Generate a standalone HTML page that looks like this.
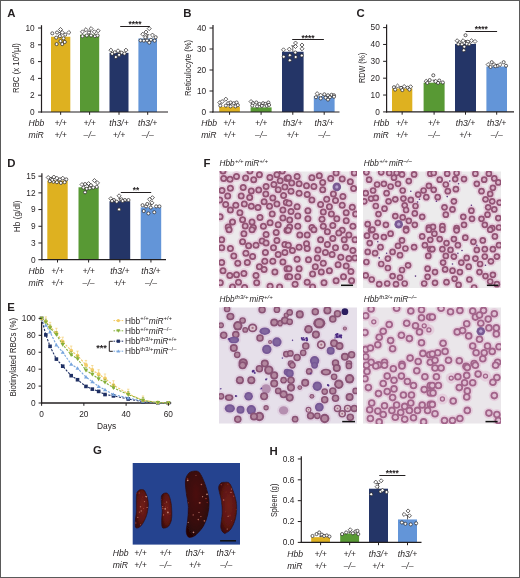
<!DOCTYPE html><html><head><meta charset="utf-8"><style>html,body{margin:0;padding:0;background:#fff;overflow:hidden}svg{display:block;will-change:transform}</style></head><body><svg width="520" height="578" viewBox="0 0 520 578" font-family="'Liberation Sans', sans-serif">
<rect x="0" y="0" width="520" height="578" fill="#fff"/>
<text x="7.30" y="17.40" font-size="11.4" text-anchor="start" font-weight="bold" fill="#231f20" >A</text>
<text x="183.30" y="17.40" font-size="11.4" text-anchor="start" font-weight="bold" fill="#231f20" >B</text>
<text x="356.60" y="17.40" font-size="11.4" text-anchor="start" font-weight="bold" fill="#231f20" >C</text>
<text x="7.30" y="166.60" font-size="11.4" text-anchor="start" font-weight="bold" fill="#231f20" >D</text>
<text x="7.30" y="310.80" font-size="11.4" text-anchor="start" font-weight="bold" fill="#231f20" >E</text>
<text x="203.60" y="166.60" font-size="11.4" text-anchor="start" font-weight="bold" fill="#231f20" >F</text>
<text x="93.00" y="454.20" font-size="11.4" text-anchor="start" font-weight="bold" fill="#231f20" >G</text>
<text x="269.60" y="454.60" font-size="11.4" text-anchor="start" font-weight="bold" fill="#231f20" >H</text>
<rect x="51.00" y="36.74" width="19.30" height="75.26" fill="#deb120"/>
<rect x="80.00" y="34.72" width="19.20" height="77.28" fill="#589934"/>
<rect x="109.50" y="52.86" width="19.00" height="59.14" fill="#243567"/>
<rect x="138.40" y="38.50" width="18.60" height="73.50" fill="#6395d8"/>
<line x1="60.65" y1="36.74" x2="60.65" y2="32.54" stroke="#231f20" stroke-width="0.7" />
<line x1="59.05" y1="32.54" x2="62.25" y2="32.54" stroke="#231f20" stroke-width="0.7" />
<circle cx="52.31" cy="33.35" r="1.55" fill="#fff" stroke="#231f20" stroke-width="0.7"/>
<circle cx="57.05" cy="32.49" r="1.55" fill="#fff" stroke="#231f20" stroke-width="0.7"/>
<path d="M60.49 27.46L62.51 29.48L60.49 31.49L58.48 29.48Z" fill="#fff" stroke="#231f20" stroke-width="0.7"/>
<path d="M62.21 30.48L64.23 32.49L62.21 34.51L60.20 32.49Z" fill="#fff" stroke="#231f20" stroke-width="0.7"/>
<circle cx="65.23" cy="34.65" r="1.55" fill="#fff" stroke="#231f20" stroke-width="0.7"/>
<path d="M68.89 30.48L70.91 32.49L68.89 34.51L66.88 32.49Z" fill="#fff" stroke="#231f20" stroke-width="0.7"/>
<circle cx="56.18" cy="37.66" r="1.55" fill="#fff" stroke="#231f20" stroke-width="0.7"/>
<circle cx="59.85" cy="36.15" r="1.55" fill="#fff" stroke="#231f20" stroke-width="0.7"/>
<circle cx="63.51" cy="38.31" r="1.55" fill="#fff" stroke="#231f20" stroke-width="0.7"/>
<circle cx="60.49" cy="41.11" r="1.55" fill="#fff" stroke="#231f20" stroke-width="0.7"/>
<circle cx="64.80" cy="41.97" r="1.55" fill="#fff" stroke="#231f20" stroke-width="0.7"/>
<circle cx="56.62" cy="44.12" r="1.55" fill="#fff" stroke="#231f20" stroke-width="0.7"/>
<circle cx="62.21" cy="44.12" r="1.55" fill="#fff" stroke="#231f20" stroke-width="0.7"/>
<line x1="89.60" y1="34.72" x2="89.60" y2="31.36" stroke="#231f20" stroke-width="0.7" />
<line x1="88.00" y1="31.36" x2="91.20" y2="31.36" stroke="#231f20" stroke-width="0.7" />
<path d="M82.46 29.83L84.48 31.85L82.46 33.86L80.45 31.85Z" fill="#fff" stroke="#231f20" stroke-width="0.7"/>
<path d="M85.91 27.68L87.92 29.69L85.91 31.71L83.89 29.69Z" fill="#fff" stroke="#231f20" stroke-width="0.7"/>
<path d="M91.08 26.60L93.09 28.62L91.08 30.63L89.06 28.62Z" fill="#fff" stroke="#231f20" stroke-width="0.7"/>
<path d="M94.31 29.83L96.32 31.85L94.31 33.86L92.29 31.85Z" fill="#fff" stroke="#231f20" stroke-width="0.7"/>
<path d="M98.18 28.75L100.20 30.77L98.18 32.78L96.17 30.77Z" fill="#fff" stroke="#231f20" stroke-width="0.7"/>
<circle cx="82.46" cy="36.15" r="1.55" fill="#fff" stroke="#231f20" stroke-width="0.7"/>
<circle cx="86.77" cy="35.51" r="1.55" fill="#fff" stroke="#231f20" stroke-width="0.7"/>
<circle cx="91.08" cy="35.51" r="1.55" fill="#fff" stroke="#231f20" stroke-width="0.7"/>
<circle cx="94.95" cy="36.15" r="1.55" fill="#fff" stroke="#231f20" stroke-width="0.7"/>
<circle cx="97.54" cy="35.51" r="1.55" fill="#fff" stroke="#231f20" stroke-width="0.7"/>
<circle cx="88.92" cy="32.49" r="1.55" fill="#fff" stroke="#231f20" stroke-width="0.7"/>
<line x1="119.00" y1="52.86" x2="119.00" y2="51.18" stroke="#231f20" stroke-width="0.7" />
<line x1="117.40" y1="51.18" x2="120.60" y2="51.18" stroke="#231f20" stroke-width="0.7" />
<path d="M110.89 48.14L112.91 50.15L110.89 52.17L108.88 50.15Z" fill="#fff" stroke="#231f20" stroke-width="0.7"/>
<circle cx="114.77" cy="52.31" r="1.55" fill="#fff" stroke="#231f20" stroke-width="0.7"/>
<path d="M118.00 48.78L120.01 50.80L118.00 52.81L115.98 50.80Z" fill="#fff" stroke="#231f20" stroke-width="0.7"/>
<circle cx="121.66" cy="52.74" r="1.55" fill="#fff" stroke="#231f20" stroke-width="0.7"/>
<path d="M125.97 48.14L127.98 50.15L125.97 52.17L123.95 50.15Z" fill="#fff" stroke="#231f20" stroke-width="0.7"/>
<circle cx="112.18" cy="53.81" r="1.55" fill="#fff" stroke="#231f20" stroke-width="0.7"/>
<circle cx="119.07" cy="54.89" r="1.55" fill="#fff" stroke="#231f20" stroke-width="0.7"/>
<circle cx="124.46" cy="53.60" r="1.55" fill="#fff" stroke="#231f20" stroke-width="0.7"/>
<circle cx="115.84" cy="57.05" r="1.55" fill="#fff" stroke="#231f20" stroke-width="0.7"/>
<line x1="147.70" y1="38.50" x2="147.70" y2="34.72" stroke="#231f20" stroke-width="0.7" />
<line x1="146.10" y1="34.72" x2="149.30" y2="34.72" stroke="#231f20" stroke-width="0.7" />
<path d="M142.77 32.20L144.78 34.21L142.77 36.23L140.75 34.21Z" fill="#fff" stroke="#231f20" stroke-width="0.7"/>
<path d="M146.00 30.05L148.01 32.06L146.00 34.08L143.98 32.06Z" fill="#fff" stroke="#231f20" stroke-width="0.7"/>
<path d="M149.23 26.60L151.24 28.62L149.23 30.63L147.21 28.62Z" fill="#fff" stroke="#231f20" stroke-width="0.7"/>
<path d="M152.46 33.06L154.47 35.08L152.46 37.09L150.44 35.08Z" fill="#fff" stroke="#231f20" stroke-width="0.7"/>
<circle cx="155.69" cy="37.23" r="1.55" fill="#fff" stroke="#231f20" stroke-width="0.7"/>
<circle cx="140.61" cy="40.46" r="1.55" fill="#fff" stroke="#231f20" stroke-width="0.7"/>
<circle cx="143.84" cy="40.68" r="1.55" fill="#fff" stroke="#231f20" stroke-width="0.7"/>
<circle cx="147.07" cy="40.46" r="1.55" fill="#fff" stroke="#231f20" stroke-width="0.7"/>
<circle cx="150.95" cy="39.81" r="1.55" fill="#fff" stroke="#231f20" stroke-width="0.7"/>
<circle cx="154.61" cy="40.68" r="1.55" fill="#fff" stroke="#231f20" stroke-width="0.7"/>
<circle cx="145.35" cy="37.23" r="1.55" fill="#fff" stroke="#231f20" stroke-width="0.7"/>
<circle cx="149.23" cy="42.61" r="1.55" fill="#fff" stroke="#231f20" stroke-width="0.7"/>
<line x1="41.50" y1="25.20" x2="41.50" y2="112.60" stroke="#231f20" stroke-width="1.2" />
<line x1="40.90" y1="112.00" x2="168.00" y2="112.00" stroke="#231f20" stroke-width="1.2" />
<line x1="38.00" y1="112.00" x2="41.50" y2="112.00" stroke="#231f20" stroke-width="1.0" />
<text x="34.70" y="114.80" font-size="8.3" text-anchor="end" fill="#231f20" >0</text>
<line x1="38.00" y1="95.20" x2="41.50" y2="95.20" stroke="#231f20" stroke-width="1.0" />
<text x="34.70" y="98.00" font-size="8.3" text-anchor="end" fill="#231f20" >2</text>
<line x1="38.00" y1="78.40" x2="41.50" y2="78.40" stroke="#231f20" stroke-width="1.0" />
<text x="34.70" y="81.20" font-size="8.3" text-anchor="end" fill="#231f20" >4</text>
<line x1="38.00" y1="61.60" x2="41.50" y2="61.60" stroke="#231f20" stroke-width="1.0" />
<text x="34.70" y="64.40" font-size="8.3" text-anchor="end" fill="#231f20" >6</text>
<line x1="38.00" y1="44.80" x2="41.50" y2="44.80" stroke="#231f20" stroke-width="1.0" />
<text x="34.70" y="47.60" font-size="8.3" text-anchor="end" fill="#231f20" >8</text>
<line x1="38.00" y1="28.00" x2="41.50" y2="28.00" stroke="#231f20" stroke-width="1.0" />
<text x="34.70" y="30.80" font-size="8.3" text-anchor="end" fill="#231f20" >10</text>
<line x1="60.65" y1="112.00" x2="60.65" y2="114.80" stroke="#231f20" stroke-width="1.0" />
<line x1="89.60" y1="112.00" x2="89.60" y2="114.80" stroke="#231f20" stroke-width="1.0" />
<line x1="119.00" y1="112.00" x2="119.00" y2="114.80" stroke="#231f20" stroke-width="1.0" />
<line x1="147.70" y1="112.00" x2="147.70" y2="114.80" stroke="#231f20" stroke-width="1.0" />
<line x1="120.20" y1="26.50" x2="149.80" y2="26.50" stroke="#231f20" stroke-width="1.0" />
<text x="135.00" y="27.00" font-size="8.8" text-anchor="middle" font-weight="bold" textLength="13.10" lengthAdjust="spacingAndGlyphs" fill="#231f20" >****</text>
<text x="0" y="0" font-size="8.4" text-anchor="middle" fill="#231f20" textLength="49.80" lengthAdjust="spacingAndGlyphs" transform="translate(19.30,68.10) rotate(-90)">RBC (x 10<tspan font-size="5.3" dy="-3">6</tspan><tspan dy="3">/µl)</tspan></text>
<text x="28.50" y="125.70" font-size="8.6" text-anchor="start" font-style="italic" fill="#231f20" >Hbb</text>
<text x="28.50" y="138.40" font-size="8.6" text-anchor="start" font-style="italic" fill="#231f20" >miR</text>
<text x="60.65" y="125.70" font-size="8.6" text-anchor="middle" font-style="italic" fill="#231f20" >+/+</text>
<text x="60.65" y="138.40" font-size="8.6" text-anchor="middle" font-style="italic" fill="#231f20" >+/+</text>
<text x="89.60" y="125.70" font-size="8.6" text-anchor="middle" font-style="italic" fill="#231f20" >+/+</text>
<text x="89.60" y="138.40" font-size="8.6" text-anchor="middle" font-style="italic" fill="#231f20" >&#8211;/&#8211;</text>
<text x="119.00" y="125.70" font-size="8.6" text-anchor="middle" font-style="italic" fill="#231f20" >th3/+</text>
<text x="119.00" y="138.40" font-size="8.6" text-anchor="middle" font-style="italic" fill="#231f20" >+/+</text>
<text x="147.70" y="125.70" font-size="8.6" text-anchor="middle" font-style="italic" fill="#231f20" >th3/+</text>
<text x="147.70" y="138.40" font-size="8.6" text-anchor="middle" font-style="italic" fill="#231f20" >&#8211;/&#8211;</text>
<rect x="219.20" y="106.75" width="20.70" height="5.25" fill="#deb120"/>
<rect x="250.60" y="107.38" width="21.00" height="4.62" fill="#589934"/>
<rect x="282.00" y="51.73" width="21.60" height="60.27" fill="#243567"/>
<rect x="313.80" y="96.25" width="20.80" height="15.75" fill="#6395d8"/>
<line x1="229.55" y1="106.75" x2="229.55" y2="104.65" stroke="#231f20" stroke-width="0.7" />
<line x1="227.95" y1="104.65" x2="231.15" y2="104.65" stroke="#231f20" stroke-width="0.7" />
<path d="M219.81 100.48L221.82 102.50L219.81 104.52L217.79 102.50Z" fill="#fff" stroke="#231f20" stroke-width="0.7"/>
<path d="M222.21 99.52L224.23 101.54L222.21 103.55L220.20 101.54Z" fill="#fff" stroke="#231f20" stroke-width="0.7"/>
<path d="M225.82 97.12L227.83 99.13L225.82 101.15L223.80 99.13Z" fill="#fff" stroke="#231f20" stroke-width="0.7"/>
<circle cx="228.22" cy="103.22" r="1.55" fill="#fff" stroke="#231f20" stroke-width="0.7"/>
<circle cx="230.62" cy="102.50" r="1.55" fill="#fff" stroke="#231f20" stroke-width="0.7"/>
<circle cx="233.75" cy="103.22" r="1.55" fill="#fff" stroke="#231f20" stroke-width="0.7"/>
<circle cx="236.63" cy="102.50" r="1.55" fill="#fff" stroke="#231f20" stroke-width="0.7"/>
<circle cx="220.29" cy="105.62" r="1.55" fill="#fff" stroke="#231f20" stroke-width="0.7"/>
<circle cx="225.82" cy="105.62" r="1.55" fill="#fff" stroke="#231f20" stroke-width="0.7"/>
<circle cx="230.62" cy="106.35" r="1.55" fill="#fff" stroke="#231f20" stroke-width="0.7"/>
<circle cx="235.43" cy="106.35" r="1.55" fill="#fff" stroke="#231f20" stroke-width="0.7"/>
<circle cx="237.84" cy="105.14" r="1.55" fill="#fff" stroke="#231f20" stroke-width="0.7"/>
<line x1="261.10" y1="107.38" x2="261.10" y2="105.70" stroke="#231f20" stroke-width="0.7" />
<line x1="259.50" y1="105.70" x2="262.70" y2="105.70" stroke="#231f20" stroke-width="0.7" />
<path d="M251.06 99.52L253.07 101.54L251.06 103.55L249.04 101.54Z" fill="#fff" stroke="#231f20" stroke-width="0.7"/>
<circle cx="252.98" cy="103.22" r="1.55" fill="#fff" stroke="#231f20" stroke-width="0.7"/>
<circle cx="256.35" cy="102.50" r="1.55" fill="#fff" stroke="#231f20" stroke-width="0.7"/>
<circle cx="259.47" cy="103.94" r="1.55" fill="#fff" stroke="#231f20" stroke-width="0.7"/>
<circle cx="263.08" cy="103.22" r="1.55" fill="#fff" stroke="#231f20" stroke-width="0.7"/>
<circle cx="265.48" cy="103.94" r="1.55" fill="#fff" stroke="#231f20" stroke-width="0.7"/>
<circle cx="268.37" cy="102.50" r="1.55" fill="#fff" stroke="#231f20" stroke-width="0.7"/>
<circle cx="252.26" cy="105.62" r="1.55" fill="#fff" stroke="#231f20" stroke-width="0.7"/>
<circle cx="257.07" cy="106.35" r="1.55" fill="#fff" stroke="#231f20" stroke-width="0.7"/>
<circle cx="261.88" cy="105.87" r="1.55" fill="#fff" stroke="#231f20" stroke-width="0.7"/>
<circle cx="266.68" cy="105.87" r="1.55" fill="#fff" stroke="#231f20" stroke-width="0.7"/>
<circle cx="269.09" cy="104.90" r="1.55" fill="#fff" stroke="#231f20" stroke-width="0.7"/>
<line x1="292.80" y1="51.73" x2="292.80" y2="45.85" stroke="#231f20" stroke-width="0.7" />
<line x1="291.20" y1="45.85" x2="294.40" y2="45.85" stroke="#231f20" stroke-width="0.7" />
<path d="M283.51 47.79L285.52 49.81L283.51 51.82L281.49 49.81Z" fill="#fff" stroke="#231f20" stroke-width="0.7"/>
<path d="M289.30 47.19L291.32 49.21L289.30 51.22L287.29 49.21Z" fill="#fff" stroke="#231f20" stroke-width="0.7"/>
<path d="M295.50 40.99L297.52 43.00L295.50 45.02L293.49 43.00Z" fill="#fff" stroke="#231f20" stroke-width="0.7"/>
<path d="M295.50 44.48L297.52 46.49L295.50 48.51L293.49 46.49Z" fill="#fff" stroke="#231f20" stroke-width="0.7"/>
<path d="M302.00 42.99L304.01 45.00L302.00 47.02L299.98 45.00Z" fill="#fff" stroke="#231f20" stroke-width="0.7"/>
<path d="M302.00 46.78L304.01 48.80L302.00 50.81L299.98 48.80Z" fill="#fff" stroke="#231f20" stroke-width="0.7"/>
<circle cx="283.70" cy="56.71" r="1.55" fill="#fff" stroke="#231f20" stroke-width="0.7"/>
<circle cx="289.81" cy="55.19" r="1.55" fill="#fff" stroke="#231f20" stroke-width="0.7"/>
<circle cx="295.29" cy="52.50" r="1.55" fill="#fff" stroke="#231f20" stroke-width="0.7"/>
<circle cx="295.70" cy="57.00" r="1.55" fill="#fff" stroke="#231f20" stroke-width="0.7"/>
<circle cx="301.80" cy="55.50" r="1.55" fill="#fff" stroke="#231f20" stroke-width="0.7"/>
<circle cx="289.81" cy="60.29" r="1.55" fill="#fff" stroke="#231f20" stroke-width="0.7"/>
<line x1="324.20" y1="96.25" x2="324.20" y2="94.57" stroke="#231f20" stroke-width="0.7" />
<line x1="322.60" y1="94.57" x2="325.80" y2="94.57" stroke="#231f20" stroke-width="0.7" />
<path d="M317.16 91.59L319.18 93.61L317.16 95.62L315.15 93.61Z" fill="#fff" stroke="#231f20" stroke-width="0.7"/>
<path d="M320.77 93.27L322.78 95.29L320.77 97.30L318.75 95.29Z" fill="#fff" stroke="#231f20" stroke-width="0.7"/>
<circle cx="324.38" cy="94.33" r="1.55" fill="#fff" stroke="#231f20" stroke-width="0.7"/>
<circle cx="327.98" cy="95.29" r="1.55" fill="#fff" stroke="#231f20" stroke-width="0.7"/>
<circle cx="331.59" cy="94.81" r="1.55" fill="#fff" stroke="#231f20" stroke-width="0.7"/>
<circle cx="333.99" cy="95.29" r="1.55" fill="#fff" stroke="#231f20" stroke-width="0.7"/>
<circle cx="315.96" cy="97.21" r="1.55" fill="#fff" stroke="#231f20" stroke-width="0.7"/>
<circle cx="320.77" cy="98.41" r="1.55" fill="#fff" stroke="#231f20" stroke-width="0.7"/>
<circle cx="325.58" cy="97.69" r="1.55" fill="#fff" stroke="#231f20" stroke-width="0.7"/>
<circle cx="329.90" cy="97.21" r="1.55" fill="#fff" stroke="#231f20" stroke-width="0.7"/>
<circle cx="333.99" cy="96.73" r="1.55" fill="#fff" stroke="#231f20" stroke-width="0.7"/>
<circle cx="327.98" cy="99.62" r="1.55" fill="#fff" stroke="#231f20" stroke-width="0.7"/>
<line x1="213.00" y1="24.90" x2="213.00" y2="112.60" stroke="#231f20" stroke-width="1.2" />
<line x1="212.40" y1="112.00" x2="339.50" y2="112.00" stroke="#231f20" stroke-width="1.2" />
<line x1="209.50" y1="112.00" x2="213.00" y2="112.00" stroke="#231f20" stroke-width="1.0" />
<text x="206.20" y="114.80" font-size="8.3" text-anchor="end" fill="#231f20" >0</text>
<line x1="209.50" y1="91.00" x2="213.00" y2="91.00" stroke="#231f20" stroke-width="1.0" />
<text x="206.20" y="93.80" font-size="8.3" text-anchor="end" fill="#231f20" >10</text>
<line x1="209.50" y1="70.00" x2="213.00" y2="70.00" stroke="#231f20" stroke-width="1.0" />
<text x="206.20" y="72.80" font-size="8.3" text-anchor="end" fill="#231f20" >20</text>
<line x1="209.50" y1="49.00" x2="213.00" y2="49.00" stroke="#231f20" stroke-width="1.0" />
<text x="206.20" y="51.80" font-size="8.3" text-anchor="end" fill="#231f20" >30</text>
<line x1="209.50" y1="28.00" x2="213.00" y2="28.00" stroke="#231f20" stroke-width="1.0" />
<text x="206.20" y="30.80" font-size="8.3" text-anchor="end" fill="#231f20" >40</text>
<line x1="229.55" y1="112.00" x2="229.55" y2="114.80" stroke="#231f20" stroke-width="1.0" />
<line x1="261.10" y1="112.00" x2="261.10" y2="114.80" stroke="#231f20" stroke-width="1.0" />
<line x1="292.80" y1="112.00" x2="292.80" y2="114.80" stroke="#231f20" stroke-width="1.0" />
<line x1="324.20" y1="112.00" x2="324.20" y2="114.80" stroke="#231f20" stroke-width="1.0" />
<line x1="292.20" y1="39.50" x2="323.90" y2="39.50" stroke="#231f20" stroke-width="1.0" />
<text x="308.05" y="40.50" font-size="8.8" text-anchor="middle" font-weight="bold" textLength="13.10" lengthAdjust="spacingAndGlyphs" fill="#231f20" >****</text>
<text x="0" y="0" font-size="8.4" text-anchor="middle" fill="#231f20" textLength="56.10" lengthAdjust="spacingAndGlyphs" transform="translate(191.30,67.90) rotate(-90)">Reticulocyte (%)</text>
<text x="201.20" y="125.70" font-size="8.6" text-anchor="start" font-style="italic" fill="#231f20" >Hbb</text>
<text x="201.20" y="138.40" font-size="8.6" text-anchor="start" font-style="italic" fill="#231f20" >miR</text>
<text x="229.55" y="125.70" font-size="8.6" text-anchor="middle" font-style="italic" fill="#231f20" >+/+</text>
<text x="229.55" y="138.40" font-size="8.6" text-anchor="middle" font-style="italic" fill="#231f20" >+/+</text>
<text x="261.10" y="125.70" font-size="8.6" text-anchor="middle" font-style="italic" fill="#231f20" >+/+</text>
<text x="261.10" y="138.40" font-size="8.6" text-anchor="middle" font-style="italic" fill="#231f20" >&#8211;/&#8211;</text>
<text x="292.80" y="125.70" font-size="8.6" text-anchor="middle" font-style="italic" fill="#231f20" >th3/+</text>
<text x="292.80" y="138.40" font-size="8.6" text-anchor="middle" font-style="italic" fill="#231f20" >+/+</text>
<text x="324.20" y="125.70" font-size="8.6" text-anchor="middle" font-style="italic" fill="#231f20" >th3/+</text>
<text x="324.20" y="138.40" font-size="8.6" text-anchor="middle" font-style="italic" fill="#231f20" >&#8211;/&#8211;</text>
<rect x="392.00" y="88.46" width="20.30" height="23.44" fill="#deb120"/>
<rect x="423.60" y="82.73" width="21.00" height="29.17" fill="#589934"/>
<rect x="455.00" y="43.95" width="21.00" height="67.95" fill="#243567"/>
<rect x="486.40" y="66.55" width="20.60" height="45.35" fill="#6395d8"/>
<line x1="402.15" y1="88.46" x2="402.15" y2="86.78" stroke="#231f20" stroke-width="0.7" />
<line x1="400.55" y1="86.78" x2="403.75" y2="86.78" stroke="#231f20" stroke-width="0.7" />
<circle cx="393.96" cy="87.22" r="1.55" fill="#fff" stroke="#231f20" stroke-width="0.7"/>
<path d="M397.54 84.02L399.55 86.03L397.54 88.05L395.52 86.03Z" fill="#fff" stroke="#231f20" stroke-width="0.7"/>
<circle cx="401.11" cy="87.94" r="1.55" fill="#fff" stroke="#231f20" stroke-width="0.7"/>
<path d="M404.21 84.49L406.23 86.51L404.21 88.52L402.20 86.51Z" fill="#fff" stroke="#231f20" stroke-width="0.7"/>
<circle cx="407.55" cy="87.70" r="1.55" fill="#fff" stroke="#231f20" stroke-width="0.7"/>
<path d="M410.65 84.73L412.67 86.75L410.65 88.76L408.64 86.75Z" fill="#fff" stroke="#231f20" stroke-width="0.7"/>
<circle cx="395.15" cy="89.61" r="1.55" fill="#fff" stroke="#231f20" stroke-width="0.7"/>
<circle cx="402.31" cy="90.09" r="1.55" fill="#fff" stroke="#231f20" stroke-width="0.7"/>
<circle cx="409.46" cy="89.61" r="1.55" fill="#fff" stroke="#231f20" stroke-width="0.7"/>
<line x1="434.10" y1="82.73" x2="434.10" y2="80.20" stroke="#231f20" stroke-width="0.7" />
<line x1="432.50" y1="80.20" x2="435.70" y2="80.20" stroke="#231f20" stroke-width="0.7" />
<path d="M426.15 79.25L428.16 81.26L426.15 83.28L424.13 81.26Z" fill="#fff" stroke="#231f20" stroke-width="0.7"/>
<circle cx="429.73" cy="80.07" r="1.55" fill="#fff" stroke="#231f20" stroke-width="0.7"/>
<circle cx="433.30" cy="75.30" r="1.55" fill="#fff" stroke="#231f20" stroke-width="0.7"/>
<path d="M435.69 79.25L437.70 81.26L435.69 83.28L433.67 81.26Z" fill="#fff" stroke="#231f20" stroke-width="0.7"/>
<circle cx="439.26" cy="80.55" r="1.55" fill="#fff" stroke="#231f20" stroke-width="0.7"/>
<circle cx="442.84" cy="82.46" r="1.55" fill="#fff" stroke="#231f20" stroke-width="0.7"/>
<circle cx="427.34" cy="82.93" r="1.55" fill="#fff" stroke="#231f20" stroke-width="0.7"/>
<circle cx="438.07" cy="82.93" r="1.55" fill="#fff" stroke="#231f20" stroke-width="0.7"/>
<line x1="465.50" y1="43.95" x2="465.50" y2="40.58" stroke="#231f20" stroke-width="0.7" />
<line x1="463.90" y1="40.58" x2="467.10" y2="40.58" stroke="#231f20" stroke-width="0.7" />
<path d="M457.15 38.71L459.16 40.73L457.15 42.74L455.13 40.73Z" fill="#fff" stroke="#231f20" stroke-width="0.7"/>
<circle cx="459.53" cy="42.40" r="1.55" fill="#fff" stroke="#231f20" stroke-width="0.7"/>
<path d="M463.11 38.71L465.12 40.73L463.11 42.74L461.09 40.73Z" fill="#fff" stroke="#231f20" stroke-width="0.7"/>
<circle cx="465.49" cy="35.25" r="1.55" fill="#fff" stroke="#231f20" stroke-width="0.7"/>
<path d="M467.88 39.91L469.89 41.92L467.88 43.94L465.86 41.92Z" fill="#fff" stroke="#231f20" stroke-width="0.7"/>
<path d="M471.45 38.71L473.47 40.73L471.45 42.74L469.44 40.73Z" fill="#fff" stroke="#231f20" stroke-width="0.7"/>
<path d="M475.03 39.43L477.04 41.44L475.03 43.46L473.01 41.44Z" fill="#fff" stroke="#231f20" stroke-width="0.7"/>
<circle cx="458.34" cy="44.31" r="1.55" fill="#fff" stroke="#231f20" stroke-width="0.7"/>
<circle cx="464.30" cy="46.69" r="1.55" fill="#fff" stroke="#231f20" stroke-width="0.7"/>
<circle cx="469.07" cy="44.31" r="1.55" fill="#fff" stroke="#231f20" stroke-width="0.7"/>
<circle cx="461.92" cy="44.31" r="1.55" fill="#fff" stroke="#231f20" stroke-width="0.7"/>
<circle cx="466.68" cy="43.83" r="1.55" fill="#fff" stroke="#231f20" stroke-width="0.7"/>
<circle cx="463.82" cy="50.27" r="1.55" fill="#fff" stroke="#231f20" stroke-width="0.7"/>
<line x1="496.70" y1="66.55" x2="496.70" y2="64.86" stroke="#231f20" stroke-width="0.7" />
<line x1="495.10" y1="64.86" x2="498.30" y2="64.86" stroke="#231f20" stroke-width="0.7" />
<path d="M488.14 62.56L490.16 64.57L488.14 66.59L486.13 64.57Z" fill="#fff" stroke="#231f20" stroke-width="0.7"/>
<circle cx="491.72" cy="62.19" r="1.55" fill="#fff" stroke="#231f20" stroke-width="0.7"/>
<path d="M494.10 62.56L496.12 64.57L494.10 66.59L492.09 64.57Z" fill="#fff" stroke="#231f20" stroke-width="0.7"/>
<circle cx="497.68" cy="65.77" r="1.55" fill="#fff" stroke="#231f20" stroke-width="0.7"/>
<path d="M500.06 62.56L502.08 64.57L500.06 66.59L498.05 64.57Z" fill="#fff" stroke="#231f20" stroke-width="0.7"/>
<circle cx="503.64" cy="62.19" r="1.55" fill="#fff" stroke="#231f20" stroke-width="0.7"/>
<circle cx="506.03" cy="65.77" r="1.55" fill="#fff" stroke="#231f20" stroke-width="0.7"/>
<circle cx="490.53" cy="66.96" r="1.55" fill="#fff" stroke="#231f20" stroke-width="0.7"/>
<circle cx="495.30" cy="66.24" r="1.55" fill="#fff" stroke="#231f20" stroke-width="0.7"/>
<line x1="386.60" y1="24.50" x2="386.60" y2="112.50" stroke="#231f20" stroke-width="1.2" />
<line x1="386.00" y1="111.90" x2="514.00" y2="111.90" stroke="#231f20" stroke-width="1.2" />
<line x1="383.10" y1="111.90" x2="386.60" y2="111.90" stroke="#231f20" stroke-width="1.0" />
<text x="379.80" y="114.70" font-size="8.3" text-anchor="end" fill="#231f20" >0</text>
<line x1="383.10" y1="95.04" x2="386.60" y2="95.04" stroke="#231f20" stroke-width="1.0" />
<text x="379.80" y="97.84" font-size="8.3" text-anchor="end" fill="#231f20" >10</text>
<line x1="383.10" y1="78.18" x2="386.60" y2="78.18" stroke="#231f20" stroke-width="1.0" />
<text x="379.80" y="80.98" font-size="8.3" text-anchor="end" fill="#231f20" >20</text>
<line x1="383.10" y1="61.32" x2="386.60" y2="61.32" stroke="#231f20" stroke-width="1.0" />
<text x="379.80" y="64.12" font-size="8.3" text-anchor="end" fill="#231f20" >30</text>
<line x1="383.10" y1="44.46" x2="386.60" y2="44.46" stroke="#231f20" stroke-width="1.0" />
<text x="379.80" y="47.26" font-size="8.3" text-anchor="end" fill="#231f20" >40</text>
<line x1="383.10" y1="27.60" x2="386.60" y2="27.60" stroke="#231f20" stroke-width="1.0" />
<text x="379.80" y="30.40" font-size="8.3" text-anchor="end" fill="#231f20" >50</text>
<line x1="402.15" y1="111.90" x2="402.15" y2="114.70" stroke="#231f20" stroke-width="1.0" />
<line x1="434.10" y1="111.90" x2="434.10" y2="114.70" stroke="#231f20" stroke-width="1.0" />
<line x1="465.50" y1="111.90" x2="465.50" y2="114.70" stroke="#231f20" stroke-width="1.0" />
<line x1="496.70" y1="111.90" x2="496.70" y2="114.70" stroke="#231f20" stroke-width="1.0" />
<line x1="465.60" y1="31.50" x2="497.10" y2="31.50" stroke="#231f20" stroke-width="1.0" />
<text x="481.35" y="32.20" font-size="8.8" text-anchor="middle" font-weight="bold" textLength="13.10" lengthAdjust="spacingAndGlyphs" fill="#231f20" >****</text>
<text x="0" y="0" font-size="8.4" text-anchor="middle" fill="#231f20" textLength="30.20" lengthAdjust="spacingAndGlyphs" transform="translate(364.50,67.80) rotate(-90)">RDW (%)</text>
<text x="373.50" y="125.70" font-size="8.6" text-anchor="start" font-style="italic" fill="#231f20" >Hbb</text>
<text x="373.50" y="138.40" font-size="8.6" text-anchor="start" font-style="italic" fill="#231f20" >miR</text>
<text x="402.15" y="125.70" font-size="8.6" text-anchor="middle" font-style="italic" fill="#231f20" >+/+</text>
<text x="402.15" y="138.40" font-size="8.6" text-anchor="middle" font-style="italic" fill="#231f20" >+/+</text>
<text x="434.10" y="125.70" font-size="8.6" text-anchor="middle" font-style="italic" fill="#231f20" >+/+</text>
<text x="434.10" y="138.40" font-size="8.6" text-anchor="middle" font-style="italic" fill="#231f20" >&#8211;/&#8211;</text>
<text x="465.50" y="125.70" font-size="8.6" text-anchor="middle" font-style="italic" fill="#231f20" >th3/+</text>
<text x="465.50" y="138.40" font-size="8.6" text-anchor="middle" font-style="italic" fill="#231f20" >+/+</text>
<text x="496.70" y="125.70" font-size="8.6" text-anchor="middle" font-style="italic" fill="#231f20" >th3/+</text>
<text x="496.70" y="138.40" font-size="8.6" text-anchor="middle" font-style="italic" fill="#231f20" >&#8211;/&#8211;</text>
<rect x="47.30" y="180.61" width="20.40" height="79.09" fill="#deb120"/>
<rect x="78.50" y="187.29" width="20.20" height="72.41" fill="#589934"/>
<rect x="109.50" y="201.21" width="20.70" height="58.49" fill="#243567"/>
<rect x="140.70" y="207.34" width="20.50" height="52.36" fill="#6395d8"/>
<line x1="57.50" y1="180.61" x2="57.50" y2="178.66" stroke="#231f20" stroke-width="0.7" />
<line x1="55.90" y1="178.66" x2="59.10" y2="178.66" stroke="#231f20" stroke-width="0.7" />
<path d="M48.22 175.49L50.24 177.51L48.22 179.52L46.21 177.51Z" fill="#fff" stroke="#231f20" stroke-width="0.7"/>
<circle cx="51.04" cy="178.92" r="1.55" fill="#fff" stroke="#231f20" stroke-width="0.7"/>
<path d="M53.85 175.02L55.87 177.04L53.85 179.05L51.84 177.04Z" fill="#fff" stroke="#231f20" stroke-width="0.7"/>
<path d="M56.90 176.20L58.92 178.21L56.90 180.23L54.89 178.21Z" fill="#fff" stroke="#231f20" stroke-width="0.7"/>
<circle cx="59.95" cy="179.39" r="1.55" fill="#fff" stroke="#231f20" stroke-width="0.7"/>
<path d="M62.77 176.20L64.79 178.21L62.77 180.23L60.76 178.21Z" fill="#fff" stroke="#231f20" stroke-width="0.7"/>
<circle cx="66.29" cy="179.39" r="1.55" fill="#fff" stroke="#231f20" stroke-width="0.7"/>
<circle cx="49.87" cy="181.26" r="1.55" fill="#fff" stroke="#231f20" stroke-width="0.7"/>
<circle cx="53.39" cy="181.73" r="1.55" fill="#fff" stroke="#231f20" stroke-width="0.7"/>
<circle cx="56.90" cy="182.20" r="1.55" fill="#fff" stroke="#231f20" stroke-width="0.7"/>
<circle cx="60.89" cy="182.90" r="1.55" fill="#fff" stroke="#231f20" stroke-width="0.7"/>
<circle cx="64.65" cy="182.20" r="1.55" fill="#fff" stroke="#231f20" stroke-width="0.7"/>
<circle cx="52.21" cy="179.85" r="1.55" fill="#fff" stroke="#231f20" stroke-width="0.7"/>
<line x1="88.60" y1="187.29" x2="88.60" y2="184.78" stroke="#231f20" stroke-width="0.7" />
<line x1="87.00" y1="184.78" x2="90.20" y2="184.78" stroke="#231f20" stroke-width="0.7" />
<path d="M82.01 182.53L84.03 184.55L82.01 186.56L80.00 184.55Z" fill="#fff" stroke="#231f20" stroke-width="0.7"/>
<circle cx="85.06" cy="184.08" r="1.55" fill="#fff" stroke="#231f20" stroke-width="0.7"/>
<path d="M88.58 181.59L90.60 183.61L88.58 185.62L86.57 183.61Z" fill="#fff" stroke="#231f20" stroke-width="0.7"/>
<circle cx="90.93" cy="185.25" r="1.55" fill="#fff" stroke="#231f20" stroke-width="0.7"/>
<path d="M94.45 178.54L96.46 180.56L94.45 182.57L92.43 180.56Z" fill="#fff" stroke="#231f20" stroke-width="0.7"/>
<path d="M97.50 180.89L99.51 182.90L97.50 184.92L95.48 182.90Z" fill="#fff" stroke="#231f20" stroke-width="0.7"/>
<circle cx="83.42" cy="187.60" r="1.55" fill="#fff" stroke="#231f20" stroke-width="0.7"/>
<circle cx="86.70" cy="188.77" r="1.55" fill="#fff" stroke="#231f20" stroke-width="0.7"/>
<circle cx="89.75" cy="188.30" r="1.55" fill="#fff" stroke="#231f20" stroke-width="0.7"/>
<circle cx="93.27" cy="187.60" r="1.55" fill="#fff" stroke="#231f20" stroke-width="0.7"/>
<circle cx="96.79" cy="186.89" r="1.55" fill="#fff" stroke="#231f20" stroke-width="0.7"/>
<circle cx="85.06" cy="192.29" r="1.55" fill="#fff" stroke="#231f20" stroke-width="0.7"/>
<line x1="119.85" y1="201.21" x2="119.85" y2="198.71" stroke="#231f20" stroke-width="0.7" />
<line x1="118.25" y1="198.71" x2="121.45" y2="198.71" stroke="#231f20" stroke-width="0.7" />
<path d="M110.87 196.61L112.89 198.63L110.87 200.64L108.86 198.63Z" fill="#fff" stroke="#231f20" stroke-width="0.7"/>
<circle cx="113.92" cy="200.03" r="1.55" fill="#fff" stroke="#231f20" stroke-width="0.7"/>
<path d="M119.08 193.79L121.10 195.81L119.08 197.82L117.07 195.81Z" fill="#fff" stroke="#231f20" stroke-width="0.7"/>
<circle cx="121.43" cy="199.33" r="1.55" fill="#fff" stroke="#231f20" stroke-width="0.7"/>
<circle cx="124.95" cy="200.03" r="1.55" fill="#fff" stroke="#231f20" stroke-width="0.7"/>
<circle cx="128.47" cy="200.03" r="1.55" fill="#fff" stroke="#231f20" stroke-width="0.7"/>
<circle cx="112.04" cy="200.97" r="1.55" fill="#fff" stroke="#231f20" stroke-width="0.7"/>
<circle cx="116.74" cy="201.68" r="1.55" fill="#fff" stroke="#231f20" stroke-width="0.7"/>
<circle cx="122.60" cy="200.97" r="1.55" fill="#fff" stroke="#231f20" stroke-width="0.7"/>
<circle cx="119.08" cy="209.42" r="1.55" fill="#fff" stroke="#231f20" stroke-width="0.7"/>
<line x1="150.95" y1="207.34" x2="150.95" y2="204.00" stroke="#231f20" stroke-width="0.7" />
<line x1="149.35" y1="204.00" x2="152.55" y2="204.00" stroke="#231f20" stroke-width="0.7" />
<circle cx="142.55" cy="205.19" r="1.55" fill="#fff" stroke="#231f20" stroke-width="0.7"/>
<circle cx="146.06" cy="206.37" r="1.55" fill="#fff" stroke="#231f20" stroke-width="0.7"/>
<path d="M149.58 197.31L151.60 199.33L149.58 201.34L147.57 199.33Z" fill="#fff" stroke="#231f20" stroke-width="0.7"/>
<path d="M152.40 195.67L154.41 197.69L152.40 199.70L150.38 197.69Z" fill="#fff" stroke="#231f20" stroke-width="0.7"/>
<circle cx="156.15" cy="206.37" r="1.55" fill="#fff" stroke="#231f20" stroke-width="0.7"/>
<circle cx="159.44" cy="206.37" r="1.55" fill="#fff" stroke="#231f20" stroke-width="0.7"/>
<circle cx="147.24" cy="204.02" r="1.55" fill="#fff" stroke="#231f20" stroke-width="0.7"/>
<circle cx="150.76" cy="207.54" r="1.55" fill="#fff" stroke="#231f20" stroke-width="0.7"/>
<circle cx="143.72" cy="211.06" r="1.55" fill="#fff" stroke="#231f20" stroke-width="0.7"/>
<circle cx="148.41" cy="213.41" r="1.55" fill="#fff" stroke="#231f20" stroke-width="0.7"/>
<circle cx="154.28" cy="212.23" r="1.55" fill="#fff" stroke="#231f20" stroke-width="0.7"/>
<path d="M151.93 200.83L153.95 202.85L151.93 204.86L149.92 202.85Z" fill="#fff" stroke="#231f20" stroke-width="0.7"/>
<line x1="41.90" y1="173.20" x2="41.90" y2="260.30" stroke="#231f20" stroke-width="1.2" />
<line x1="41.30" y1="259.70" x2="166.00" y2="259.70" stroke="#231f20" stroke-width="1.2" />
<line x1="38.40" y1="259.70" x2="41.90" y2="259.70" stroke="#231f20" stroke-width="1.0" />
<text x="35.60" y="262.50" font-size="8.3" text-anchor="end" fill="#231f20" >0</text>
<line x1="38.40" y1="242.99" x2="41.90" y2="242.99" stroke="#231f20" stroke-width="1.0" />
<text x="35.60" y="245.79" font-size="8.3" text-anchor="end" fill="#231f20" >3</text>
<line x1="38.40" y1="226.28" x2="41.90" y2="226.28" stroke="#231f20" stroke-width="1.0" />
<text x="35.60" y="229.08" font-size="8.3" text-anchor="end" fill="#231f20" >9</text>
<line x1="38.40" y1="209.57" x2="41.90" y2="209.57" stroke="#231f20" stroke-width="1.0" />
<text x="35.60" y="212.37" font-size="8.3" text-anchor="end" fill="#231f20" >9</text>
<line x1="38.40" y1="192.86" x2="41.90" y2="192.86" stroke="#231f20" stroke-width="1.0" />
<text x="35.60" y="195.66" font-size="8.3" text-anchor="end" fill="#231f20" >12</text>
<line x1="38.40" y1="176.15" x2="41.90" y2="176.15" stroke="#231f20" stroke-width="1.0" />
<text x="35.60" y="178.95" font-size="8.3" text-anchor="end" fill="#231f20" >15</text>
<line x1="57.50" y1="259.70" x2="57.50" y2="262.50" stroke="#231f20" stroke-width="1.0" />
<line x1="88.60" y1="259.70" x2="88.60" y2="262.50" stroke="#231f20" stroke-width="1.0" />
<line x1="119.85" y1="259.70" x2="119.85" y2="262.50" stroke="#231f20" stroke-width="1.0" />
<line x1="150.95" y1="259.70" x2="150.95" y2="262.50" stroke="#231f20" stroke-width="1.0" />
<line x1="120.80" y1="192.50" x2="151.20" y2="192.50" stroke="#231f20" stroke-width="1.0" />
<text x="136.00" y="193.20" font-size="8.8" text-anchor="middle" font-weight="bold" textLength="6.40" lengthAdjust="spacingAndGlyphs" fill="#231f20" >**</text>
<text x="0" y="0" font-size="8.4" text-anchor="middle" fill="#231f20" textLength="31.80" lengthAdjust="spacingAndGlyphs" transform="translate(19.80,216.30) rotate(-90)">Hb (g/dl)</text>
<text x="28.50" y="273.80" font-size="8.6" text-anchor="start" font-style="italic" fill="#231f20" >Hbb</text>
<text x="28.50" y="286.30" font-size="8.6" text-anchor="start" font-style="italic" fill="#231f20" >miR</text>
<text x="57.50" y="273.80" font-size="8.6" text-anchor="middle" font-style="italic" fill="#231f20" >+/+</text>
<text x="57.50" y="286.30" font-size="8.6" text-anchor="middle" font-style="italic" fill="#231f20" >+/+</text>
<text x="88.60" y="273.80" font-size="8.6" text-anchor="middle" font-style="italic" fill="#231f20" >+/+</text>
<text x="88.60" y="286.30" font-size="8.6" text-anchor="middle" font-style="italic" fill="#231f20" >&#8211;/&#8211;</text>
<text x="119.85" y="273.80" font-size="8.6" text-anchor="middle" font-style="italic" fill="#231f20" >th3/+</text>
<text x="119.85" y="286.30" font-size="8.6" text-anchor="middle" font-style="italic" fill="#231f20" >+/+</text>
<text x="150.95" y="273.80" font-size="8.6" text-anchor="middle" font-style="italic" fill="#231f20" >th3/+</text>
<text x="150.95" y="286.30" font-size="8.6" text-anchor="middle" font-style="italic" fill="#231f20" >&#8211;/&#8211;</text>
<rect x="311.20" y="537.18" width="18.80" height="5.22" fill="#deb120"/>
<rect x="340.20" y="533.53" width="18.90" height="8.87" fill="#589934"/>
<rect x="369.00" y="488.69" width="19.00" height="53.71" fill="#243567"/>
<rect x="398.00" y="519.45" width="19.00" height="22.95" fill="#6395d8"/>
<line x1="320.60" y1="537.18" x2="320.60" y2="536.14" stroke="#231f20" stroke-width="0.7" />
<line x1="319.00" y1="536.14" x2="322.20" y2="536.14" stroke="#231f20" stroke-width="0.7" />
<circle cx="312.50" cy="535.97" r="1.55" fill="#fff" stroke="#231f20" stroke-width="0.7"/>
<circle cx="316.54" cy="534.08" r="1.55" fill="#fff" stroke="#231f20" stroke-width="0.7"/>
<circle cx="319.23" cy="532.47" r="1.55" fill="#fff" stroke="#231f20" stroke-width="0.7"/>
<circle cx="321.93" cy="534.62" r="1.55" fill="#fff" stroke="#231f20" stroke-width="0.7"/>
<circle cx="324.08" cy="535.97" r="1.55" fill="#fff" stroke="#231f20" stroke-width="0.7"/>
<circle cx="326.77" cy="535.43" r="1.55" fill="#fff" stroke="#231f20" stroke-width="0.7"/>
<circle cx="329.46" cy="536.51" r="1.55" fill="#fff" stroke="#231f20" stroke-width="0.7"/>
<line x1="349.65" y1="533.53" x2="349.65" y2="531.97" stroke="#231f20" stroke-width="0.7" />
<line x1="348.05" y1="531.97" x2="351.25" y2="531.97" stroke="#231f20" stroke-width="0.7" />
<circle cx="342.12" cy="534.08" r="1.55" fill="#fff" stroke="#231f20" stroke-width="0.7"/>
<circle cx="346.16" cy="532.47" r="1.55" fill="#fff" stroke="#231f20" stroke-width="0.7"/>
<path d="M350.20 527.76L352.21 529.77L350.20 531.79L348.18 529.77Z" fill="#fff" stroke="#231f20" stroke-width="0.7"/>
<circle cx="352.89" cy="533.27" r="1.55" fill="#fff" stroke="#231f20" stroke-width="0.7"/>
<circle cx="355.58" cy="531.39" r="1.55" fill="#fff" stroke="#231f20" stroke-width="0.7"/>
<circle cx="358.27" cy="534.08" r="1.55" fill="#fff" stroke="#231f20" stroke-width="0.7"/>
<circle cx="357.47" cy="530.85" r="1.55" fill="#fff" stroke="#231f20" stroke-width="0.7"/>
<line x1="378.50" y1="488.69" x2="378.50" y2="483.47" stroke="#231f20" stroke-width="0.7" />
<line x1="376.90" y1="483.47" x2="380.10" y2="483.47" stroke="#231f20" stroke-width="0.7" />
<circle cx="371.20" cy="494.23" r="1.55" fill="#fff" stroke="#231f20" stroke-width="0.7"/>
<path d="M375.78 480.10L377.79 482.12L375.78 484.13L373.76 482.12Z" fill="#fff" stroke="#231f20" stroke-width="0.7"/>
<path d="M377.12 484.68L379.14 486.69L377.12 488.71L375.11 486.69Z" fill="#fff" stroke="#231f20" stroke-width="0.7"/>
<path d="M381.16 478.76L383.18 480.77L381.16 482.79L379.15 480.77Z" fill="#fff" stroke="#231f20" stroke-width="0.7"/>
<circle cx="380.62" cy="491.54" r="1.55" fill="#fff" stroke="#231f20" stroke-width="0.7"/>
<path d="M382.51 488.18L384.52 490.19L382.51 492.21L380.49 490.19Z" fill="#fff" stroke="#231f20" stroke-width="0.7"/>
<circle cx="386.55" cy="492.08" r="1.55" fill="#fff" stroke="#231f20" stroke-width="0.7"/>
<line x1="407.50" y1="519.45" x2="407.50" y2="515.28" stroke="#231f20" stroke-width="0.7" />
<line x1="405.90" y1="515.28" x2="409.10" y2="515.28" stroke="#231f20" stroke-width="0.7" />
<path d="M404.05 512.41L406.06 514.43L404.05 516.44L402.03 514.43Z" fill="#fff" stroke="#231f20" stroke-width="0.7"/>
<path d="M408.09 508.91L410.10 510.93L408.09 512.94L406.07 510.93Z" fill="#fff" stroke="#231f20" stroke-width="0.7"/>
<path d="M409.43 513.76L411.45 515.77L409.43 517.79L407.42 515.77Z" fill="#fff" stroke="#231f20" stroke-width="0.7"/>
<circle cx="401.89" cy="522.50" r="1.55" fill="#fff" stroke="#231f20" stroke-width="0.7"/>
<circle cx="405.39" cy="523.85" r="1.55" fill="#fff" stroke="#231f20" stroke-width="0.7"/>
<circle cx="410.78" cy="524.39" r="1.55" fill="#fff" stroke="#231f20" stroke-width="0.7"/>
<circle cx="416.16" cy="523.31" r="1.55" fill="#fff" stroke="#231f20" stroke-width="0.7"/>
<line x1="301.30" y1="456.20" x2="301.30" y2="543.00" stroke="#231f20" stroke-width="1.2" />
<line x1="300.70" y1="542.40" x2="421.50" y2="542.40" stroke="#231f20" stroke-width="1.2" />
<line x1="297.80" y1="542.40" x2="301.30" y2="542.40" stroke="#231f20" stroke-width="1.0" />
<text x="294.40" y="545.20" font-size="8.3" text-anchor="end" fill="#231f20" >0.0</text>
<line x1="297.80" y1="521.54" x2="301.30" y2="521.54" stroke="#231f20" stroke-width="1.0" />
<text x="294.40" y="524.34" font-size="8.3" text-anchor="end" fill="#231f20" >0.2</text>
<line x1="297.80" y1="500.68" x2="301.30" y2="500.68" stroke="#231f20" stroke-width="1.0" />
<text x="294.40" y="503.48" font-size="8.3" text-anchor="end" fill="#231f20" >0.4</text>
<line x1="297.80" y1="479.82" x2="301.30" y2="479.82" stroke="#231f20" stroke-width="1.0" />
<text x="294.40" y="482.62" font-size="8.3" text-anchor="end" fill="#231f20" >0.6</text>
<line x1="297.80" y1="458.96" x2="301.30" y2="458.96" stroke="#231f20" stroke-width="1.0" />
<text x="294.40" y="461.76" font-size="8.3" text-anchor="end" fill="#231f20" >0.8</text>
<line x1="320.60" y1="542.40" x2="320.60" y2="545.20" stroke="#231f20" stroke-width="1.0" />
<line x1="349.65" y1="542.40" x2="349.65" y2="545.20" stroke="#231f20" stroke-width="1.0" />
<line x1="378.50" y1="542.40" x2="378.50" y2="545.20" stroke="#231f20" stroke-width="1.0" />
<line x1="407.50" y1="542.40" x2="407.50" y2="545.20" stroke="#231f20" stroke-width="1.0" />
<line x1="379.30" y1="475.50" x2="405.40" y2="475.50" stroke="#231f20" stroke-width="1.0" />
<text x="392.35" y="476.30" font-size="8.8" text-anchor="middle" font-weight="bold" textLength="13.10" lengthAdjust="spacingAndGlyphs" fill="#231f20" >****</text>
<text x="0" y="0" font-size="8.4" text-anchor="middle" fill="#231f20" textLength="33.40" lengthAdjust="spacingAndGlyphs" transform="translate(276.50,500.40) rotate(-90)">Spleen (g)</text>
<text x="287.20" y="556.60" font-size="8.6" text-anchor="start" font-style="italic" fill="#231f20" >Hbb</text>
<text x="287.20" y="568.70" font-size="8.6" text-anchor="start" font-style="italic" fill="#231f20" >miR</text>
<text x="320.60" y="556.60" font-size="8.6" text-anchor="middle" font-style="italic" fill="#231f20" >+/+</text>
<text x="320.60" y="568.70" font-size="8.6" text-anchor="middle" font-style="italic" fill="#231f20" >+/+</text>
<text x="349.65" y="556.60" font-size="8.6" text-anchor="middle" font-style="italic" fill="#231f20" >+/+</text>
<text x="349.65" y="568.70" font-size="8.6" text-anchor="middle" font-style="italic" fill="#231f20" >&#8211;/&#8211;</text>
<text x="378.50" y="556.60" font-size="8.6" text-anchor="middle" font-style="italic" fill="#231f20" >th3/+</text>
<text x="378.50" y="568.70" font-size="8.6" text-anchor="middle" font-style="italic" fill="#231f20" >+/+</text>
<text x="407.50" y="556.60" font-size="8.6" text-anchor="middle" font-style="italic" fill="#231f20" >th3/+</text>
<text x="407.50" y="568.70" font-size="8.6" text-anchor="middle" font-style="italic" fill="#231f20" >&#8211;/&#8211;</text>
<line x1="41.60" y1="321.50" x2="41.60" y2="403.60" stroke="#231f20" stroke-width="1.3" />
<line x1="41.00" y1="403.00" x2="171.20" y2="403.00" stroke="#231f20" stroke-width="1.3" />
<polyline fill="none" stroke="#1f2f63" stroke-width="1.1" stroke-dasharray="2.2 1.4" points="41.60,318.40 45.83,334.90 50.05,346.32 56.39,359.09 62.73,366.20 71.18,375.67 77.52,379.74 85.97,386.42 92.31,389.13 98.65,391.41 104.99,394.54 113.44,395.89 128.23,399.02 143.02,401.73 157.81,402.83 168.38,403.00"/>
<polyline fill="none" stroke="#78a6de" stroke-width="1.1" stroke-dasharray="2.2 1.4" points="41.60,318.40 45.83,325.17 50.05,331.94 56.39,345.05 62.73,352.24 71.18,364.17 77.52,368.31 85.97,377.03 92.31,381.68 98.65,386.42 104.99,389.80 113.44,394.54 128.23,397.92 143.02,401.31 157.81,402.75 168.38,403.00"/>
<polyline fill="none" stroke="#f2cb66" stroke-width="1.1" stroke-dasharray="2.2 1.4" points="41.60,318.40 45.83,321.36 50.05,326.86 56.39,332.78 62.73,341.67 71.18,350.55 77.52,355.62 85.97,364.93 92.31,370.01 98.65,374.24 104.99,378.47 113.44,385.23 128.23,393.69 143.02,400.46 157.81,402.49 168.38,403.00"/>
<polyline fill="none" stroke="#86b03a" stroke-width="1.1" stroke-dasharray="2.2 1.4" points="41.60,318.40 45.83,322.12 50.05,327.96 56.39,334.64 62.73,344.63 71.18,354.78 77.52,358.84 85.97,370.34 92.31,374.32 98.65,378.97 104.99,382.36 113.44,387.77 128.23,394.54 143.02,400.46 157.81,402.58 168.38,403.00"/>
<rect x="39.80" y="316.60" width="3.60" height="3.60" fill="#1f2f63"/>
<rect x="44.03" y="333.10" width="3.60" height="3.60" fill="#1f2f63"/>
<rect x="48.25" y="344.52" width="3.60" height="3.60" fill="#1f2f63"/>
<rect x="54.59" y="357.29" width="3.60" height="3.60" fill="#1f2f63"/>
<rect x="60.93" y="364.40" width="3.60" height="3.60" fill="#1f2f63"/>
<rect x="69.38" y="373.87" width="3.60" height="3.60" fill="#1f2f63"/>
<rect x="75.72" y="377.94" width="3.60" height="3.60" fill="#1f2f63"/>
<rect x="84.17" y="384.62" width="3.60" height="3.60" fill="#1f2f63"/>
<rect x="90.51" y="387.33" width="3.60" height="3.60" fill="#1f2f63"/>
<rect x="96.85" y="389.61" width="3.60" height="3.60" fill="#1f2f63"/>
<rect x="103.19" y="392.74" width="3.60" height="3.60" fill="#1f2f63"/>
<rect x="111.64" y="394.09" width="3.60" height="3.60" fill="#1f2f63"/>
<rect x="126.43" y="397.22" width="3.60" height="3.60" fill="#1f2f63"/>
<rect x="141.22" y="399.93" width="3.60" height="3.60" fill="#1f2f63"/>
<rect x="156.01" y="401.03" width="3.60" height="3.60" fill="#1f2f63"/>
<rect x="166.58" y="401.20" width="3.60" height="3.60" fill="#1f2f63"/>
<path d="M39.60 319.90L43.60 319.90L41.60 316.40Z" fill="#78a6de"/>
<path d="M43.83 326.67L47.83 326.67L45.83 323.17Z" fill="#78a6de"/>
<path d="M48.05 333.44L52.05 333.44L50.05 329.94Z" fill="#78a6de"/>
<path d="M54.39 346.55L58.39 346.55L56.39 343.05Z" fill="#78a6de"/>
<path d="M60.73 353.74L64.73 353.74L62.73 350.24Z" fill="#78a6de"/>
<path d="M69.18 365.67L73.18 365.67L71.18 362.17Z" fill="#78a6de"/>
<path d="M75.52 369.81L79.52 369.81L77.52 366.31Z" fill="#78a6de"/>
<path d="M83.97 378.53L87.97 378.53L85.97 375.03Z" fill="#78a6de"/>
<path d="M90.31 383.18L94.31 383.18L92.31 379.68Z" fill="#78a6de"/>
<path d="M96.65 387.92L100.65 387.92L98.65 384.42Z" fill="#78a6de"/>
<path d="M102.99 391.30L106.99 391.30L104.99 387.80Z" fill="#78a6de"/>
<path d="M111.44 396.04L115.44 396.04L113.44 392.54Z" fill="#78a6de"/>
<path d="M126.23 399.42L130.23 399.42L128.23 395.92Z" fill="#78a6de"/>
<path d="M141.02 402.81L145.02 402.81L143.02 399.31Z" fill="#78a6de"/>
<path d="M155.81 404.25L159.81 404.25L157.81 400.75Z" fill="#78a6de"/>
<path d="M166.38 404.50L170.38 404.50L168.38 401.00Z" fill="#78a6de"/>
<circle cx="41.60" cy="318.40" r="1.90" fill="#f2cb66"/>
<line x1="45.83" y1="321.36" x2="45.83" y2="316.86" stroke="#f2cb66" stroke-width="0.6" />
<line x1="44.63" y1="316.86" x2="47.03" y2="316.86" stroke="#f2cb66" stroke-width="0.6" />
<circle cx="45.83" cy="321.36" r="1.90" fill="#f2cb66"/>
<line x1="50.05" y1="326.86" x2="50.05" y2="322.36" stroke="#f2cb66" stroke-width="0.6" />
<line x1="48.85" y1="322.36" x2="51.25" y2="322.36" stroke="#f2cb66" stroke-width="0.6" />
<circle cx="50.05" cy="326.86" r="1.90" fill="#f2cb66"/>
<line x1="56.39" y1="332.78" x2="56.39" y2="328.28" stroke="#f2cb66" stroke-width="0.6" />
<line x1="55.19" y1="328.28" x2="57.59" y2="328.28" stroke="#f2cb66" stroke-width="0.6" />
<circle cx="56.39" cy="332.78" r="1.90" fill="#f2cb66"/>
<line x1="62.73" y1="341.67" x2="62.73" y2="337.17" stroke="#f2cb66" stroke-width="0.6" />
<line x1="61.53" y1="337.17" x2="63.93" y2="337.17" stroke="#f2cb66" stroke-width="0.6" />
<circle cx="62.73" cy="341.67" r="1.90" fill="#f2cb66"/>
<line x1="71.18" y1="350.55" x2="71.18" y2="346.05" stroke="#f2cb66" stroke-width="0.6" />
<line x1="69.98" y1="346.05" x2="72.38" y2="346.05" stroke="#f2cb66" stroke-width="0.6" />
<circle cx="71.18" cy="350.55" r="1.90" fill="#f2cb66"/>
<line x1="77.52" y1="355.62" x2="77.52" y2="351.12" stroke="#f2cb66" stroke-width="0.6" />
<line x1="76.32" y1="351.12" x2="78.72" y2="351.12" stroke="#f2cb66" stroke-width="0.6" />
<circle cx="77.52" cy="355.62" r="1.90" fill="#f2cb66"/>
<line x1="85.97" y1="364.93" x2="85.97" y2="360.43" stroke="#f2cb66" stroke-width="0.6" />
<line x1="84.77" y1="360.43" x2="87.17" y2="360.43" stroke="#f2cb66" stroke-width="0.6" />
<circle cx="85.97" cy="364.93" r="1.90" fill="#f2cb66"/>
<line x1="92.31" y1="370.01" x2="92.31" y2="365.51" stroke="#f2cb66" stroke-width="0.6" />
<line x1="91.11" y1="365.51" x2="93.51" y2="365.51" stroke="#f2cb66" stroke-width="0.6" />
<circle cx="92.31" cy="370.01" r="1.90" fill="#f2cb66"/>
<line x1="98.65" y1="374.24" x2="98.65" y2="369.74" stroke="#f2cb66" stroke-width="0.6" />
<line x1="97.45" y1="369.74" x2="99.85" y2="369.74" stroke="#f2cb66" stroke-width="0.6" />
<circle cx="98.65" cy="374.24" r="1.90" fill="#f2cb66"/>
<line x1="104.99" y1="378.47" x2="104.99" y2="373.97" stroke="#f2cb66" stroke-width="0.6" />
<line x1="103.79" y1="373.97" x2="106.19" y2="373.97" stroke="#f2cb66" stroke-width="0.6" />
<circle cx="104.99" cy="378.47" r="1.90" fill="#f2cb66"/>
<line x1="113.44" y1="385.23" x2="113.44" y2="380.73" stroke="#f2cb66" stroke-width="0.6" />
<line x1="112.24" y1="380.73" x2="114.64" y2="380.73" stroke="#f2cb66" stroke-width="0.6" />
<circle cx="113.44" cy="385.23" r="1.90" fill="#f2cb66"/>
<line x1="128.23" y1="393.69" x2="128.23" y2="389.19" stroke="#f2cb66" stroke-width="0.6" />
<line x1="127.03" y1="389.19" x2="129.43" y2="389.19" stroke="#f2cb66" stroke-width="0.6" />
<circle cx="128.23" cy="393.69" r="1.90" fill="#f2cb66"/>
<line x1="143.02" y1="400.46" x2="143.02" y2="395.96" stroke="#f2cb66" stroke-width="0.6" />
<line x1="141.82" y1="395.96" x2="144.22" y2="395.96" stroke="#f2cb66" stroke-width="0.6" />
<circle cx="143.02" cy="400.46" r="1.90" fill="#f2cb66"/>
<circle cx="157.81" cy="402.49" r="1.90" fill="#f2cb66"/>
<circle cx="168.38" cy="403.00" r="1.90" fill="#f2cb66"/>
<path d="M39.40 316.80L43.80 316.80L41.60 320.60Z" fill="#86b03a"/>
<line x1="45.83" y1="322.12" x2="45.83" y2="319.12" stroke="#86b03a" stroke-width="0.6" />
<line x1="44.63" y1="319.12" x2="47.03" y2="319.12" stroke="#86b03a" stroke-width="0.6" />
<path d="M43.63 320.52L48.03 320.52L45.83 324.32Z" fill="#86b03a"/>
<line x1="50.05" y1="327.96" x2="50.05" y2="324.96" stroke="#86b03a" stroke-width="0.6" />
<line x1="48.85" y1="324.96" x2="51.25" y2="324.96" stroke="#86b03a" stroke-width="0.6" />
<path d="M47.85 326.36L52.25 326.36L50.05 330.16Z" fill="#86b03a"/>
<line x1="56.39" y1="334.64" x2="56.39" y2="331.64" stroke="#86b03a" stroke-width="0.6" />
<line x1="55.19" y1="331.64" x2="57.59" y2="331.64" stroke="#86b03a" stroke-width="0.6" />
<path d="M54.19 333.04L58.59 333.04L56.39 336.84Z" fill="#86b03a"/>
<line x1="62.73" y1="344.63" x2="62.73" y2="341.63" stroke="#86b03a" stroke-width="0.6" />
<line x1="61.53" y1="341.63" x2="63.93" y2="341.63" stroke="#86b03a" stroke-width="0.6" />
<path d="M60.53 343.03L64.93 343.03L62.73 346.83Z" fill="#86b03a"/>
<line x1="71.18" y1="354.78" x2="71.18" y2="351.78" stroke="#86b03a" stroke-width="0.6" />
<line x1="69.98" y1="351.78" x2="72.38" y2="351.78" stroke="#86b03a" stroke-width="0.6" />
<path d="M68.98 353.18L73.38 353.18L71.18 356.98Z" fill="#86b03a"/>
<line x1="77.52" y1="358.84" x2="77.52" y2="355.84" stroke="#86b03a" stroke-width="0.6" />
<line x1="76.32" y1="355.84" x2="78.72" y2="355.84" stroke="#86b03a" stroke-width="0.6" />
<path d="M75.32 357.24L79.72 357.24L77.52 361.04Z" fill="#86b03a"/>
<line x1="85.97" y1="370.34" x2="85.97" y2="367.34" stroke="#86b03a" stroke-width="0.6" />
<line x1="84.77" y1="367.34" x2="87.17" y2="367.34" stroke="#86b03a" stroke-width="0.6" />
<path d="M83.77 368.74L88.17 368.74L85.97 372.54Z" fill="#86b03a"/>
<line x1="92.31" y1="374.32" x2="92.31" y2="371.32" stroke="#86b03a" stroke-width="0.6" />
<line x1="91.11" y1="371.32" x2="93.51" y2="371.32" stroke="#86b03a" stroke-width="0.6" />
<path d="M90.11 372.72L94.51 372.72L92.31 376.52Z" fill="#86b03a"/>
<line x1="98.65" y1="378.97" x2="98.65" y2="375.97" stroke="#86b03a" stroke-width="0.6" />
<line x1="97.45" y1="375.97" x2="99.85" y2="375.97" stroke="#86b03a" stroke-width="0.6" />
<path d="M96.45 377.37L100.85 377.37L98.65 381.17Z" fill="#86b03a"/>
<line x1="104.99" y1="382.36" x2="104.99" y2="379.36" stroke="#86b03a" stroke-width="0.6" />
<line x1="103.79" y1="379.36" x2="106.19" y2="379.36" stroke="#86b03a" stroke-width="0.6" />
<path d="M102.79 380.76L107.19 380.76L104.99 384.56Z" fill="#86b03a"/>
<line x1="113.44" y1="387.77" x2="113.44" y2="384.77" stroke="#86b03a" stroke-width="0.6" />
<line x1="112.24" y1="384.77" x2="114.64" y2="384.77" stroke="#86b03a" stroke-width="0.6" />
<path d="M111.24 386.17L115.64 386.17L113.44 389.97Z" fill="#86b03a"/>
<line x1="128.23" y1="394.54" x2="128.23" y2="391.54" stroke="#86b03a" stroke-width="0.6" />
<line x1="127.03" y1="391.54" x2="129.43" y2="391.54" stroke="#86b03a" stroke-width="0.6" />
<path d="M126.03 392.94L130.43 392.94L128.23 396.74Z" fill="#86b03a"/>
<line x1="143.02" y1="400.46" x2="143.02" y2="397.46" stroke="#86b03a" stroke-width="0.6" />
<line x1="141.82" y1="397.46" x2="144.22" y2="397.46" stroke="#86b03a" stroke-width="0.6" />
<path d="M140.82 398.86L145.22 398.86L143.02 402.66Z" fill="#86b03a"/>
<path d="M155.62 400.98L160.01 400.98L157.81 404.78Z" fill="#86b03a"/>
<path d="M166.18 401.40L170.58 401.40L168.38 405.20Z" fill="#86b03a"/>
<line x1="38.60" y1="403.00" x2="41.60" y2="403.00" stroke="#231f20" stroke-width="1.0" />
<text x="35.70" y="405.80" font-size="8.3" text-anchor="end" fill="#231f20" >0</text>
<line x1="38.60" y1="386.08" x2="41.60" y2="386.08" stroke="#231f20" stroke-width="1.0" />
<text x="35.70" y="388.88" font-size="8.3" text-anchor="end" fill="#231f20" >20</text>
<line x1="38.60" y1="369.16" x2="41.60" y2="369.16" stroke="#231f20" stroke-width="1.0" />
<text x="35.70" y="371.96" font-size="8.3" text-anchor="end" fill="#231f20" >40</text>
<line x1="38.60" y1="352.24" x2="41.60" y2="352.24" stroke="#231f20" stroke-width="1.0" />
<text x="35.70" y="355.04" font-size="8.3" text-anchor="end" fill="#231f20" >60</text>
<line x1="38.60" y1="335.32" x2="41.60" y2="335.32" stroke="#231f20" stroke-width="1.0" />
<text x="35.70" y="338.12" font-size="8.3" text-anchor="end" fill="#231f20" >80</text>
<line x1="38.60" y1="318.40" x2="41.60" y2="318.40" stroke="#231f20" stroke-width="1.0" />
<text x="35.70" y="321.20" font-size="8.3" text-anchor="end" fill="#231f20" >100</text>
<line x1="41.60" y1="403.00" x2="41.60" y2="405.80" stroke="#231f20" stroke-width="1.0" />
<text x="41.60" y="417.20" font-size="8.3" text-anchor="middle" fill="#231f20" >0</text>
<line x1="83.86" y1="403.00" x2="83.86" y2="405.80" stroke="#231f20" stroke-width="1.0" />
<text x="83.86" y="417.20" font-size="8.3" text-anchor="middle" fill="#231f20" >20</text>
<line x1="126.12" y1="403.00" x2="126.12" y2="405.80" stroke="#231f20" stroke-width="1.0" />
<text x="126.12" y="417.20" font-size="8.3" text-anchor="middle" fill="#231f20" >40</text>
<line x1="168.38" y1="403.00" x2="168.38" y2="405.80" stroke="#231f20" stroke-width="1.0" />
<text x="168.38" y="417.20" font-size="8.3" text-anchor="middle" fill="#231f20" >60</text>
<text x="106.60" y="429.20" font-size="8.4" text-anchor="middle" fill="#231f20" >Days</text>
<text x="0" y="0" font-size="8.7" text-anchor="middle" fill="#231f20" textLength="78.70" lengthAdjust="spacingAndGlyphs" transform="translate(15.50,357.20) rotate(-90)">Biotinylated RBCs (%)</text>
<line x1="113.50" y1="320.60" x2="123.20" y2="320.60" stroke="#f2cb66" stroke-width="1.0" stroke-dasharray="1.6 1.1"/>
<circle cx="118.30" cy="320.60" r="1.71" fill="#f2cb66"/>
<text x="125" y="323.60" font-size="8.3" fill="#231f20">Hbb<tspan font-size="5.9" dy="-3.3">+/+</tspan><tspan dy="3.3" font-style="italic">miR</tspan><tspan font-size="5.9" dy="-3.3">+/+</tspan></text>
<line x1="113.50" y1="330.80" x2="123.20" y2="330.80" stroke="#86b03a" stroke-width="1.0" stroke-dasharray="1.6 1.1"/>
<path d="M116.32 329.36L120.28 329.36L118.30 332.78Z" fill="#86b03a"/>
<text x="125" y="333.80" font-size="8.3" fill="#231f20">Hbb<tspan font-size="5.9" dy="-3.3">+/+</tspan><tspan dy="3.3" font-style="italic">miR</tspan><tspan font-size="5.9" dy="-3.3">&#8211;/&#8211;</tspan></text>
<line x1="113.50" y1="341.20" x2="123.20" y2="341.20" stroke="#1f2f63" stroke-width="1.0" stroke-dasharray="1.6 1.1"/>
<rect x="116.68" y="339.58" width="3.24" height="3.24" fill="#1f2f63"/>
<text x="125" y="344.20" font-size="8.3" fill="#231f20">Hbb<tspan font-size="5.9" dy="-3.3">th3/+</tspan><tspan dy="3.3" font-style="italic">miR</tspan><tspan font-size="5.9" dy="-3.3">+/+</tspan></text>
<line x1="113.50" y1="351.20" x2="123.20" y2="351.20" stroke="#78a6de" stroke-width="1.0" stroke-dasharray="1.6 1.1"/>
<path d="M116.50 352.55L120.10 352.55L118.30 349.40Z" fill="#78a6de"/>
<text x="125" y="354.20" font-size="8.3" fill="#231f20">Hbb<tspan font-size="5.9" dy="-3.3">th3/+</tspan><tspan dy="3.3" font-style="italic">miR</tspan><tspan font-size="5.9" dy="-3.3">&#8211;/&#8211;</tspan></text>
<text x="101.50" y="351.00" font-size="9.2" text-anchor="middle" font-weight="bold" fill="#231f20" >***</text>
<path d="M112.8 341.3H109.3V351.3H112.8" fill="none" stroke="#231f20" stroke-width="1"/>
<defs><filter id="soft" x="-5%" y="-5%" width="110%" height="110%"><feGaussianBlur stdDeviation="0.55"/></filter></defs>
<svg x="219" y="171.5" width="138" height="116.5" viewBox="219 171.5 138 116.5" overflow="hidden">
<rect x="219" y="171.5" width="138" height="116.5" fill="#ebe9eb"/>
<g filter="url(#soft)">
<circle cx="223.7" cy="178.4" r="5.30" fill="#e2bcd4" opacity="0.55"/>
<circle cx="230.0" cy="179.3" r="5.30" fill="#e2bcd4" opacity="0.55"/>
<circle cx="236.5" cy="176.4" r="5.30" fill="#e2bcd4" opacity="0.55"/>
<circle cx="245.6" cy="178.0" r="5.30" fill="#e2bcd4" opacity="0.55"/>
<circle cx="253.7" cy="179.7" r="5.30" fill="#e2bcd4" opacity="0.55"/>
<circle cx="259.4" cy="174.8" r="5.30" fill="#e2bcd4" opacity="0.55"/>
<circle cx="269.9" cy="177.5" r="5.30" fill="#e2bcd4" opacity="0.55"/>
<circle cx="276.9" cy="174.8" r="5.30" fill="#e2bcd4" opacity="0.55"/>
<circle cx="280.2" cy="180.7" r="5.30" fill="#e2bcd4" opacity="0.55"/>
<circle cx="287.0" cy="178.4" r="5.30" fill="#e2bcd4" opacity="0.55"/>
<circle cx="223.0" cy="171.0" r="5.30" fill="#e2bcd4" opacity="0.55"/>
<circle cx="250.0" cy="171.0" r="5.30" fill="#e2bcd4" opacity="0.55"/>
<circle cx="282.3" cy="171.0" r="5.30" fill="#e2bcd4" opacity="0.55"/>
<circle cx="222.0" cy="190.5" r="5.30" fill="#e2bcd4" opacity="0.55"/>
<circle cx="230.4" cy="188.2" r="5.30" fill="#e2bcd4" opacity="0.55"/>
<circle cx="243.2" cy="187.4" r="5.30" fill="#e2bcd4" opacity="0.55"/>
<circle cx="251.3" cy="190.9" r="5.30" fill="#e2bcd4" opacity="0.55"/>
<circle cx="258.7" cy="190.1" r="5.30" fill="#e2bcd4" opacity="0.55"/>
<circle cx="266.1" cy="186.5" r="5.30" fill="#e2bcd4" opacity="0.55"/>
<circle cx="273.9" cy="184.5" r="5.30" fill="#e2bcd4" opacity="0.55"/>
<circle cx="278.2" cy="189.8" r="5.30" fill="#e2bcd4" opacity="0.55"/>
<circle cx="284.9" cy="186.9" r="5.30" fill="#e2bcd4" opacity="0.55"/>
<circle cx="227.7" cy="195.9" r="5.30" fill="#e2bcd4" opacity="0.55"/>
<circle cx="241.2" cy="195.9" r="5.30" fill="#e2bcd4" opacity="0.55"/>
<circle cx="249.7" cy="197.6" r="5.30" fill="#e2bcd4" opacity="0.55"/>
<circle cx="265.8" cy="193.9" r="5.30" fill="#e2bcd4" opacity="0.55"/>
<circle cx="272.8" cy="197.9" r="5.30" fill="#e2bcd4" opacity="0.55"/>
<circle cx="283.6" cy="195.6" r="5.30" fill="#e2bcd4" opacity="0.55"/>
<circle cx="219.7" cy="199.9" r="5.30" fill="#e2bcd4" opacity="0.55"/>
<circle cx="225.7" cy="204.4" r="5.30" fill="#e2bcd4" opacity="0.55"/>
<circle cx="235.8" cy="205.3" r="5.30" fill="#e2bcd4" opacity="0.55"/>
<circle cx="244.3" cy="204.0" r="5.30" fill="#e2bcd4" opacity="0.55"/>
<circle cx="251.3" cy="206.3" r="5.30" fill="#e2bcd4" opacity="0.55"/>
<circle cx="258.0" cy="207.6" r="5.30" fill="#e2bcd4" opacity="0.55"/>
<circle cx="264.1" cy="201.7" r="5.30" fill="#e2bcd4" opacity="0.55"/>
<circle cx="269.5" cy="206.3" r="5.30" fill="#e2bcd4" opacity="0.55"/>
<circle cx="276.9" cy="204.0" r="5.30" fill="#e2bcd4" opacity="0.55"/>
<circle cx="286.3" cy="202.6" r="5.30" fill="#e2bcd4" opacity="0.55"/>
<circle cx="230.4" cy="210.0" r="5.30" fill="#e2bcd4" opacity="0.55"/>
<circle cx="239.9" cy="212.7" r="5.30" fill="#e2bcd4" opacity="0.55"/>
<circle cx="260.0" cy="217.4" r="5.30" fill="#e2bcd4" opacity="0.55"/>
<circle cx="272.2" cy="214.1" r="5.30" fill="#e2bcd4" opacity="0.55"/>
<circle cx="282.9" cy="210.0" r="5.30" fill="#e2bcd4" opacity="0.55"/>
<circle cx="220.1" cy="216.8" r="5.30" fill="#e2bcd4" opacity="0.55"/>
<circle cx="232.5" cy="221.9" r="5.30" fill="#e2bcd4" opacity="0.55"/>
<circle cx="242.6" cy="219.7" r="5.30" fill="#e2bcd4" opacity="0.55"/>
<circle cx="252.0" cy="221.9" r="5.30" fill="#e2bcd4" opacity="0.55"/>
<circle cx="270.1" cy="222.8" r="5.30" fill="#e2bcd4" opacity="0.55"/>
<circle cx="282.9" cy="218.1" r="5.30" fill="#e2bcd4" opacity="0.55"/>
<circle cx="228.2" cy="226.9" r="5.30" fill="#e2bcd4" opacity="0.55"/>
<circle cx="245.2" cy="225.9" r="5.30" fill="#e2bcd4" opacity="0.55"/>
<circle cx="253.3" cy="227.5" r="5.30" fill="#e2bcd4" opacity="0.55"/>
<circle cx="263.4" cy="226.2" r="5.30" fill="#e2bcd4" opacity="0.55"/>
<circle cx="278.2" cy="224.8" r="5.30" fill="#e2bcd4" opacity="0.55"/>
<circle cx="288.3" cy="177.7" r="5.30" fill="#e2bcd4" opacity="0.55"/>
<circle cx="297.1" cy="176.4" r="5.30" fill="#e2bcd4" opacity="0.55"/>
<circle cx="311.9" cy="177.7" r="5.30" fill="#e2bcd4" opacity="0.55"/>
<circle cx="319.3" cy="175.7" r="5.30" fill="#e2bcd4" opacity="0.55"/>
<circle cx="330.7" cy="178.4" r="5.30" fill="#e2bcd4" opacity="0.55"/>
<circle cx="336.1" cy="173.0" r="5.30" fill="#e2bcd4" opacity="0.55"/>
<circle cx="342.2" cy="179.1" r="5.30" fill="#e2bcd4" opacity="0.55"/>
<circle cx="350.3" cy="181.8" r="5.30" fill="#e2bcd4" opacity="0.55"/>
<circle cx="354.3" cy="173.0" r="5.30" fill="#e2bcd4" opacity="0.55"/>
<circle cx="291.7" cy="183.1" r="5.30" fill="#e2bcd4" opacity="0.55"/>
<circle cx="299.1" cy="183.8" r="5.30" fill="#e2bcd4" opacity="0.55"/>
<circle cx="306.5" cy="185.8" r="5.30" fill="#e2bcd4" opacity="0.55"/>
<circle cx="313.9" cy="186.5" r="5.30" fill="#e2bcd4" opacity="0.55"/>
<circle cx="322.7" cy="182.4" r="5.30" fill="#e2bcd4" opacity="0.55"/>
<circle cx="322.7" cy="189.8" r="5.30" fill="#e2bcd4" opacity="0.55"/>
<circle cx="353.6" cy="188.5" r="5.30" fill="#e2bcd4" opacity="0.55"/>
<circle cx="291.0" cy="191.2" r="5.30" fill="#e2bcd4" opacity="0.55"/>
<circle cx="299.1" cy="193.2" r="5.30" fill="#e2bcd4" opacity="0.55"/>
<circle cx="307.2" cy="194.6" r="5.30" fill="#e2bcd4" opacity="0.55"/>
<circle cx="311.9" cy="199.9" r="5.30" fill="#e2bcd4" opacity="0.55"/>
<circle cx="326.7" cy="199.3" r="5.30" fill="#e2bcd4" opacity="0.55"/>
<circle cx="333.4" cy="193.9" r="5.30" fill="#e2bcd4" opacity="0.55"/>
<circle cx="335.5" cy="200.6" r="5.30" fill="#e2bcd4" opacity="0.55"/>
<circle cx="342.9" cy="196.6" r="5.30" fill="#e2bcd4" opacity="0.55"/>
<circle cx="289.0" cy="203.3" r="5.30" fill="#e2bcd4" opacity="0.55"/>
<circle cx="297.1" cy="206.7" r="5.30" fill="#e2bcd4" opacity="0.55"/>
<circle cx="320.6" cy="204.6" r="5.30" fill="#e2bcd4" opacity="0.55"/>
<circle cx="329.4" cy="206.7" r="5.30" fill="#e2bcd4" opacity="0.55"/>
<circle cx="342.2" cy="205.3" r="5.30" fill="#e2bcd4" opacity="0.55"/>
<circle cx="352.3" cy="207.3" r="5.30" fill="#e2bcd4" opacity="0.55"/>
<circle cx="291.0" cy="211.4" r="5.30" fill="#e2bcd4" opacity="0.55"/>
<circle cx="307.9" cy="210.7" r="5.30" fill="#e2bcd4" opacity="0.55"/>
<circle cx="323.3" cy="212.0" r="5.30" fill="#e2bcd4" opacity="0.55"/>
<circle cx="331.4" cy="214.1" r="5.30" fill="#e2bcd4" opacity="0.55"/>
<circle cx="346.2" cy="212.7" r="5.30" fill="#e2bcd4" opacity="0.55"/>
<circle cx="355.6" cy="214.1" r="5.30" fill="#e2bcd4" opacity="0.55"/>
<circle cx="297.8" cy="216.1" r="5.30" fill="#e2bcd4" opacity="0.55"/>
<circle cx="289.7" cy="220.1" r="5.30" fill="#e2bcd4" opacity="0.55"/>
<circle cx="307.9" cy="218.8" r="5.30" fill="#e2bcd4" opacity="0.55"/>
<circle cx="322.0" cy="219.2" r="5.30" fill="#e2bcd4" opacity="0.55"/>
<circle cx="336.8" cy="218.8" r="5.30" fill="#e2bcd4" opacity="0.55"/>
<circle cx="346.2" cy="220.8" r="5.30" fill="#e2bcd4" opacity="0.55"/>
<circle cx="289.7" cy="226.9" r="5.30" fill="#e2bcd4" opacity="0.55"/>
<circle cx="297.8" cy="226.2" r="5.30" fill="#e2bcd4" opacity="0.55"/>
<circle cx="311.9" cy="227.5" r="5.30" fill="#e2bcd4" opacity="0.55"/>
<circle cx="323.3" cy="226.2" r="5.30" fill="#e2bcd4" opacity="0.55"/>
<circle cx="332.8" cy="225.5" r="5.30" fill="#e2bcd4" opacity="0.55"/>
<circle cx="342.2" cy="230.2" r="5.30" fill="#e2bcd4" opacity="0.55"/>
<circle cx="352.9" cy="226.2" r="5.30" fill="#e2bcd4" opacity="0.55"/>
<circle cx="229.1" cy="229.7" r="5.30" fill="#e2bcd4" opacity="0.55"/>
<circle cx="243.9" cy="233.7" r="5.30" fill="#e2bcd4" opacity="0.55"/>
<circle cx="252.0" cy="229.7" r="5.30" fill="#e2bcd4" opacity="0.55"/>
<circle cx="266.1" cy="234.4" r="5.30" fill="#e2bcd4" opacity="0.55"/>
<circle cx="276.2" cy="232.4" r="5.30" fill="#e2bcd4" opacity="0.55"/>
<circle cx="287.0" cy="230.3" r="5.30" fill="#e2bcd4" opacity="0.55"/>
<circle cx="221.7" cy="239.8" r="5.30" fill="#e2bcd4" opacity="0.55"/>
<circle cx="242.6" cy="241.8" r="5.30" fill="#e2bcd4" opacity="0.55"/>
<circle cx="248.6" cy="245.8" r="5.30" fill="#e2bcd4" opacity="0.55"/>
<circle cx="256.0" cy="245.2" r="5.30" fill="#e2bcd4" opacity="0.55"/>
<circle cx="262.1" cy="241.1" r="5.30" fill="#e2bcd4" opacity="0.55"/>
<circle cx="266.1" cy="243.1" r="5.30" fill="#e2bcd4" opacity="0.55"/>
<circle cx="276.9" cy="240.4" r="5.30" fill="#e2bcd4" opacity="0.55"/>
<circle cx="284.9" cy="244.5" r="5.30" fill="#e2bcd4" opacity="0.55"/>
<circle cx="221.7" cy="247.8" r="5.30" fill="#e2bcd4" opacity="0.55"/>
<circle cx="230.4" cy="248.5" r="5.30" fill="#e2bcd4" opacity="0.55"/>
<circle cx="273.5" cy="247.8" r="5.30" fill="#e2bcd4" opacity="0.55"/>
<circle cx="233.8" cy="255.9" r="5.30" fill="#e2bcd4" opacity="0.55"/>
<circle cx="245.9" cy="253.2" r="5.30" fill="#e2bcd4" opacity="0.55"/>
<circle cx="252.6" cy="256.6" r="5.30" fill="#e2bcd4" opacity="0.55"/>
<circle cx="265.4" cy="252.6" r="5.30" fill="#e2bcd4" opacity="0.55"/>
<circle cx="278.2" cy="254.6" r="5.30" fill="#e2bcd4" opacity="0.55"/>
<circle cx="284.9" cy="252.6" r="5.30" fill="#e2bcd4" opacity="0.55"/>
<circle cx="221.7" cy="262.6" r="5.30" fill="#e2bcd4" opacity="0.55"/>
<circle cx="237.8" cy="263.3" r="5.30" fill="#e2bcd4" opacity="0.55"/>
<circle cx="247.3" cy="262.6" r="5.30" fill="#e2bcd4" opacity="0.55"/>
<circle cx="264.8" cy="261.3" r="5.30" fill="#e2bcd4" opacity="0.55"/>
<circle cx="272.8" cy="261.3" r="5.30" fill="#e2bcd4" opacity="0.55"/>
<circle cx="282.9" cy="262.0" r="5.30" fill="#e2bcd4" opacity="0.55"/>
<circle cx="259.4" cy="266.7" r="5.30" fill="#e2bcd4" opacity="0.55"/>
<circle cx="223.0" cy="270.7" r="5.30" fill="#e2bcd4" opacity="0.55"/>
<circle cx="229.8" cy="275.4" r="5.30" fill="#e2bcd4" opacity="0.55"/>
<circle cx="236.5" cy="274.8" r="5.30" fill="#e2bcd4" opacity="0.55"/>
<circle cx="243.9" cy="273.4" r="5.30" fill="#e2bcd4" opacity="0.55"/>
<circle cx="256.0" cy="275.4" r="5.30" fill="#e2bcd4" opacity="0.55"/>
<circle cx="264.1" cy="269.4" r="5.30" fill="#e2bcd4" opacity="0.55"/>
<circle cx="274.9" cy="272.1" r="5.30" fill="#e2bcd4" opacity="0.55"/>
<circle cx="287.0" cy="268.7" r="5.30" fill="#e2bcd4" opacity="0.55"/>
<circle cx="287.6" cy="276.8" r="5.30" fill="#e2bcd4" opacity="0.55"/>
<circle cx="238.5" cy="282.2" r="5.30" fill="#e2bcd4" opacity="0.55"/>
<circle cx="256.7" cy="282.8" r="5.30" fill="#e2bcd4" opacity="0.55"/>
<circle cx="220.3" cy="282.8" r="5.30" fill="#e2bcd4" opacity="0.55"/>
<circle cx="232.5" cy="286.9" r="5.30" fill="#e2bcd4" opacity="0.55"/>
<circle cx="244.6" cy="287.5" r="5.30" fill="#e2bcd4" opacity="0.55"/>
<circle cx="270.1" cy="286.2" r="5.30" fill="#e2bcd4" opacity="0.55"/>
<circle cx="279.6" cy="286.9" r="5.30" fill="#e2bcd4" opacity="0.55"/>
<circle cx="288.3" cy="230.3" r="5.30" fill="#e2bcd4" opacity="0.55"/>
<circle cx="299.8" cy="235.1" r="5.30" fill="#e2bcd4" opacity="0.55"/>
<circle cx="307.2" cy="235.1" r="5.30" fill="#e2bcd4" opacity="0.55"/>
<circle cx="313.9" cy="229.7" r="5.30" fill="#e2bcd4" opacity="0.55"/>
<circle cx="327.4" cy="231.7" r="5.30" fill="#e2bcd4" opacity="0.55"/>
<circle cx="338.8" cy="233.0" r="5.30" fill="#e2bcd4" opacity="0.55"/>
<circle cx="348.9" cy="235.1" r="5.30" fill="#e2bcd4" opacity="0.55"/>
<circle cx="320.6" cy="239.8" r="5.30" fill="#e2bcd4" opacity="0.55"/>
<circle cx="332.8" cy="238.4" r="5.30" fill="#e2bcd4" opacity="0.55"/>
<circle cx="344.2" cy="239.8" r="5.30" fill="#e2bcd4" opacity="0.55"/>
<circle cx="355.0" cy="239.8" r="5.30" fill="#e2bcd4" opacity="0.55"/>
<circle cx="288.3" cy="245.2" r="5.30" fill="#e2bcd4" opacity="0.55"/>
<circle cx="299.1" cy="247.2" r="5.30" fill="#e2bcd4" opacity="0.55"/>
<circle cx="306.5" cy="243.8" r="5.30" fill="#e2bcd4" opacity="0.55"/>
<circle cx="307.2" cy="248.5" r="5.30" fill="#e2bcd4" opacity="0.55"/>
<circle cx="292.4" cy="250.5" r="5.30" fill="#e2bcd4" opacity="0.55"/>
<circle cx="318.0" cy="249.9" r="5.30" fill="#e2bcd4" opacity="0.55"/>
<circle cx="327.4" cy="244.5" r="5.30" fill="#e2bcd4" opacity="0.55"/>
<circle cx="325.4" cy="252.6" r="5.30" fill="#e2bcd4" opacity="0.55"/>
<circle cx="335.5" cy="247.8" r="5.30" fill="#e2bcd4" opacity="0.55"/>
<circle cx="345.5" cy="247.2" r="5.30" fill="#e2bcd4" opacity="0.55"/>
<circle cx="352.9" cy="250.5" r="5.30" fill="#e2bcd4" opacity="0.55"/>
<circle cx="297.1" cy="259.3" r="5.30" fill="#e2bcd4" opacity="0.55"/>
<circle cx="308.5" cy="259.7" r="5.30" fill="#e2bcd4" opacity="0.55"/>
<circle cx="317.3" cy="257.9" r="5.30" fill="#e2bcd4" opacity="0.55"/>
<circle cx="332.1" cy="254.6" r="5.30" fill="#e2bcd4" opacity="0.55"/>
<circle cx="340.8" cy="257.3" r="5.30" fill="#e2bcd4" opacity="0.55"/>
<circle cx="348.9" cy="258.6" r="5.30" fill="#e2bcd4" opacity="0.55"/>
<circle cx="323.3" cy="263.3" r="5.30" fill="#e2bcd4" opacity="0.55"/>
<circle cx="338.1" cy="264.7" r="5.30" fill="#e2bcd4" opacity="0.55"/>
<circle cx="346.2" cy="266.0" r="5.30" fill="#e2bcd4" opacity="0.55"/>
<circle cx="355.0" cy="257.9" r="5.30" fill="#e2bcd4" opacity="0.55"/>
<circle cx="289.0" cy="268.7" r="5.30" fill="#e2bcd4" opacity="0.55"/>
<circle cx="299.1" cy="268.7" r="5.30" fill="#e2bcd4" opacity="0.55"/>
<circle cx="315.3" cy="266.7" r="5.30" fill="#e2bcd4" opacity="0.55"/>
<circle cx="321.3" cy="272.1" r="5.30" fill="#e2bcd4" opacity="0.55"/>
<circle cx="329.4" cy="270.7" r="5.30" fill="#e2bcd4" opacity="0.55"/>
<circle cx="312.6" cy="274.1" r="5.30" fill="#e2bcd4" opacity="0.55"/>
<circle cx="350.9" cy="271.4" r="5.30" fill="#e2bcd4" opacity="0.55"/>
<circle cx="289.7" cy="276.8" r="5.30" fill="#e2bcd4" opacity="0.55"/>
<circle cx="297.8" cy="276.8" r="5.30" fill="#e2bcd4" opacity="0.55"/>
<circle cx="343.5" cy="276.8" r="5.30" fill="#e2bcd4" opacity="0.55"/>
<circle cx="307.2" cy="282.2" r="5.30" fill="#e2bcd4" opacity="0.55"/>
<circle cx="324.0" cy="282.8" r="5.30" fill="#e2bcd4" opacity="0.55"/>
<circle cx="336.1" cy="280.8" r="5.30" fill="#e2bcd4" opacity="0.55"/>
<circle cx="351.6" cy="280.8" r="5.30" fill="#e2bcd4" opacity="0.55"/>
<circle cx="295.1" cy="284.2" r="5.30" fill="#e2bcd4" opacity="0.55"/>
<circle cx="312.6" cy="286.9" r="5.30" fill="#e2bcd4" opacity="0.55"/>
<circle cx="223.7" cy="178.4" r="3.50" fill="#925273"/><circle cx="223.7" cy="178.4" r="1.75" fill="#d8b2c8"/>
<circle cx="230.0" cy="179.3" r="3.50" fill="#925273"/><circle cx="230.0" cy="179.3" r="1.75" fill="#d8b2c8"/>
<circle cx="236.5" cy="176.4" r="3.50" fill="#925273"/><circle cx="236.5" cy="176.4" r="1.75" fill="#d8b2c8"/>
<circle cx="245.6" cy="178.0" r="3.50" fill="#925273"/><circle cx="245.6" cy="178.0" r="1.75" fill="#d8b2c8"/>
<circle cx="253.7" cy="179.7" r="3.50" fill="#925273"/><circle cx="253.7" cy="179.7" r="1.75" fill="#d8b2c8"/>
<circle cx="259.4" cy="174.8" r="3.50" fill="#925273"/><circle cx="259.4" cy="174.8" r="1.75" fill="#d8b2c8"/>
<circle cx="269.9" cy="177.5" r="3.50" fill="#925273"/><circle cx="269.9" cy="177.5" r="1.75" fill="#d8b2c8"/>
<circle cx="276.9" cy="174.8" r="3.50" fill="#925273"/><circle cx="276.9" cy="174.8" r="1.75" fill="#d8b2c8"/>
<circle cx="280.2" cy="180.7" r="3.50" fill="#925273"/><circle cx="280.2" cy="180.7" r="1.75" fill="#d8b2c8"/>
<circle cx="287.0" cy="178.4" r="3.50" fill="#925273"/><circle cx="287.0" cy="178.4" r="1.75" fill="#d8b2c8"/>
<circle cx="223.0" cy="171.0" r="3.50" fill="#925273"/><circle cx="223.0" cy="171.0" r="1.75" fill="#d8b2c8"/>
<circle cx="250.0" cy="171.0" r="3.50" fill="#925273"/><circle cx="250.0" cy="171.0" r="1.75" fill="#d8b2c8"/>
<circle cx="282.3" cy="171.0" r="3.50" fill="#925273"/><circle cx="282.3" cy="171.0" r="1.75" fill="#d8b2c8"/>
<circle cx="222.0" cy="190.5" r="3.50" fill="#925273"/><circle cx="222.0" cy="190.5" r="1.75" fill="#d8b2c8"/>
<circle cx="230.4" cy="188.2" r="3.50" fill="#925273"/><circle cx="230.4" cy="188.2" r="1.75" fill="#d8b2c8"/>
<circle cx="243.2" cy="187.4" r="3.50" fill="#925273"/><circle cx="243.2" cy="187.4" r="1.75" fill="#d8b2c8"/>
<circle cx="251.3" cy="190.9" r="3.50" fill="#925273"/><circle cx="251.3" cy="190.9" r="1.75" fill="#d8b2c8"/>
<circle cx="258.7" cy="190.1" r="3.50" fill="#925273"/><circle cx="258.7" cy="190.1" r="1.75" fill="#d8b2c8"/>
<circle cx="266.1" cy="186.5" r="3.50" fill="#925273"/><circle cx="266.1" cy="186.5" r="1.75" fill="#d8b2c8"/>
<circle cx="273.9" cy="184.5" r="3.50" fill="#925273"/><circle cx="273.9" cy="184.5" r="1.75" fill="#d8b2c8"/>
<circle cx="278.2" cy="189.8" r="3.50" fill="#925273"/><circle cx="278.2" cy="189.8" r="1.75" fill="#d8b2c8"/>
<circle cx="284.9" cy="186.9" r="3.50" fill="#925273"/><circle cx="284.9" cy="186.9" r="1.75" fill="#d8b2c8"/>
<circle cx="227.7" cy="195.9" r="3.50" fill="#925273"/><circle cx="227.7" cy="195.9" r="1.75" fill="#d8b2c8"/>
<circle cx="241.2" cy="195.9" r="3.50" fill="#925273"/><circle cx="241.2" cy="195.9" r="1.75" fill="#d8b2c8"/>
<circle cx="249.7" cy="197.6" r="3.50" fill="#925273"/><circle cx="249.7" cy="197.6" r="1.75" fill="#d8b2c8"/>
<circle cx="265.8" cy="193.9" r="3.50" fill="#925273"/><circle cx="265.8" cy="193.9" r="1.75" fill="#d8b2c8"/>
<circle cx="272.8" cy="197.9" r="3.50" fill="#925273"/><circle cx="272.8" cy="197.9" r="1.75" fill="#d8b2c8"/>
<circle cx="283.6" cy="195.6" r="3.50" fill="#925273"/><circle cx="283.6" cy="195.6" r="1.75" fill="#d8b2c8"/>
<circle cx="219.7" cy="199.9" r="3.50" fill="#925273"/><circle cx="219.7" cy="199.9" r="1.75" fill="#d8b2c8"/>
<circle cx="225.7" cy="204.4" r="3.50" fill="#925273"/><circle cx="225.7" cy="204.4" r="1.75" fill="#d8b2c8"/>
<circle cx="235.8" cy="205.3" r="3.50" fill="#925273"/><circle cx="235.8" cy="205.3" r="1.75" fill="#d8b2c8"/>
<circle cx="244.3" cy="204.0" r="3.50" fill="#925273"/><circle cx="244.3" cy="204.0" r="1.75" fill="#d8b2c8"/>
<circle cx="251.3" cy="206.3" r="3.50" fill="#925273"/><circle cx="251.3" cy="206.3" r="1.75" fill="#d8b2c8"/>
<circle cx="258.0" cy="207.6" r="3.50" fill="#925273"/><circle cx="258.0" cy="207.6" r="1.75" fill="#d8b2c8"/>
<circle cx="264.1" cy="201.7" r="3.50" fill="#925273"/><circle cx="264.1" cy="201.7" r="1.75" fill="#d8b2c8"/>
<circle cx="269.5" cy="206.3" r="3.50" fill="#925273"/><circle cx="269.5" cy="206.3" r="1.75" fill="#d8b2c8"/>
<circle cx="276.9" cy="204.0" r="3.50" fill="#925273"/><circle cx="276.9" cy="204.0" r="1.75" fill="#d8b2c8"/>
<circle cx="286.3" cy="202.6" r="3.50" fill="#925273"/><circle cx="286.3" cy="202.6" r="1.75" fill="#d8b2c8"/>
<circle cx="230.4" cy="210.0" r="3.50" fill="#925273"/><circle cx="230.4" cy="210.0" r="1.75" fill="#d8b2c8"/>
<circle cx="239.9" cy="212.7" r="3.50" fill="#925273"/><circle cx="239.9" cy="212.7" r="1.75" fill="#d8b2c8"/>
<circle cx="260.0" cy="217.4" r="3.50" fill="#925273"/><circle cx="260.0" cy="217.4" r="1.75" fill="#d8b2c8"/>
<circle cx="272.2" cy="214.1" r="3.50" fill="#925273"/><circle cx="272.2" cy="214.1" r="1.75" fill="#d8b2c8"/>
<circle cx="282.9" cy="210.0" r="3.50" fill="#925273"/><circle cx="282.9" cy="210.0" r="1.75" fill="#d8b2c8"/>
<circle cx="220.1" cy="216.8" r="3.50" fill="#925273"/><circle cx="220.1" cy="216.8" r="1.75" fill="#d8b2c8"/>
<circle cx="232.5" cy="221.9" r="3.50" fill="#925273"/><circle cx="232.5" cy="221.9" r="1.75" fill="#d8b2c8"/>
<circle cx="242.6" cy="219.7" r="3.50" fill="#925273"/><circle cx="242.6" cy="219.7" r="1.75" fill="#d8b2c8"/>
<circle cx="252.0" cy="221.9" r="3.50" fill="#925273"/><circle cx="252.0" cy="221.9" r="1.75" fill="#d8b2c8"/>
<circle cx="270.1" cy="222.8" r="3.50" fill="#925273"/><circle cx="270.1" cy="222.8" r="1.75" fill="#d8b2c8"/>
<circle cx="282.9" cy="218.1" r="3.50" fill="#925273"/><circle cx="282.9" cy="218.1" r="1.75" fill="#d8b2c8"/>
<circle cx="228.2" cy="226.9" r="3.50" fill="#925273"/><circle cx="228.2" cy="226.9" r="1.75" fill="#d8b2c8"/>
<circle cx="245.2" cy="225.9" r="3.50" fill="#925273"/><circle cx="245.2" cy="225.9" r="1.75" fill="#d8b2c8"/>
<circle cx="253.3" cy="227.5" r="3.50" fill="#925273"/><circle cx="253.3" cy="227.5" r="1.75" fill="#d8b2c8"/>
<circle cx="263.4" cy="226.2" r="3.50" fill="#925273"/><circle cx="263.4" cy="226.2" r="1.75" fill="#d8b2c8"/>
<circle cx="278.2" cy="224.8" r="3.50" fill="#925273"/><circle cx="278.2" cy="224.8" r="1.75" fill="#d8b2c8"/>
<circle cx="288.3" cy="177.7" r="3.50" fill="#925273"/><circle cx="288.3" cy="177.7" r="1.75" fill="#d8b2c8"/>
<circle cx="297.1" cy="176.4" r="3.50" fill="#925273"/><circle cx="297.1" cy="176.4" r="1.75" fill="#d8b2c8"/>
<circle cx="311.9" cy="177.7" r="3.50" fill="#925273"/><circle cx="311.9" cy="177.7" r="1.75" fill="#d8b2c8"/>
<circle cx="319.3" cy="175.7" r="3.50" fill="#925273"/><circle cx="319.3" cy="175.7" r="1.75" fill="#d8b2c8"/>
<circle cx="330.7" cy="178.4" r="3.50" fill="#925273"/><circle cx="330.7" cy="178.4" r="1.75" fill="#d8b2c8"/>
<circle cx="336.1" cy="173.0" r="3.50" fill="#925273"/><circle cx="336.1" cy="173.0" r="1.75" fill="#d8b2c8"/>
<circle cx="342.2" cy="179.1" r="3.50" fill="#925273"/><circle cx="342.2" cy="179.1" r="1.75" fill="#d8b2c8"/>
<circle cx="350.3" cy="181.8" r="3.50" fill="#925273"/><circle cx="350.3" cy="181.8" r="1.75" fill="#d8b2c8"/>
<circle cx="354.3" cy="173.0" r="3.50" fill="#925273"/><circle cx="354.3" cy="173.0" r="1.75" fill="#d8b2c8"/>
<circle cx="291.7" cy="183.1" r="3.50" fill="#925273"/><circle cx="291.7" cy="183.1" r="1.75" fill="#d8b2c8"/>
<circle cx="299.1" cy="183.8" r="3.50" fill="#925273"/><circle cx="299.1" cy="183.8" r="1.75" fill="#d8b2c8"/>
<circle cx="306.5" cy="185.8" r="3.50" fill="#925273"/><circle cx="306.5" cy="185.8" r="1.75" fill="#d8b2c8"/>
<circle cx="313.9" cy="186.5" r="3.50" fill="#925273"/><circle cx="313.9" cy="186.5" r="1.75" fill="#d8b2c8"/>
<circle cx="322.7" cy="182.4" r="3.50" fill="#925273"/><circle cx="322.7" cy="182.4" r="1.75" fill="#d8b2c8"/>
<circle cx="322.7" cy="189.8" r="3.50" fill="#925273"/><circle cx="322.7" cy="189.8" r="1.75" fill="#d8b2c8"/>
<circle cx="353.6" cy="188.5" r="3.50" fill="#925273"/><circle cx="353.6" cy="188.5" r="1.75" fill="#d8b2c8"/>
<circle cx="291.0" cy="191.2" r="3.50" fill="#925273"/><circle cx="291.0" cy="191.2" r="1.75" fill="#d8b2c8"/>
<circle cx="299.1" cy="193.2" r="3.50" fill="#925273"/><circle cx="299.1" cy="193.2" r="1.75" fill="#d8b2c8"/>
<circle cx="307.2" cy="194.6" r="3.50" fill="#925273"/><circle cx="307.2" cy="194.6" r="1.75" fill="#d8b2c8"/>
<circle cx="311.9" cy="199.9" r="3.50" fill="#925273"/><circle cx="311.9" cy="199.9" r="1.75" fill="#d8b2c8"/>
<circle cx="326.7" cy="199.3" r="3.50" fill="#925273"/><circle cx="326.7" cy="199.3" r="1.75" fill="#d8b2c8"/>
<circle cx="333.4" cy="193.9" r="3.50" fill="#925273"/><circle cx="333.4" cy="193.9" r="1.75" fill="#d8b2c8"/>
<circle cx="335.5" cy="200.6" r="3.50" fill="#925273"/><circle cx="335.5" cy="200.6" r="1.75" fill="#d8b2c8"/>
<circle cx="342.9" cy="196.6" r="3.50" fill="#925273"/><circle cx="342.9" cy="196.6" r="1.75" fill="#d8b2c8"/>
<circle cx="289.0" cy="203.3" r="3.50" fill="#925273"/><circle cx="289.0" cy="203.3" r="1.75" fill="#d8b2c8"/>
<circle cx="297.1" cy="206.7" r="3.50" fill="#925273"/><circle cx="297.1" cy="206.7" r="1.75" fill="#d8b2c8"/>
<circle cx="320.6" cy="204.6" r="3.50" fill="#925273"/><circle cx="320.6" cy="204.6" r="1.75" fill="#d8b2c8"/>
<circle cx="329.4" cy="206.7" r="3.50" fill="#925273"/><circle cx="329.4" cy="206.7" r="1.75" fill="#d8b2c8"/>
<circle cx="342.2" cy="205.3" r="3.50" fill="#925273"/><circle cx="342.2" cy="205.3" r="1.75" fill="#d8b2c8"/>
<circle cx="352.3" cy="207.3" r="3.50" fill="#925273"/><circle cx="352.3" cy="207.3" r="1.75" fill="#d8b2c8"/>
<circle cx="291.0" cy="211.4" r="3.50" fill="#925273"/><circle cx="291.0" cy="211.4" r="1.75" fill="#d8b2c8"/>
<circle cx="307.9" cy="210.7" r="3.50" fill="#925273"/><circle cx="307.9" cy="210.7" r="1.75" fill="#d8b2c8"/>
<circle cx="323.3" cy="212.0" r="3.50" fill="#925273"/><circle cx="323.3" cy="212.0" r="1.75" fill="#d8b2c8"/>
<circle cx="331.4" cy="214.1" r="3.50" fill="#925273"/><circle cx="331.4" cy="214.1" r="1.75" fill="#d8b2c8"/>
<circle cx="346.2" cy="212.7" r="3.50" fill="#925273"/><circle cx="346.2" cy="212.7" r="1.75" fill="#d8b2c8"/>
<circle cx="355.6" cy="214.1" r="3.50" fill="#925273"/><circle cx="355.6" cy="214.1" r="1.75" fill="#d8b2c8"/>
<circle cx="297.8" cy="216.1" r="3.50" fill="#925273"/><circle cx="297.8" cy="216.1" r="1.75" fill="#d8b2c8"/>
<circle cx="289.7" cy="220.1" r="3.50" fill="#925273"/><circle cx="289.7" cy="220.1" r="1.75" fill="#d8b2c8"/>
<circle cx="307.9" cy="218.8" r="3.50" fill="#925273"/><circle cx="307.9" cy="218.8" r="1.75" fill="#d8b2c8"/>
<circle cx="322.0" cy="219.2" r="3.50" fill="#925273"/><circle cx="322.0" cy="219.2" r="1.75" fill="#d8b2c8"/>
<circle cx="336.8" cy="218.8" r="3.50" fill="#925273"/><circle cx="336.8" cy="218.8" r="1.75" fill="#d8b2c8"/>
<circle cx="346.2" cy="220.8" r="3.50" fill="#925273"/><circle cx="346.2" cy="220.8" r="1.75" fill="#d8b2c8"/>
<circle cx="289.7" cy="226.9" r="3.50" fill="#925273"/><circle cx="289.7" cy="226.9" r="1.75" fill="#d8b2c8"/>
<circle cx="297.8" cy="226.2" r="3.50" fill="#925273"/><circle cx="297.8" cy="226.2" r="1.75" fill="#d8b2c8"/>
<circle cx="311.9" cy="227.5" r="3.50" fill="#925273"/><circle cx="311.9" cy="227.5" r="1.75" fill="#d8b2c8"/>
<circle cx="323.3" cy="226.2" r="3.50" fill="#925273"/><circle cx="323.3" cy="226.2" r="1.75" fill="#d8b2c8"/>
<circle cx="332.8" cy="225.5" r="3.50" fill="#925273"/><circle cx="332.8" cy="225.5" r="1.75" fill="#d8b2c8"/>
<circle cx="342.2" cy="230.2" r="3.50" fill="#925273"/><circle cx="342.2" cy="230.2" r="1.75" fill="#d8b2c8"/>
<circle cx="352.9" cy="226.2" r="3.50" fill="#925273"/><circle cx="352.9" cy="226.2" r="1.75" fill="#d8b2c8"/>
<circle cx="229.1" cy="229.7" r="3.50" fill="#925273"/><circle cx="229.1" cy="229.7" r="1.75" fill="#d8b2c8"/>
<circle cx="243.9" cy="233.7" r="3.50" fill="#925273"/><circle cx="243.9" cy="233.7" r="1.75" fill="#d8b2c8"/>
<circle cx="252.0" cy="229.7" r="3.50" fill="#925273"/><circle cx="252.0" cy="229.7" r="1.75" fill="#d8b2c8"/>
<circle cx="266.1" cy="234.4" r="3.50" fill="#925273"/><circle cx="266.1" cy="234.4" r="1.75" fill="#d8b2c8"/>
<circle cx="276.2" cy="232.4" r="3.50" fill="#925273"/><circle cx="276.2" cy="232.4" r="1.75" fill="#d8b2c8"/>
<circle cx="287.0" cy="230.3" r="3.50" fill="#925273"/><circle cx="287.0" cy="230.3" r="1.75" fill="#d8b2c8"/>
<circle cx="221.7" cy="239.8" r="3.50" fill="#925273"/><circle cx="221.7" cy="239.8" r="1.75" fill="#d8b2c8"/>
<circle cx="242.6" cy="241.8" r="3.50" fill="#925273"/><circle cx="242.6" cy="241.8" r="1.75" fill="#d8b2c8"/>
<circle cx="248.6" cy="245.8" r="3.50" fill="#925273"/><circle cx="248.6" cy="245.8" r="1.75" fill="#d8b2c8"/>
<circle cx="256.0" cy="245.2" r="3.50" fill="#925273"/><circle cx="256.0" cy="245.2" r="1.75" fill="#d8b2c8"/>
<circle cx="262.1" cy="241.1" r="3.50" fill="#925273"/><circle cx="262.1" cy="241.1" r="1.75" fill="#d8b2c8"/>
<circle cx="266.1" cy="243.1" r="3.50" fill="#925273"/><circle cx="266.1" cy="243.1" r="1.75" fill="#d8b2c8"/>
<circle cx="276.9" cy="240.4" r="3.50" fill="#925273"/><circle cx="276.9" cy="240.4" r="1.75" fill="#d8b2c8"/>
<circle cx="284.9" cy="244.5" r="3.50" fill="#925273"/><circle cx="284.9" cy="244.5" r="1.75" fill="#d8b2c8"/>
<circle cx="221.7" cy="247.8" r="3.50" fill="#925273"/><circle cx="221.7" cy="247.8" r="1.75" fill="#d8b2c8"/>
<circle cx="230.4" cy="248.5" r="3.50" fill="#925273"/><circle cx="230.4" cy="248.5" r="1.75" fill="#d8b2c8"/>
<circle cx="273.5" cy="247.8" r="3.50" fill="#925273"/><circle cx="273.5" cy="247.8" r="1.75" fill="#d8b2c8"/>
<circle cx="233.8" cy="255.9" r="3.50" fill="#925273"/><circle cx="233.8" cy="255.9" r="1.75" fill="#d8b2c8"/>
<circle cx="245.9" cy="253.2" r="3.50" fill="#925273"/><circle cx="245.9" cy="253.2" r="1.75" fill="#d8b2c8"/>
<circle cx="252.6" cy="256.6" r="3.50" fill="#925273"/><circle cx="252.6" cy="256.6" r="1.75" fill="#d8b2c8"/>
<circle cx="265.4" cy="252.6" r="3.50" fill="#925273"/><circle cx="265.4" cy="252.6" r="1.75" fill="#d8b2c8"/>
<circle cx="278.2" cy="254.6" r="3.50" fill="#925273"/><circle cx="278.2" cy="254.6" r="1.75" fill="#d8b2c8"/>
<circle cx="284.9" cy="252.6" r="3.50" fill="#925273"/><circle cx="284.9" cy="252.6" r="1.75" fill="#d8b2c8"/>
<circle cx="221.7" cy="262.6" r="3.50" fill="#925273"/><circle cx="221.7" cy="262.6" r="1.75" fill="#d8b2c8"/>
<circle cx="237.8" cy="263.3" r="3.50" fill="#925273"/><circle cx="237.8" cy="263.3" r="1.75" fill="#d8b2c8"/>
<circle cx="247.3" cy="262.6" r="3.50" fill="#925273"/><circle cx="247.3" cy="262.6" r="1.75" fill="#d8b2c8"/>
<circle cx="264.8" cy="261.3" r="3.50" fill="#925273"/><circle cx="264.8" cy="261.3" r="1.75" fill="#d8b2c8"/>
<circle cx="272.8" cy="261.3" r="3.50" fill="#925273"/><circle cx="272.8" cy="261.3" r="1.75" fill="#d8b2c8"/>
<circle cx="282.9" cy="262.0" r="3.50" fill="#925273"/><circle cx="282.9" cy="262.0" r="1.75" fill="#d8b2c8"/>
<circle cx="259.4" cy="266.7" r="3.50" fill="#925273"/><circle cx="259.4" cy="266.7" r="1.75" fill="#d8b2c8"/>
<circle cx="223.0" cy="270.7" r="3.50" fill="#925273"/><circle cx="223.0" cy="270.7" r="1.75" fill="#d8b2c8"/>
<circle cx="229.8" cy="275.4" r="3.50" fill="#925273"/><circle cx="229.8" cy="275.4" r="1.75" fill="#d8b2c8"/>
<circle cx="236.5" cy="274.8" r="3.50" fill="#925273"/><circle cx="236.5" cy="274.8" r="1.75" fill="#d8b2c8"/>
<circle cx="243.9" cy="273.4" r="3.50" fill="#925273"/><circle cx="243.9" cy="273.4" r="1.75" fill="#d8b2c8"/>
<circle cx="256.0" cy="275.4" r="3.50" fill="#925273"/><circle cx="256.0" cy="275.4" r="1.75" fill="#d8b2c8"/>
<circle cx="264.1" cy="269.4" r="3.50" fill="#925273"/><circle cx="264.1" cy="269.4" r="1.75" fill="#d8b2c8"/>
<circle cx="274.9" cy="272.1" r="3.50" fill="#925273"/><circle cx="274.9" cy="272.1" r="1.75" fill="#d8b2c8"/>
<circle cx="287.0" cy="268.7" r="3.50" fill="#925273"/><circle cx="287.0" cy="268.7" r="1.75" fill="#d8b2c8"/>
<circle cx="287.6" cy="276.8" r="3.50" fill="#925273"/><circle cx="287.6" cy="276.8" r="1.75" fill="#d8b2c8"/>
<circle cx="238.5" cy="282.2" r="3.50" fill="#925273"/><circle cx="238.5" cy="282.2" r="1.75" fill="#d8b2c8"/>
<circle cx="256.7" cy="282.8" r="3.50" fill="#925273"/><circle cx="256.7" cy="282.8" r="1.75" fill="#d8b2c8"/>
<circle cx="220.3" cy="282.8" r="3.50" fill="#925273"/><circle cx="220.3" cy="282.8" r="1.75" fill="#d8b2c8"/>
<circle cx="232.5" cy="286.9" r="3.50" fill="#925273"/><circle cx="232.5" cy="286.9" r="1.75" fill="#d8b2c8"/>
<circle cx="244.6" cy="287.5" r="3.50" fill="#925273"/><circle cx="244.6" cy="287.5" r="1.75" fill="#d8b2c8"/>
<circle cx="270.1" cy="286.2" r="3.50" fill="#925273"/><circle cx="270.1" cy="286.2" r="1.75" fill="#d8b2c8"/>
<circle cx="279.6" cy="286.9" r="3.50" fill="#925273"/><circle cx="279.6" cy="286.9" r="1.75" fill="#d8b2c8"/>
<circle cx="288.3" cy="230.3" r="3.50" fill="#925273"/><circle cx="288.3" cy="230.3" r="1.75" fill="#d8b2c8"/>
<circle cx="299.8" cy="235.1" r="3.50" fill="#925273"/><circle cx="299.8" cy="235.1" r="1.75" fill="#d8b2c8"/>
<circle cx="307.2" cy="235.1" r="3.50" fill="#925273"/><circle cx="307.2" cy="235.1" r="1.75" fill="#d8b2c8"/>
<circle cx="313.9" cy="229.7" r="3.50" fill="#925273"/><circle cx="313.9" cy="229.7" r="1.75" fill="#d8b2c8"/>
<circle cx="327.4" cy="231.7" r="3.50" fill="#925273"/><circle cx="327.4" cy="231.7" r="1.75" fill="#d8b2c8"/>
<circle cx="338.8" cy="233.0" r="3.50" fill="#925273"/><circle cx="338.8" cy="233.0" r="1.75" fill="#d8b2c8"/>
<circle cx="348.9" cy="235.1" r="3.50" fill="#925273"/><circle cx="348.9" cy="235.1" r="1.75" fill="#d8b2c8"/>
<circle cx="320.6" cy="239.8" r="3.50" fill="#925273"/><circle cx="320.6" cy="239.8" r="1.75" fill="#d8b2c8"/>
<circle cx="332.8" cy="238.4" r="3.50" fill="#925273"/><circle cx="332.8" cy="238.4" r="1.75" fill="#d8b2c8"/>
<circle cx="344.2" cy="239.8" r="3.50" fill="#925273"/><circle cx="344.2" cy="239.8" r="1.75" fill="#d8b2c8"/>
<circle cx="355.0" cy="239.8" r="3.50" fill="#925273"/><circle cx="355.0" cy="239.8" r="1.75" fill="#d8b2c8"/>
<circle cx="288.3" cy="245.2" r="3.50" fill="#925273"/><circle cx="288.3" cy="245.2" r="1.75" fill="#d8b2c8"/>
<circle cx="299.1" cy="247.2" r="3.50" fill="#925273"/><circle cx="299.1" cy="247.2" r="1.75" fill="#d8b2c8"/>
<circle cx="306.5" cy="243.8" r="3.50" fill="#925273"/><circle cx="306.5" cy="243.8" r="1.75" fill="#d8b2c8"/>
<circle cx="307.2" cy="248.5" r="3.50" fill="#925273"/><circle cx="307.2" cy="248.5" r="1.75" fill="#d8b2c8"/>
<circle cx="292.4" cy="250.5" r="3.50" fill="#925273"/><circle cx="292.4" cy="250.5" r="1.75" fill="#d8b2c8"/>
<circle cx="318.0" cy="249.9" r="3.50" fill="#925273"/><circle cx="318.0" cy="249.9" r="1.75" fill="#d8b2c8"/>
<circle cx="327.4" cy="244.5" r="3.50" fill="#925273"/><circle cx="327.4" cy="244.5" r="1.75" fill="#d8b2c8"/>
<circle cx="325.4" cy="252.6" r="3.50" fill="#925273"/><circle cx="325.4" cy="252.6" r="1.75" fill="#d8b2c8"/>
<circle cx="335.5" cy="247.8" r="3.50" fill="#925273"/><circle cx="335.5" cy="247.8" r="1.75" fill="#d8b2c8"/>
<circle cx="345.5" cy="247.2" r="3.50" fill="#925273"/><circle cx="345.5" cy="247.2" r="1.75" fill="#d8b2c8"/>
<circle cx="352.9" cy="250.5" r="3.50" fill="#925273"/><circle cx="352.9" cy="250.5" r="1.75" fill="#d8b2c8"/>
<circle cx="297.1" cy="259.3" r="3.50" fill="#925273"/><circle cx="297.1" cy="259.3" r="1.75" fill="#d8b2c8"/>
<circle cx="308.5" cy="259.7" r="3.50" fill="#925273"/><circle cx="308.5" cy="259.7" r="1.75" fill="#d8b2c8"/>
<circle cx="317.3" cy="257.9" r="3.50" fill="#925273"/><circle cx="317.3" cy="257.9" r="1.75" fill="#d8b2c8"/>
<circle cx="332.1" cy="254.6" r="3.50" fill="#925273"/><circle cx="332.1" cy="254.6" r="1.75" fill="#d8b2c8"/>
<circle cx="340.8" cy="257.3" r="3.50" fill="#925273"/><circle cx="340.8" cy="257.3" r="1.75" fill="#d8b2c8"/>
<circle cx="348.9" cy="258.6" r="3.50" fill="#925273"/><circle cx="348.9" cy="258.6" r="1.75" fill="#d8b2c8"/>
<circle cx="323.3" cy="263.3" r="3.50" fill="#925273"/><circle cx="323.3" cy="263.3" r="1.75" fill="#d8b2c8"/>
<circle cx="338.1" cy="264.7" r="3.50" fill="#925273"/><circle cx="338.1" cy="264.7" r="1.75" fill="#d8b2c8"/>
<circle cx="346.2" cy="266.0" r="3.50" fill="#925273"/><circle cx="346.2" cy="266.0" r="1.75" fill="#d8b2c8"/>
<circle cx="355.0" cy="257.9" r="3.50" fill="#925273"/><circle cx="355.0" cy="257.9" r="1.75" fill="#d8b2c8"/>
<circle cx="289.0" cy="268.7" r="3.50" fill="#925273"/><circle cx="289.0" cy="268.7" r="1.75" fill="#d8b2c8"/>
<circle cx="299.1" cy="268.7" r="3.50" fill="#925273"/><circle cx="299.1" cy="268.7" r="1.75" fill="#d8b2c8"/>
<circle cx="315.3" cy="266.7" r="3.50" fill="#925273"/><circle cx="315.3" cy="266.7" r="1.75" fill="#d8b2c8"/>
<circle cx="321.3" cy="272.1" r="3.50" fill="#925273"/><circle cx="321.3" cy="272.1" r="1.75" fill="#d8b2c8"/>
<circle cx="329.4" cy="270.7" r="3.50" fill="#925273"/><circle cx="329.4" cy="270.7" r="1.75" fill="#d8b2c8"/>
<circle cx="312.6" cy="274.1" r="3.50" fill="#925273"/><circle cx="312.6" cy="274.1" r="1.75" fill="#d8b2c8"/>
<circle cx="350.9" cy="271.4" r="3.50" fill="#925273"/><circle cx="350.9" cy="271.4" r="1.75" fill="#d8b2c8"/>
<circle cx="289.7" cy="276.8" r="3.50" fill="#925273"/><circle cx="289.7" cy="276.8" r="1.75" fill="#d8b2c8"/>
<circle cx="297.8" cy="276.8" r="3.50" fill="#925273"/><circle cx="297.8" cy="276.8" r="1.75" fill="#d8b2c8"/>
<circle cx="343.5" cy="276.8" r="3.50" fill="#925273"/><circle cx="343.5" cy="276.8" r="1.75" fill="#d8b2c8"/>
<circle cx="307.2" cy="282.2" r="3.50" fill="#925273"/><circle cx="307.2" cy="282.2" r="1.75" fill="#d8b2c8"/>
<circle cx="324.0" cy="282.8" r="3.50" fill="#925273"/><circle cx="324.0" cy="282.8" r="1.75" fill="#d8b2c8"/>
<circle cx="336.1" cy="280.8" r="3.50" fill="#925273"/><circle cx="336.1" cy="280.8" r="1.75" fill="#d8b2c8"/>
<circle cx="351.6" cy="280.8" r="3.50" fill="#925273"/><circle cx="351.6" cy="280.8" r="1.75" fill="#d8b2c8"/>
<circle cx="295.1" cy="284.2" r="3.50" fill="#925273"/><circle cx="295.1" cy="284.2" r="1.75" fill="#d8b2c8"/>
<circle cx="312.6" cy="286.9" r="3.50" fill="#925273"/><circle cx="312.6" cy="286.9" r="1.75" fill="#d8b2c8"/>
<circle cx="336.8" cy="186.9" r="4.3" fill="#7a5a94"/><circle cx="336.8" cy="186.9" r="1.6" fill="#b7a3cf"/>
</g></svg>
<svg x="363" y="171.5" width="138" height="116.5" viewBox="363 171.5 138 116.5" overflow="hidden">
<rect x="363" y="171.5" width="138" height="116.5" fill="#ecebec"/>
<g filter="url(#soft)">
<circle cx="366.4" cy="172.3" r="5.15" fill="#e2bcd4" opacity="0.55"/>
<circle cx="381.2" cy="172.3" r="5.15" fill="#e2bcd4" opacity="0.55"/>
<circle cx="389.2" cy="173.0" r="5.15" fill="#e2bcd4" opacity="0.55"/>
<circle cx="396.6" cy="173.0" r="5.15" fill="#e2bcd4" opacity="0.55"/>
<circle cx="369.1" cy="179.7" r="5.15" fill="#e2bcd4" opacity="0.55"/>
<circle cx="394.0" cy="177.7" r="5.15" fill="#e2bcd4" opacity="0.55"/>
<circle cx="402.0" cy="174.4" r="5.15" fill="#e2bcd4" opacity="0.55"/>
<circle cx="414.1" cy="174.4" r="5.15" fill="#e2bcd4" opacity="0.55"/>
<circle cx="408.8" cy="181.1" r="5.15" fill="#e2bcd4" opacity="0.55"/>
<circle cx="430.3" cy="173.7" r="5.15" fill="#e2bcd4" opacity="0.55"/>
<circle cx="377.1" cy="184.5" r="5.15" fill="#e2bcd4" opacity="0.55"/>
<circle cx="383.9" cy="183.8" r="5.15" fill="#e2bcd4" opacity="0.55"/>
<circle cx="390.6" cy="186.5" r="5.15" fill="#e2bcd4" opacity="0.55"/>
<circle cx="398.0" cy="183.8" r="5.15" fill="#e2bcd4" opacity="0.55"/>
<circle cx="373.1" cy="190.5" r="5.15" fill="#e2bcd4" opacity="0.55"/>
<circle cx="402.7" cy="190.5" r="5.15" fill="#e2bcd4" opacity="0.55"/>
<circle cx="423.6" cy="190.5" r="5.15" fill="#e2bcd4" opacity="0.55"/>
<circle cx="428.9" cy="185.8" r="5.15" fill="#e2bcd4" opacity="0.55"/>
<circle cx="365.7" cy="193.2" r="5.15" fill="#e2bcd4" opacity="0.55"/>
<circle cx="371.1" cy="198.6" r="5.15" fill="#e2bcd4" opacity="0.55"/>
<circle cx="375.8" cy="197.9" r="5.15" fill="#e2bcd4" opacity="0.55"/>
<circle cx="386.6" cy="193.2" r="5.15" fill="#e2bcd4" opacity="0.55"/>
<circle cx="388.6" cy="201.3" r="5.15" fill="#e2bcd4" opacity="0.55"/>
<circle cx="395.3" cy="199.3" r="5.15" fill="#e2bcd4" opacity="0.55"/>
<circle cx="403.4" cy="198.6" r="5.15" fill="#e2bcd4" opacity="0.55"/>
<circle cx="410.8" cy="199.9" r="5.15" fill="#e2bcd4" opacity="0.55"/>
<circle cx="418.2" cy="194.6" r="5.15" fill="#e2bcd4" opacity="0.55"/>
<circle cx="426.3" cy="197.2" r="5.15" fill="#e2bcd4" opacity="0.55"/>
<circle cx="364.3" cy="201.3" r="5.15" fill="#e2bcd4" opacity="0.55"/>
<circle cx="375.8" cy="206.0" r="5.15" fill="#e2bcd4" opacity="0.55"/>
<circle cx="384.5" cy="208.7" r="5.15" fill="#e2bcd4" opacity="0.55"/>
<circle cx="404.7" cy="205.3" r="5.15" fill="#e2bcd4" opacity="0.55"/>
<circle cx="406.1" cy="210.0" r="5.15" fill="#e2bcd4" opacity="0.55"/>
<circle cx="415.5" cy="206.0" r="5.15" fill="#e2bcd4" opacity="0.55"/>
<circle cx="378.5" cy="214.1" r="5.15" fill="#e2bcd4" opacity="0.55"/>
<circle cx="395.3" cy="216.1" r="5.15" fill="#e2bcd4" opacity="0.55"/>
<circle cx="402.7" cy="217.4" r="5.15" fill="#e2bcd4" opacity="0.55"/>
<circle cx="414.8" cy="213.4" r="5.15" fill="#e2bcd4" opacity="0.55"/>
<circle cx="422.2" cy="216.8" r="5.15" fill="#e2bcd4" opacity="0.55"/>
<circle cx="408.8" cy="220.8" r="5.15" fill="#e2bcd4" opacity="0.55"/>
<circle cx="367.7" cy="224.2" r="5.15" fill="#e2bcd4" opacity="0.55"/>
<circle cx="377.8" cy="222.8" r="5.15" fill="#e2bcd4" opacity="0.55"/>
<circle cx="385.9" cy="224.8" r="5.15" fill="#e2bcd4" opacity="0.55"/>
<circle cx="414.8" cy="224.8" r="5.15" fill="#e2bcd4" opacity="0.55"/>
<circle cx="428.9" cy="227.5" r="5.15" fill="#e2bcd4" opacity="0.55"/>
<circle cx="371.1" cy="230.2" r="5.15" fill="#e2bcd4" opacity="0.55"/>
<circle cx="406.1" cy="228.9" r="5.15" fill="#e2bcd4" opacity="0.55"/>
<circle cx="433.7" cy="173.0" r="5.15" fill="#e2bcd4" opacity="0.55"/>
<circle cx="447.2" cy="173.7" r="5.15" fill="#e2bcd4" opacity="0.55"/>
<circle cx="456.6" cy="173.0" r="5.15" fill="#e2bcd4" opacity="0.55"/>
<circle cx="475.4" cy="173.7" r="5.15" fill="#e2bcd4" opacity="0.55"/>
<circle cx="488.9" cy="173.7" r="5.15" fill="#e2bcd4" opacity="0.55"/>
<circle cx="439.7" cy="179.7" r="5.15" fill="#e2bcd4" opacity="0.55"/>
<circle cx="455.2" cy="179.1" r="5.15" fill="#e2bcd4" opacity="0.55"/>
<circle cx="464.0" cy="179.1" r="5.15" fill="#e2bcd4" opacity="0.55"/>
<circle cx="484.2" cy="179.7" r="5.15" fill="#e2bcd4" opacity="0.55"/>
<circle cx="494.3" cy="178.4" r="5.15" fill="#e2bcd4" opacity="0.55"/>
<circle cx="445.8" cy="184.5" r="5.15" fill="#e2bcd4" opacity="0.55"/>
<circle cx="476.8" cy="183.8" r="5.15" fill="#e2bcd4" opacity="0.55"/>
<circle cx="498.3" cy="182.4" r="5.15" fill="#e2bcd4" opacity="0.55"/>
<circle cx="433.7" cy="189.8" r="5.15" fill="#e2bcd4" opacity="0.55"/>
<circle cx="447.8" cy="191.2" r="5.15" fill="#e2bcd4" opacity="0.55"/>
<circle cx="455.9" cy="189.2" r="5.15" fill="#e2bcd4" opacity="0.55"/>
<circle cx="481.5" cy="191.2" r="5.15" fill="#e2bcd4" opacity="0.55"/>
<circle cx="492.9" cy="187.8" r="5.15" fill="#e2bcd4" opacity="0.55"/>
<circle cx="437.7" cy="197.2" r="5.15" fill="#e2bcd4" opacity="0.55"/>
<circle cx="490.2" cy="193.9" r="5.15" fill="#e2bcd4" opacity="0.55"/>
<circle cx="453.9" cy="201.3" r="5.15" fill="#e2bcd4" opacity="0.55"/>
<circle cx="485.5" cy="199.3" r="5.15" fill="#e2bcd4" opacity="0.55"/>
<circle cx="492.2" cy="201.3" r="5.15" fill="#e2bcd4" opacity="0.55"/>
<circle cx="499.6" cy="202.6" r="5.15" fill="#e2bcd4" opacity="0.55"/>
<circle cx="444.5" cy="207.3" r="5.15" fill="#e2bcd4" opacity="0.55"/>
<circle cx="452.5" cy="209.4" r="5.15" fill="#e2bcd4" opacity="0.55"/>
<circle cx="471.4" cy="210.7" r="5.15" fill="#e2bcd4" opacity="0.55"/>
<circle cx="488.2" cy="207.3" r="5.15" fill="#e2bcd4" opacity="0.55"/>
<circle cx="494.3" cy="209.4" r="5.15" fill="#e2bcd4" opacity="0.55"/>
<circle cx="445.8" cy="214.7" r="5.15" fill="#e2bcd4" opacity="0.55"/>
<circle cx="463.3" cy="216.8" r="5.15" fill="#e2bcd4" opacity="0.55"/>
<circle cx="472.0" cy="218.8" r="5.15" fill="#e2bcd4" opacity="0.55"/>
<circle cx="481.5" cy="218.8" r="5.15" fill="#e2bcd4" opacity="0.55"/>
<circle cx="487.5" cy="214.7" r="5.15" fill="#e2bcd4" opacity="0.55"/>
<circle cx="498.3" cy="218.1" r="5.15" fill="#e2bcd4" opacity="0.55"/>
<circle cx="433.0" cy="226.9" r="5.15" fill="#e2bcd4" opacity="0.55"/>
<circle cx="442.4" cy="226.2" r="5.15" fill="#e2bcd4" opacity="0.55"/>
<circle cx="456.6" cy="228.2" r="5.15" fill="#e2bcd4" opacity="0.55"/>
<circle cx="464.0" cy="224.8" r="5.15" fill="#e2bcd4" opacity="0.55"/>
<circle cx="484.8" cy="224.8" r="5.15" fill="#e2bcd4" opacity="0.55"/>
<circle cx="492.2" cy="228.2" r="5.15" fill="#e2bcd4" opacity="0.55"/>
<circle cx="499.0" cy="227.5" r="5.15" fill="#e2bcd4" opacity="0.55"/>
<circle cx="372.4" cy="229.7" r="5.15" fill="#e2bcd4" opacity="0.55"/>
<circle cx="406.1" cy="230.3" r="5.15" fill="#e2bcd4" opacity="0.55"/>
<circle cx="428.9" cy="229.7" r="5.15" fill="#e2bcd4" opacity="0.55"/>
<circle cx="367.0" cy="235.7" r="5.15" fill="#e2bcd4" opacity="0.55"/>
<circle cx="375.8" cy="236.4" r="5.15" fill="#e2bcd4" opacity="0.55"/>
<circle cx="383.9" cy="237.1" r="5.15" fill="#e2bcd4" opacity="0.55"/>
<circle cx="390.6" cy="233.7" r="5.15" fill="#e2bcd4" opacity="0.55"/>
<circle cx="402.0" cy="240.4" r="5.15" fill="#e2bcd4" opacity="0.55"/>
<circle cx="422.2" cy="236.4" r="5.15" fill="#e2bcd4" opacity="0.55"/>
<circle cx="430.3" cy="239.8" r="5.15" fill="#e2bcd4" opacity="0.55"/>
<circle cx="369.7" cy="243.1" r="5.15" fill="#e2bcd4" opacity="0.55"/>
<circle cx="380.5" cy="247.2" r="5.15" fill="#e2bcd4" opacity="0.55"/>
<circle cx="398.0" cy="245.8" r="5.15" fill="#e2bcd4" opacity="0.55"/>
<circle cx="405.4" cy="248.5" r="5.15" fill="#e2bcd4" opacity="0.55"/>
<circle cx="414.1" cy="247.2" r="5.15" fill="#e2bcd4" opacity="0.55"/>
<circle cx="424.9" cy="245.2" r="5.15" fill="#e2bcd4" opacity="0.55"/>
<circle cx="430.3" cy="249.2" r="5.15" fill="#e2bcd4" opacity="0.55"/>
<circle cx="367.7" cy="251.9" r="5.15" fill="#e2bcd4" opacity="0.55"/>
<circle cx="375.1" cy="253.2" r="5.15" fill="#e2bcd4" opacity="0.55"/>
<circle cx="392.6" cy="251.9" r="5.15" fill="#e2bcd4" opacity="0.55"/>
<circle cx="400.0" cy="255.2" r="5.15" fill="#e2bcd4" opacity="0.55"/>
<circle cx="387.9" cy="258.6" r="5.15" fill="#e2bcd4" opacity="0.55"/>
<circle cx="428.3" cy="255.9" r="5.15" fill="#e2bcd4" opacity="0.55"/>
<circle cx="366.4" cy="262.0" r="5.15" fill="#e2bcd4" opacity="0.55"/>
<circle cx="381.2" cy="264.0" r="5.15" fill="#e2bcd4" opacity="0.55"/>
<circle cx="408.1" cy="265.3" r="5.15" fill="#e2bcd4" opacity="0.55"/>
<circle cx="387.9" cy="268.0" r="5.15" fill="#e2bcd4" opacity="0.55"/>
<circle cx="402.0" cy="270.0" r="5.15" fill="#e2bcd4" opacity="0.55"/>
<circle cx="427.6" cy="268.7" r="5.15" fill="#e2bcd4" opacity="0.55"/>
<circle cx="365.7" cy="275.4" r="5.15" fill="#e2bcd4" opacity="0.55"/>
<circle cx="371.7" cy="279.5" r="5.15" fill="#e2bcd4" opacity="0.55"/>
<circle cx="392.6" cy="276.1" r="5.15" fill="#e2bcd4" opacity="0.55"/>
<circle cx="400.0" cy="277.5" r="5.15" fill="#e2bcd4" opacity="0.55"/>
<circle cx="427.6" cy="276.8" r="5.15" fill="#e2bcd4" opacity="0.55"/>
<circle cx="379.2" cy="284.2" r="5.15" fill="#e2bcd4" opacity="0.55"/>
<circle cx="387.2" cy="283.5" r="5.15" fill="#e2bcd4" opacity="0.55"/>
<circle cx="396.0" cy="284.2" r="5.15" fill="#e2bcd4" opacity="0.55"/>
<circle cx="404.7" cy="283.5" r="5.15" fill="#e2bcd4" opacity="0.55"/>
<circle cx="424.2" cy="283.5" r="5.15" fill="#e2bcd4" opacity="0.55"/>
<circle cx="442.4" cy="229.7" r="5.15" fill="#e2bcd4" opacity="0.55"/>
<circle cx="456.6" cy="230.3" r="5.15" fill="#e2bcd4" opacity="0.55"/>
<circle cx="490.2" cy="229.7" r="5.15" fill="#e2bcd4" opacity="0.55"/>
<circle cx="434.4" cy="233.7" r="5.15" fill="#e2bcd4" opacity="0.55"/>
<circle cx="439.7" cy="239.1" r="5.15" fill="#e2bcd4" opacity="0.55"/>
<circle cx="453.9" cy="239.1" r="5.15" fill="#e2bcd4" opacity="0.55"/>
<circle cx="465.3" cy="237.7" r="5.15" fill="#e2bcd4" opacity="0.55"/>
<circle cx="473.4" cy="241.8" r="5.15" fill="#e2bcd4" opacity="0.55"/>
<circle cx="482.8" cy="240.4" r="5.15" fill="#e2bcd4" opacity="0.55"/>
<circle cx="494.9" cy="236.4" r="5.15" fill="#e2bcd4" opacity="0.55"/>
<circle cx="446.5" cy="243.1" r="5.15" fill="#e2bcd4" opacity="0.55"/>
<circle cx="457.9" cy="245.2" r="5.15" fill="#e2bcd4" opacity="0.55"/>
<circle cx="432.3" cy="249.2" r="5.15" fill="#e2bcd4" opacity="0.55"/>
<circle cx="442.4" cy="249.2" r="5.15" fill="#e2bcd4" opacity="0.55"/>
<circle cx="450.5" cy="249.9" r="5.15" fill="#e2bcd4" opacity="0.55"/>
<circle cx="476.8" cy="249.9" r="5.15" fill="#e2bcd4" opacity="0.55"/>
<circle cx="484.8" cy="249.2" r="5.15" fill="#e2bcd4" opacity="0.55"/>
<circle cx="492.9" cy="249.2" r="5.15" fill="#e2bcd4" opacity="0.55"/>
<circle cx="499.0" cy="245.2" r="5.15" fill="#e2bcd4" opacity="0.55"/>
<circle cx="445.8" cy="255.9" r="5.15" fill="#e2bcd4" opacity="0.55"/>
<circle cx="453.9" cy="256.6" r="5.15" fill="#e2bcd4" opacity="0.55"/>
<circle cx="466.7" cy="257.9" r="5.15" fill="#e2bcd4" opacity="0.55"/>
<circle cx="475.4" cy="258.6" r="5.15" fill="#e2bcd4" opacity="0.55"/>
<circle cx="484.8" cy="256.6" r="5.15" fill="#e2bcd4" opacity="0.55"/>
<circle cx="496.9" cy="256.6" r="5.15" fill="#e2bcd4" opacity="0.55"/>
<circle cx="443.1" cy="262.6" r="5.15" fill="#e2bcd4" opacity="0.55"/>
<circle cx="461.3" cy="262.6" r="5.15" fill="#e2bcd4" opacity="0.55"/>
<circle cx="480.1" cy="264.0" r="5.15" fill="#e2bcd4" opacity="0.55"/>
<circle cx="490.9" cy="261.3" r="5.15" fill="#e2bcd4" opacity="0.55"/>
<circle cx="468.7" cy="266.7" r="5.15" fill="#e2bcd4" opacity="0.55"/>
<circle cx="445.1" cy="269.4" r="5.15" fill="#e2bcd4" opacity="0.55"/>
<circle cx="435.0" cy="272.1" r="5.15" fill="#e2bcd4" opacity="0.55"/>
<circle cx="452.5" cy="270.7" r="5.15" fill="#e2bcd4" opacity="0.55"/>
<circle cx="459.9" cy="272.1" r="5.15" fill="#e2bcd4" opacity="0.55"/>
<circle cx="479.5" cy="272.1" r="5.15" fill="#e2bcd4" opacity="0.55"/>
<circle cx="492.9" cy="274.8" r="5.15" fill="#e2bcd4" opacity="0.55"/>
<circle cx="485.5" cy="276.1" r="5.15" fill="#e2bcd4" opacity="0.55"/>
<circle cx="454.6" cy="278.8" r="5.15" fill="#e2bcd4" opacity="0.55"/>
<circle cx="469.4" cy="279.5" r="5.15" fill="#e2bcd4" opacity="0.55"/>
<circle cx="435.0" cy="282.8" r="5.15" fill="#e2bcd4" opacity="0.55"/>
<circle cx="446.5" cy="282.2" r="5.15" fill="#e2bcd4" opacity="0.55"/>
<circle cx="458.6" cy="284.9" r="5.15" fill="#e2bcd4" opacity="0.55"/>
<circle cx="490.2" cy="281.5" r="5.15" fill="#e2bcd4" opacity="0.55"/>
<circle cx="474.1" cy="287.5" r="5.15" fill="#e2bcd4" opacity="0.55"/>
<circle cx="496.9" cy="284.2" r="5.15" fill="#e2bcd4" opacity="0.55"/>
<circle cx="366.4" cy="172.3" r="3.35" fill="#935374"/><circle cx="366.4" cy="172.3" r="1.65" fill="#d9b3c9"/>
<circle cx="381.2" cy="172.3" r="3.35" fill="#935374"/><circle cx="381.2" cy="172.3" r="1.65" fill="#d9b3c9"/>
<circle cx="389.2" cy="173.0" r="3.35" fill="#935374"/><circle cx="389.2" cy="173.0" r="1.65" fill="#d9b3c9"/>
<circle cx="396.6" cy="173.0" r="3.35" fill="#935374"/><circle cx="396.6" cy="173.0" r="1.65" fill="#d9b3c9"/>
<circle cx="369.1" cy="179.7" r="3.35" fill="#935374"/><circle cx="369.1" cy="179.7" r="1.65" fill="#d9b3c9"/>
<circle cx="394.0" cy="177.7" r="3.35" fill="#935374"/><circle cx="394.0" cy="177.7" r="1.65" fill="#d9b3c9"/>
<circle cx="402.0" cy="174.4" r="3.35" fill="#935374"/><circle cx="402.0" cy="174.4" r="1.65" fill="#d9b3c9"/>
<circle cx="414.1" cy="174.4" r="3.35" fill="#935374"/><circle cx="414.1" cy="174.4" r="1.65" fill="#d9b3c9"/>
<circle cx="408.8" cy="181.1" r="3.35" fill="#935374"/><circle cx="408.8" cy="181.1" r="1.65" fill="#d9b3c9"/>
<circle cx="430.3" cy="173.7" r="3.35" fill="#935374"/><circle cx="430.3" cy="173.7" r="1.65" fill="#d9b3c9"/>
<circle cx="377.1" cy="184.5" r="3.35" fill="#935374"/><circle cx="377.1" cy="184.5" r="1.65" fill="#d9b3c9"/>
<circle cx="383.9" cy="183.8" r="3.35" fill="#935374"/><circle cx="383.9" cy="183.8" r="1.65" fill="#d9b3c9"/>
<circle cx="390.6" cy="186.5" r="3.35" fill="#935374"/><circle cx="390.6" cy="186.5" r="1.65" fill="#d9b3c9"/>
<circle cx="398.0" cy="183.8" r="3.35" fill="#935374"/><circle cx="398.0" cy="183.8" r="1.65" fill="#d9b3c9"/>
<circle cx="373.1" cy="190.5" r="3.35" fill="#935374"/><circle cx="373.1" cy="190.5" r="1.65" fill="#d9b3c9"/>
<circle cx="402.7" cy="190.5" r="3.35" fill="#935374"/><circle cx="402.7" cy="190.5" r="1.65" fill="#d9b3c9"/>
<circle cx="423.6" cy="190.5" r="3.35" fill="#935374"/><circle cx="423.6" cy="190.5" r="1.65" fill="#d9b3c9"/>
<circle cx="428.9" cy="185.8" r="3.35" fill="#935374"/><circle cx="428.9" cy="185.8" r="1.65" fill="#d9b3c9"/>
<circle cx="365.7" cy="193.2" r="3.35" fill="#935374"/><circle cx="365.7" cy="193.2" r="1.65" fill="#d9b3c9"/>
<circle cx="371.1" cy="198.6" r="3.35" fill="#935374"/><circle cx="371.1" cy="198.6" r="1.65" fill="#d9b3c9"/>
<circle cx="375.8" cy="197.9" r="3.35" fill="#935374"/><circle cx="375.8" cy="197.9" r="1.65" fill="#d9b3c9"/>
<circle cx="386.6" cy="193.2" r="3.35" fill="#935374"/><circle cx="386.6" cy="193.2" r="1.65" fill="#d9b3c9"/>
<circle cx="388.6" cy="201.3" r="3.35" fill="#935374"/><circle cx="388.6" cy="201.3" r="1.65" fill="#d9b3c9"/>
<circle cx="395.3" cy="199.3" r="3.35" fill="#935374"/><circle cx="395.3" cy="199.3" r="1.65" fill="#d9b3c9"/>
<circle cx="403.4" cy="198.6" r="3.35" fill="#935374"/><circle cx="403.4" cy="198.6" r="1.65" fill="#d9b3c9"/>
<circle cx="410.8" cy="199.9" r="3.35" fill="#935374"/><circle cx="410.8" cy="199.9" r="1.65" fill="#d9b3c9"/>
<circle cx="418.2" cy="194.6" r="3.35" fill="#935374"/><circle cx="418.2" cy="194.6" r="1.65" fill="#d9b3c9"/>
<circle cx="426.3" cy="197.2" r="3.35" fill="#935374"/><circle cx="426.3" cy="197.2" r="1.65" fill="#d9b3c9"/>
<circle cx="364.3" cy="201.3" r="3.35" fill="#935374"/><circle cx="364.3" cy="201.3" r="1.65" fill="#d9b3c9"/>
<circle cx="375.8" cy="206.0" r="3.35" fill="#935374"/><circle cx="375.8" cy="206.0" r="1.65" fill="#d9b3c9"/>
<circle cx="384.5" cy="208.7" r="3.35" fill="#935374"/><circle cx="384.5" cy="208.7" r="1.65" fill="#d9b3c9"/>
<circle cx="404.7" cy="205.3" r="3.35" fill="#935374"/><circle cx="404.7" cy="205.3" r="1.65" fill="#d9b3c9"/>
<circle cx="406.1" cy="210.0" r="3.35" fill="#935374"/><circle cx="406.1" cy="210.0" r="1.65" fill="#d9b3c9"/>
<circle cx="415.5" cy="206.0" r="3.35" fill="#935374"/><circle cx="415.5" cy="206.0" r="1.65" fill="#d9b3c9"/>
<circle cx="378.5" cy="214.1" r="3.35" fill="#935374"/><circle cx="378.5" cy="214.1" r="1.65" fill="#d9b3c9"/>
<circle cx="395.3" cy="216.1" r="3.35" fill="#935374"/><circle cx="395.3" cy="216.1" r="1.65" fill="#d9b3c9"/>
<circle cx="402.7" cy="217.4" r="3.35" fill="#935374"/><circle cx="402.7" cy="217.4" r="1.65" fill="#d9b3c9"/>
<circle cx="414.8" cy="213.4" r="3.35" fill="#935374"/><circle cx="414.8" cy="213.4" r="1.65" fill="#d9b3c9"/>
<circle cx="422.2" cy="216.8" r="3.35" fill="#935374"/><circle cx="422.2" cy="216.8" r="1.65" fill="#d9b3c9"/>
<circle cx="408.8" cy="220.8" r="3.35" fill="#935374"/><circle cx="408.8" cy="220.8" r="1.65" fill="#d9b3c9"/>
<circle cx="367.7" cy="224.2" r="3.35" fill="#935374"/><circle cx="367.7" cy="224.2" r="1.65" fill="#d9b3c9"/>
<circle cx="377.8" cy="222.8" r="3.35" fill="#935374"/><circle cx="377.8" cy="222.8" r="1.65" fill="#d9b3c9"/>
<circle cx="385.9" cy="224.8" r="3.35" fill="#935374"/><circle cx="385.9" cy="224.8" r="1.65" fill="#d9b3c9"/>
<circle cx="414.8" cy="224.8" r="3.35" fill="#935374"/><circle cx="414.8" cy="224.8" r="1.65" fill="#d9b3c9"/>
<circle cx="428.9" cy="227.5" r="3.35" fill="#935374"/><circle cx="428.9" cy="227.5" r="1.65" fill="#d9b3c9"/>
<circle cx="371.1" cy="230.2" r="3.35" fill="#935374"/><circle cx="371.1" cy="230.2" r="1.65" fill="#d9b3c9"/>
<circle cx="406.1" cy="228.9" r="3.35" fill="#935374"/><circle cx="406.1" cy="228.9" r="1.65" fill="#d9b3c9"/>
<circle cx="433.7" cy="173.0" r="3.35" fill="#935374"/><circle cx="433.7" cy="173.0" r="1.65" fill="#d9b3c9"/>
<circle cx="447.2" cy="173.7" r="3.35" fill="#935374"/><circle cx="447.2" cy="173.7" r="1.65" fill="#d9b3c9"/>
<circle cx="456.6" cy="173.0" r="3.35" fill="#935374"/><circle cx="456.6" cy="173.0" r="1.65" fill="#d9b3c9"/>
<circle cx="475.4" cy="173.7" r="3.35" fill="#935374"/><circle cx="475.4" cy="173.7" r="1.65" fill="#d9b3c9"/>
<circle cx="488.9" cy="173.7" r="3.35" fill="#935374"/><circle cx="488.9" cy="173.7" r="1.65" fill="#d9b3c9"/>
<circle cx="439.7" cy="179.7" r="3.35" fill="#935374"/><circle cx="439.7" cy="179.7" r="1.65" fill="#d9b3c9"/>
<circle cx="455.2" cy="179.1" r="3.35" fill="#935374"/><circle cx="455.2" cy="179.1" r="1.65" fill="#d9b3c9"/>
<circle cx="464.0" cy="179.1" r="3.35" fill="#935374"/><circle cx="464.0" cy="179.1" r="1.65" fill="#d9b3c9"/>
<circle cx="484.2" cy="179.7" r="3.35" fill="#935374"/><circle cx="484.2" cy="179.7" r="1.65" fill="#d9b3c9"/>
<circle cx="494.3" cy="178.4" r="3.35" fill="#935374"/><circle cx="494.3" cy="178.4" r="1.65" fill="#d9b3c9"/>
<circle cx="445.8" cy="184.5" r="3.35" fill="#935374"/><circle cx="445.8" cy="184.5" r="1.65" fill="#d9b3c9"/>
<circle cx="476.8" cy="183.8" r="3.35" fill="#935374"/><circle cx="476.8" cy="183.8" r="1.65" fill="#d9b3c9"/>
<circle cx="498.3" cy="182.4" r="3.35" fill="#935374"/><circle cx="498.3" cy="182.4" r="1.65" fill="#d9b3c9"/>
<circle cx="433.7" cy="189.8" r="3.35" fill="#935374"/><circle cx="433.7" cy="189.8" r="1.65" fill="#d9b3c9"/>
<circle cx="447.8" cy="191.2" r="3.35" fill="#935374"/><circle cx="447.8" cy="191.2" r="1.65" fill="#d9b3c9"/>
<circle cx="455.9" cy="189.2" r="3.35" fill="#935374"/><circle cx="455.9" cy="189.2" r="1.65" fill="#d9b3c9"/>
<circle cx="481.5" cy="191.2" r="3.35" fill="#935374"/><circle cx="481.5" cy="191.2" r="1.65" fill="#d9b3c9"/>
<circle cx="492.9" cy="187.8" r="3.35" fill="#935374"/><circle cx="492.9" cy="187.8" r="1.65" fill="#d9b3c9"/>
<circle cx="437.7" cy="197.2" r="3.35" fill="#935374"/><circle cx="437.7" cy="197.2" r="1.65" fill="#d9b3c9"/>
<circle cx="490.2" cy="193.9" r="3.35" fill="#935374"/><circle cx="490.2" cy="193.9" r="1.65" fill="#d9b3c9"/>
<circle cx="453.9" cy="201.3" r="3.35" fill="#935374"/><circle cx="453.9" cy="201.3" r="1.65" fill="#d9b3c9"/>
<circle cx="485.5" cy="199.3" r="3.35" fill="#935374"/><circle cx="485.5" cy="199.3" r="1.65" fill="#d9b3c9"/>
<circle cx="492.2" cy="201.3" r="3.35" fill="#935374"/><circle cx="492.2" cy="201.3" r="1.65" fill="#d9b3c9"/>
<circle cx="499.6" cy="202.6" r="3.35" fill="#935374"/><circle cx="499.6" cy="202.6" r="1.65" fill="#d9b3c9"/>
<circle cx="444.5" cy="207.3" r="3.35" fill="#935374"/><circle cx="444.5" cy="207.3" r="1.65" fill="#d9b3c9"/>
<circle cx="452.5" cy="209.4" r="3.35" fill="#935374"/><circle cx="452.5" cy="209.4" r="1.65" fill="#d9b3c9"/>
<circle cx="471.4" cy="210.7" r="3.35" fill="#935374"/><circle cx="471.4" cy="210.7" r="1.65" fill="#d9b3c9"/>
<circle cx="488.2" cy="207.3" r="3.35" fill="#935374"/><circle cx="488.2" cy="207.3" r="1.65" fill="#d9b3c9"/>
<circle cx="494.3" cy="209.4" r="3.35" fill="#935374"/><circle cx="494.3" cy="209.4" r="1.65" fill="#d9b3c9"/>
<circle cx="445.8" cy="214.7" r="3.35" fill="#935374"/><circle cx="445.8" cy="214.7" r="1.65" fill="#d9b3c9"/>
<circle cx="463.3" cy="216.8" r="3.35" fill="#935374"/><circle cx="463.3" cy="216.8" r="1.65" fill="#d9b3c9"/>
<circle cx="472.0" cy="218.8" r="3.35" fill="#935374"/><circle cx="472.0" cy="218.8" r="1.65" fill="#d9b3c9"/>
<circle cx="481.5" cy="218.8" r="3.35" fill="#935374"/><circle cx="481.5" cy="218.8" r="1.65" fill="#d9b3c9"/>
<circle cx="487.5" cy="214.7" r="3.35" fill="#935374"/><circle cx="487.5" cy="214.7" r="1.65" fill="#d9b3c9"/>
<circle cx="498.3" cy="218.1" r="3.35" fill="#935374"/><circle cx="498.3" cy="218.1" r="1.65" fill="#d9b3c9"/>
<circle cx="433.0" cy="226.9" r="3.35" fill="#935374"/><circle cx="433.0" cy="226.9" r="1.65" fill="#d9b3c9"/>
<circle cx="442.4" cy="226.2" r="3.35" fill="#935374"/><circle cx="442.4" cy="226.2" r="1.65" fill="#d9b3c9"/>
<circle cx="456.6" cy="228.2" r="3.35" fill="#935374"/><circle cx="456.6" cy="228.2" r="1.65" fill="#d9b3c9"/>
<circle cx="464.0" cy="224.8" r="3.35" fill="#935374"/><circle cx="464.0" cy="224.8" r="1.65" fill="#d9b3c9"/>
<circle cx="484.8" cy="224.8" r="3.35" fill="#935374"/><circle cx="484.8" cy="224.8" r="1.65" fill="#d9b3c9"/>
<circle cx="492.2" cy="228.2" r="3.35" fill="#935374"/><circle cx="492.2" cy="228.2" r="1.65" fill="#d9b3c9"/>
<circle cx="499.0" cy="227.5" r="3.35" fill="#935374"/><circle cx="499.0" cy="227.5" r="1.65" fill="#d9b3c9"/>
<circle cx="372.4" cy="229.7" r="3.35" fill="#935374"/><circle cx="372.4" cy="229.7" r="1.65" fill="#d9b3c9"/>
<circle cx="406.1" cy="230.3" r="3.35" fill="#935374"/><circle cx="406.1" cy="230.3" r="1.65" fill="#d9b3c9"/>
<circle cx="428.9" cy="229.7" r="3.35" fill="#935374"/><circle cx="428.9" cy="229.7" r="1.65" fill="#d9b3c9"/>
<circle cx="367.0" cy="235.7" r="3.35" fill="#935374"/><circle cx="367.0" cy="235.7" r="1.65" fill="#d9b3c9"/>
<circle cx="375.8" cy="236.4" r="3.35" fill="#935374"/><circle cx="375.8" cy="236.4" r="1.65" fill="#d9b3c9"/>
<circle cx="383.9" cy="237.1" r="3.35" fill="#935374"/><circle cx="383.9" cy="237.1" r="1.65" fill="#d9b3c9"/>
<circle cx="390.6" cy="233.7" r="3.35" fill="#935374"/><circle cx="390.6" cy="233.7" r="1.65" fill="#d9b3c9"/>
<circle cx="402.0" cy="240.4" r="3.35" fill="#935374"/><circle cx="402.0" cy="240.4" r="1.65" fill="#d9b3c9"/>
<circle cx="422.2" cy="236.4" r="3.35" fill="#935374"/><circle cx="422.2" cy="236.4" r="1.65" fill="#d9b3c9"/>
<circle cx="430.3" cy="239.8" r="3.35" fill="#935374"/><circle cx="430.3" cy="239.8" r="1.65" fill="#d9b3c9"/>
<circle cx="369.7" cy="243.1" r="3.35" fill="#935374"/><circle cx="369.7" cy="243.1" r="1.65" fill="#d9b3c9"/>
<circle cx="380.5" cy="247.2" r="3.35" fill="#935374"/><circle cx="380.5" cy="247.2" r="1.65" fill="#d9b3c9"/>
<circle cx="398.0" cy="245.8" r="3.35" fill="#935374"/><circle cx="398.0" cy="245.8" r="1.65" fill="#d9b3c9"/>
<circle cx="405.4" cy="248.5" r="3.35" fill="#935374"/><circle cx="405.4" cy="248.5" r="1.65" fill="#d9b3c9"/>
<circle cx="414.1" cy="247.2" r="3.35" fill="#935374"/><circle cx="414.1" cy="247.2" r="1.65" fill="#d9b3c9"/>
<circle cx="424.9" cy="245.2" r="3.35" fill="#935374"/><circle cx="424.9" cy="245.2" r="1.65" fill="#d9b3c9"/>
<circle cx="430.3" cy="249.2" r="3.35" fill="#935374"/><circle cx="430.3" cy="249.2" r="1.65" fill="#d9b3c9"/>
<circle cx="367.7" cy="251.9" r="3.35" fill="#935374"/><circle cx="367.7" cy="251.9" r="1.65" fill="#d9b3c9"/>
<circle cx="375.1" cy="253.2" r="3.35" fill="#935374"/><circle cx="375.1" cy="253.2" r="1.65" fill="#d9b3c9"/>
<circle cx="392.6" cy="251.9" r="3.35" fill="#935374"/><circle cx="392.6" cy="251.9" r="1.65" fill="#d9b3c9"/>
<circle cx="400.0" cy="255.2" r="3.35" fill="#935374"/><circle cx="400.0" cy="255.2" r="1.65" fill="#d9b3c9"/>
<circle cx="387.9" cy="258.6" r="3.35" fill="#935374"/><circle cx="387.9" cy="258.6" r="1.65" fill="#d9b3c9"/>
<circle cx="428.3" cy="255.9" r="3.35" fill="#935374"/><circle cx="428.3" cy="255.9" r="1.65" fill="#d9b3c9"/>
<circle cx="366.4" cy="262.0" r="3.35" fill="#935374"/><circle cx="366.4" cy="262.0" r="1.65" fill="#d9b3c9"/>
<circle cx="381.2" cy="264.0" r="3.35" fill="#935374"/><circle cx="381.2" cy="264.0" r="1.65" fill="#d9b3c9"/>
<circle cx="408.1" cy="265.3" r="3.35" fill="#935374"/><circle cx="408.1" cy="265.3" r="1.65" fill="#d9b3c9"/>
<circle cx="387.9" cy="268.0" r="3.35" fill="#935374"/><circle cx="387.9" cy="268.0" r="1.65" fill="#d9b3c9"/>
<circle cx="402.0" cy="270.0" r="3.35" fill="#935374"/><circle cx="402.0" cy="270.0" r="1.65" fill="#d9b3c9"/>
<circle cx="427.6" cy="268.7" r="3.35" fill="#935374"/><circle cx="427.6" cy="268.7" r="1.65" fill="#d9b3c9"/>
<circle cx="365.7" cy="275.4" r="3.35" fill="#935374"/><circle cx="365.7" cy="275.4" r="1.65" fill="#d9b3c9"/>
<circle cx="371.7" cy="279.5" r="3.35" fill="#935374"/><circle cx="371.7" cy="279.5" r="1.65" fill="#d9b3c9"/>
<circle cx="392.6" cy="276.1" r="3.35" fill="#935374"/><circle cx="392.6" cy="276.1" r="1.65" fill="#d9b3c9"/>
<circle cx="400.0" cy="277.5" r="3.35" fill="#935374"/><circle cx="400.0" cy="277.5" r="1.65" fill="#d9b3c9"/>
<circle cx="427.6" cy="276.8" r="3.35" fill="#935374"/><circle cx="427.6" cy="276.8" r="1.65" fill="#d9b3c9"/>
<circle cx="379.2" cy="284.2" r="3.35" fill="#935374"/><circle cx="379.2" cy="284.2" r="1.65" fill="#d9b3c9"/>
<circle cx="387.2" cy="283.5" r="3.35" fill="#935374"/><circle cx="387.2" cy="283.5" r="1.65" fill="#d9b3c9"/>
<circle cx="396.0" cy="284.2" r="3.35" fill="#935374"/><circle cx="396.0" cy="284.2" r="1.65" fill="#d9b3c9"/>
<circle cx="404.7" cy="283.5" r="3.35" fill="#935374"/><circle cx="404.7" cy="283.5" r="1.65" fill="#d9b3c9"/>
<circle cx="424.2" cy="283.5" r="3.35" fill="#935374"/><circle cx="424.2" cy="283.5" r="1.65" fill="#d9b3c9"/>
<circle cx="442.4" cy="229.7" r="3.35" fill="#935374"/><circle cx="442.4" cy="229.7" r="1.65" fill="#d9b3c9"/>
<circle cx="456.6" cy="230.3" r="3.35" fill="#935374"/><circle cx="456.6" cy="230.3" r="1.65" fill="#d9b3c9"/>
<circle cx="490.2" cy="229.7" r="3.35" fill="#935374"/><circle cx="490.2" cy="229.7" r="1.65" fill="#d9b3c9"/>
<circle cx="434.4" cy="233.7" r="3.35" fill="#935374"/><circle cx="434.4" cy="233.7" r="1.65" fill="#d9b3c9"/>
<circle cx="439.7" cy="239.1" r="3.35" fill="#935374"/><circle cx="439.7" cy="239.1" r="1.65" fill="#d9b3c9"/>
<circle cx="453.9" cy="239.1" r="3.35" fill="#935374"/><circle cx="453.9" cy="239.1" r="1.65" fill="#d9b3c9"/>
<circle cx="465.3" cy="237.7" r="3.35" fill="#935374"/><circle cx="465.3" cy="237.7" r="1.65" fill="#d9b3c9"/>
<circle cx="473.4" cy="241.8" r="3.35" fill="#935374"/><circle cx="473.4" cy="241.8" r="1.65" fill="#d9b3c9"/>
<circle cx="482.8" cy="240.4" r="3.35" fill="#935374"/><circle cx="482.8" cy="240.4" r="1.65" fill="#d9b3c9"/>
<circle cx="494.9" cy="236.4" r="3.35" fill="#935374"/><circle cx="494.9" cy="236.4" r="1.65" fill="#d9b3c9"/>
<circle cx="446.5" cy="243.1" r="3.35" fill="#935374"/><circle cx="446.5" cy="243.1" r="1.65" fill="#d9b3c9"/>
<circle cx="457.9" cy="245.2" r="3.35" fill="#935374"/><circle cx="457.9" cy="245.2" r="1.65" fill="#d9b3c9"/>
<circle cx="432.3" cy="249.2" r="3.35" fill="#935374"/><circle cx="432.3" cy="249.2" r="1.65" fill="#d9b3c9"/>
<circle cx="442.4" cy="249.2" r="3.35" fill="#935374"/><circle cx="442.4" cy="249.2" r="1.65" fill="#d9b3c9"/>
<circle cx="450.5" cy="249.9" r="3.35" fill="#935374"/><circle cx="450.5" cy="249.9" r="1.65" fill="#d9b3c9"/>
<circle cx="476.8" cy="249.9" r="3.35" fill="#935374"/><circle cx="476.8" cy="249.9" r="1.65" fill="#d9b3c9"/>
<circle cx="484.8" cy="249.2" r="3.35" fill="#935374"/><circle cx="484.8" cy="249.2" r="1.65" fill="#d9b3c9"/>
<circle cx="492.9" cy="249.2" r="3.35" fill="#935374"/><circle cx="492.9" cy="249.2" r="1.65" fill="#d9b3c9"/>
<circle cx="499.0" cy="245.2" r="3.35" fill="#935374"/><circle cx="499.0" cy="245.2" r="1.65" fill="#d9b3c9"/>
<circle cx="445.8" cy="255.9" r="3.35" fill="#935374"/><circle cx="445.8" cy="255.9" r="1.65" fill="#d9b3c9"/>
<circle cx="453.9" cy="256.6" r="3.35" fill="#935374"/><circle cx="453.9" cy="256.6" r="1.65" fill="#d9b3c9"/>
<circle cx="466.7" cy="257.9" r="3.35" fill="#935374"/><circle cx="466.7" cy="257.9" r="1.65" fill="#d9b3c9"/>
<circle cx="475.4" cy="258.6" r="3.35" fill="#935374"/><circle cx="475.4" cy="258.6" r="1.65" fill="#d9b3c9"/>
<circle cx="484.8" cy="256.6" r="3.35" fill="#935374"/><circle cx="484.8" cy="256.6" r="1.65" fill="#d9b3c9"/>
<circle cx="496.9" cy="256.6" r="3.35" fill="#935374"/><circle cx="496.9" cy="256.6" r="1.65" fill="#d9b3c9"/>
<circle cx="443.1" cy="262.6" r="3.35" fill="#935374"/><circle cx="443.1" cy="262.6" r="1.65" fill="#d9b3c9"/>
<circle cx="461.3" cy="262.6" r="3.35" fill="#935374"/><circle cx="461.3" cy="262.6" r="1.65" fill="#d9b3c9"/>
<circle cx="480.1" cy="264.0" r="3.35" fill="#935374"/><circle cx="480.1" cy="264.0" r="1.65" fill="#d9b3c9"/>
<circle cx="490.9" cy="261.3" r="3.35" fill="#935374"/><circle cx="490.9" cy="261.3" r="1.65" fill="#d9b3c9"/>
<circle cx="468.7" cy="266.7" r="3.35" fill="#935374"/><circle cx="468.7" cy="266.7" r="1.65" fill="#d9b3c9"/>
<circle cx="445.1" cy="269.4" r="3.35" fill="#935374"/><circle cx="445.1" cy="269.4" r="1.65" fill="#d9b3c9"/>
<circle cx="435.0" cy="272.1" r="3.35" fill="#935374"/><circle cx="435.0" cy="272.1" r="1.65" fill="#d9b3c9"/>
<circle cx="452.5" cy="270.7" r="3.35" fill="#935374"/><circle cx="452.5" cy="270.7" r="1.65" fill="#d9b3c9"/>
<circle cx="459.9" cy="272.1" r="3.35" fill="#935374"/><circle cx="459.9" cy="272.1" r="1.65" fill="#d9b3c9"/>
<circle cx="479.5" cy="272.1" r="3.35" fill="#935374"/><circle cx="479.5" cy="272.1" r="1.65" fill="#d9b3c9"/>
<circle cx="492.9" cy="274.8" r="3.35" fill="#935374"/><circle cx="492.9" cy="274.8" r="1.65" fill="#d9b3c9"/>
<circle cx="485.5" cy="276.1" r="3.35" fill="#935374"/><circle cx="485.5" cy="276.1" r="1.65" fill="#d9b3c9"/>
<circle cx="454.6" cy="278.8" r="3.35" fill="#935374"/><circle cx="454.6" cy="278.8" r="1.65" fill="#d9b3c9"/>
<circle cx="469.4" cy="279.5" r="3.35" fill="#935374"/><circle cx="469.4" cy="279.5" r="1.65" fill="#d9b3c9"/>
<circle cx="435.0" cy="282.8" r="3.35" fill="#935374"/><circle cx="435.0" cy="282.8" r="1.65" fill="#d9b3c9"/>
<circle cx="446.5" cy="282.2" r="3.35" fill="#935374"/><circle cx="446.5" cy="282.2" r="1.65" fill="#d9b3c9"/>
<circle cx="458.6" cy="284.9" r="3.35" fill="#935374"/><circle cx="458.6" cy="284.9" r="1.65" fill="#d9b3c9"/>
<circle cx="490.2" cy="281.5" r="3.35" fill="#935374"/><circle cx="490.2" cy="281.5" r="1.65" fill="#d9b3c9"/>
<circle cx="474.1" cy="287.5" r="3.35" fill="#935374"/><circle cx="474.1" cy="287.5" r="1.65" fill="#d9b3c9"/>
<circle cx="496.9" cy="284.2" r="3.35" fill="#935374"/><circle cx="496.9" cy="284.2" r="1.65" fill="#d9b3c9"/>
<circle cx="398.7" cy="224.2" r="4.3" fill="#7a5a94"/><circle cx="398.7" cy="224.2" r="1.6" fill="#b7a3cf"/>
<circle cx="386.6" cy="253.2" r="0.8" fill="#5a2f7e"/>
<circle cx="415.5" cy="276.1" r="0.8" fill="#5a2f7e"/>
<circle cx="377.8" cy="241.8" r="0.8" fill="#5a2f7e"/>
<circle cx="379.2" cy="257.9" r="0.8" fill="#5a2f7e"/>
<circle cx="457.9" cy="253.2" r="0.8" fill="#5a2f7e"/>
<circle cx="462.0" cy="250.5" r="0.8" fill="#5a2f7e"/>
<circle cx="452.5" cy="264.0" r="0.8" fill="#5a2f7e"/>
<circle cx="485.5" cy="265.3" r="0.8" fill="#5a2f7e"/>
<circle cx="476.8" cy="245.2" r="0.8" fill="#5a2f7e"/>
<circle cx="449.8" cy="181.1" r="0.8" fill="#5a2f7e"/>
<circle cx="458.6" cy="183.8" r="0.8" fill="#5a2f7e"/>
<circle cx="447.2" cy="196.6" r="0.8" fill="#5a2f7e"/>
<circle cx="436.4" cy="201.3" r="0.8" fill="#5a2f7e"/>
<circle cx="471.4" cy="205.3" r="0.8" fill="#5a2f7e"/>
<circle cx="410.8" cy="191.2" r="0.8" fill="#5a2f7e"/>
<circle cx="419.5" cy="199.3" r="0.8" fill="#5a2f7e"/>
<circle cx="417.5" cy="202.0" r="0.8" fill="#5a2f7e"/>
</g></svg>
<svg x="363" y="307.5" width="138" height="116" viewBox="363 307.5 138 116" overflow="hidden">
<rect x="363" y="307.5" width="138" height="116" fill="#eae6ea"/>
<g filter="url(#soft)">
<circle cx="371.1" cy="309.0" r="5.60" fill="#e2bcd4" opacity="0.55"/>
<circle cx="396.6" cy="308.3" r="5.60" fill="#e2bcd4" opacity="0.55"/>
<circle cx="410.8" cy="311.0" r="5.60" fill="#e2bcd4" opacity="0.55"/>
<circle cx="421.5" cy="309.7" r="5.60" fill="#e2bcd4" opacity="0.55"/>
<circle cx="365.7" cy="315.7" r="5.60" fill="#e2bcd4" opacity="0.55"/>
<circle cx="421.5" cy="317.8" r="5.60" fill="#e2bcd4" opacity="0.55"/>
<circle cx="429.6" cy="317.1" r="5.60" fill="#e2bcd4" opacity="0.55"/>
<circle cx="373.8" cy="321.8" r="5.60" fill="#e2bcd4" opacity="0.55"/>
<circle cx="389.2" cy="324.5" r="5.60" fill="#e2bcd4" opacity="0.55"/>
<circle cx="406.7" cy="323.2" r="5.60" fill="#e2bcd4" opacity="0.55"/>
<circle cx="415.5" cy="325.8" r="5.60" fill="#e2bcd4" opacity="0.55"/>
<circle cx="424.2" cy="325.8" r="5.60" fill="#e2bcd4" opacity="0.55"/>
<circle cx="365.0" cy="332.6" r="5.60" fill="#e2bcd4" opacity="0.55"/>
<circle cx="383.2" cy="331.2" r="5.60" fill="#e2bcd4" opacity="0.55"/>
<circle cx="401.4" cy="335.3" r="5.60" fill="#e2bcd4" opacity="0.55"/>
<circle cx="419.5" cy="331.9" r="5.60" fill="#e2bcd4" opacity="0.55"/>
<circle cx="428.9" cy="329.9" r="5.60" fill="#e2bcd4" opacity="0.55"/>
<circle cx="379.2" cy="337.3" r="5.60" fill="#e2bcd4" opacity="0.55"/>
<circle cx="390.6" cy="340.6" r="5.60" fill="#e2bcd4" opacity="0.55"/>
<circle cx="409.4" cy="338.6" r="5.60" fill="#e2bcd4" opacity="0.55"/>
<circle cx="421.5" cy="342.7" r="5.60" fill="#e2bcd4" opacity="0.55"/>
<circle cx="377.8" cy="344.7" r="5.60" fill="#e2bcd4" opacity="0.55"/>
<circle cx="365.7" cy="349.4" r="5.60" fill="#e2bcd4" opacity="0.55"/>
<circle cx="370.4" cy="348.0" r="5.60" fill="#e2bcd4" opacity="0.55"/>
<circle cx="392.6" cy="348.7" r="5.60" fill="#e2bcd4" opacity="0.55"/>
<circle cx="422.9" cy="353.4" r="5.60" fill="#e2bcd4" opacity="0.55"/>
<circle cx="429.6" cy="354.8" r="5.60" fill="#e2bcd4" opacity="0.55"/>
<circle cx="365.7" cy="356.8" r="5.60" fill="#e2bcd4" opacity="0.55"/>
<circle cx="410.1" cy="358.1" r="5.60" fill="#e2bcd4" opacity="0.55"/>
<circle cx="418.2" cy="361.5" r="5.60" fill="#e2bcd4" opacity="0.55"/>
<circle cx="371.1" cy="362.2" r="5.60" fill="#e2bcd4" opacity="0.55"/>
<circle cx="384.5" cy="362.2" r="5.60" fill="#e2bcd4" opacity="0.55"/>
<circle cx="402.0" cy="364.2" r="5.60" fill="#e2bcd4" opacity="0.55"/>
<circle cx="378.5" cy="364.9" r="5.60" fill="#e2bcd4" opacity="0.55"/>
<circle cx="430.3" cy="362.2" r="5.60" fill="#e2bcd4" opacity="0.55"/>
<circle cx="441.1" cy="308.3" r="5.60" fill="#e2bcd4" opacity="0.55"/>
<circle cx="450.5" cy="311.7" r="5.60" fill="#e2bcd4" opacity="0.55"/>
<circle cx="459.9" cy="310.4" r="5.60" fill="#e2bcd4" opacity="0.55"/>
<circle cx="472.7" cy="311.0" r="5.60" fill="#e2bcd4" opacity="0.55"/>
<circle cx="483.5" cy="310.4" r="5.60" fill="#e2bcd4" opacity="0.55"/>
<circle cx="494.3" cy="313.7" r="5.60" fill="#e2bcd4" opacity="0.55"/>
<circle cx="432.3" cy="317.1" r="5.60" fill="#e2bcd4" opacity="0.55"/>
<circle cx="475.4" cy="317.1" r="5.60" fill="#e2bcd4" opacity="0.55"/>
<circle cx="479.5" cy="315.1" r="5.60" fill="#e2bcd4" opacity="0.55"/>
<circle cx="488.2" cy="319.1" r="5.60" fill="#e2bcd4" opacity="0.55"/>
<circle cx="466.7" cy="323.8" r="5.60" fill="#e2bcd4" opacity="0.55"/>
<circle cx="480.8" cy="323.2" r="5.60" fill="#e2bcd4" opacity="0.55"/>
<circle cx="488.9" cy="327.9" r="5.60" fill="#e2bcd4" opacity="0.55"/>
<circle cx="496.3" cy="327.9" r="5.60" fill="#e2bcd4" opacity="0.55"/>
<circle cx="457.2" cy="331.9" r="5.60" fill="#e2bcd4" opacity="0.55"/>
<circle cx="462.6" cy="330.6" r="5.60" fill="#e2bcd4" opacity="0.55"/>
<circle cx="468.7" cy="335.9" r="5.60" fill="#e2bcd4" opacity="0.55"/>
<circle cx="496.3" cy="333.9" r="5.60" fill="#e2bcd4" opacity="0.55"/>
<circle cx="479.5" cy="339.3" r="5.60" fill="#e2bcd4" opacity="0.55"/>
<circle cx="443.1" cy="343.3" r="5.60" fill="#e2bcd4" opacity="0.55"/>
<circle cx="472.7" cy="346.0" r="5.60" fill="#e2bcd4" opacity="0.55"/>
<circle cx="487.5" cy="346.0" r="5.60" fill="#e2bcd4" opacity="0.55"/>
<circle cx="499.0" cy="346.7" r="5.60" fill="#e2bcd4" opacity="0.55"/>
<circle cx="437.7" cy="352.8" r="5.60" fill="#e2bcd4" opacity="0.55"/>
<circle cx="445.1" cy="351.4" r="5.60" fill="#e2bcd4" opacity="0.55"/>
<circle cx="476.1" cy="352.8" r="5.60" fill="#e2bcd4" opacity="0.55"/>
<circle cx="484.2" cy="352.8" r="5.60" fill="#e2bcd4" opacity="0.55"/>
<circle cx="492.2" cy="351.4" r="5.60" fill="#e2bcd4" opacity="0.55"/>
<circle cx="432.3" cy="354.1" r="5.60" fill="#e2bcd4" opacity="0.55"/>
<circle cx="448.5" cy="360.2" r="5.60" fill="#e2bcd4" opacity="0.55"/>
<circle cx="459.3" cy="360.8" r="5.60" fill="#e2bcd4" opacity="0.55"/>
<circle cx="482.8" cy="358.8" r="5.60" fill="#e2bcd4" opacity="0.55"/>
<circle cx="435.0" cy="360.2" r="5.60" fill="#e2bcd4" opacity="0.55"/>
<circle cx="474.1" cy="363.5" r="5.60" fill="#e2bcd4" opacity="0.55"/>
<circle cx="497.6" cy="362.2" r="5.60" fill="#e2bcd4" opacity="0.55"/>
<circle cx="466.0" cy="366.2" r="5.60" fill="#e2bcd4" opacity="0.55"/>
<circle cx="366.4" cy="365.3" r="5.60" fill="#e2bcd4" opacity="0.55"/>
<circle cx="375.8" cy="366.0" r="5.60" fill="#e2bcd4" opacity="0.55"/>
<circle cx="384.5" cy="365.3" r="5.60" fill="#e2bcd4" opacity="0.55"/>
<circle cx="402.0" cy="366.0" r="5.60" fill="#e2bcd4" opacity="0.55"/>
<circle cx="367.0" cy="371.4" r="5.60" fill="#e2bcd4" opacity="0.55"/>
<circle cx="393.3" cy="368.7" r="5.60" fill="#e2bcd4" opacity="0.55"/>
<circle cx="416.8" cy="370.7" r="5.60" fill="#e2bcd4" opacity="0.55"/>
<circle cx="365.0" cy="378.8" r="5.60" fill="#e2bcd4" opacity="0.55"/>
<circle cx="387.2" cy="376.1" r="5.60" fill="#e2bcd4" opacity="0.55"/>
<circle cx="401.4" cy="376.1" r="5.60" fill="#e2bcd4" opacity="0.55"/>
<circle cx="424.9" cy="376.8" r="5.60" fill="#e2bcd4" opacity="0.55"/>
<circle cx="394.0" cy="380.2" r="5.60" fill="#e2bcd4" opacity="0.55"/>
<circle cx="407.4" cy="381.5" r="5.60" fill="#e2bcd4" opacity="0.55"/>
<circle cx="383.2" cy="383.5" r="5.60" fill="#e2bcd4" opacity="0.55"/>
<circle cx="368.4" cy="387.6" r="5.60" fill="#e2bcd4" opacity="0.55"/>
<circle cx="413.5" cy="385.5" r="5.60" fill="#e2bcd4" opacity="0.55"/>
<circle cx="430.3" cy="385.5" r="5.60" fill="#e2bcd4" opacity="0.55"/>
<circle cx="394.0" cy="388.9" r="5.60" fill="#e2bcd4" opacity="0.55"/>
<circle cx="387.2" cy="391.6" r="5.60" fill="#e2bcd4" opacity="0.55"/>
<circle cx="378.5" cy="393.6" r="5.60" fill="#e2bcd4" opacity="0.55"/>
<circle cx="403.4" cy="395.0" r="5.60" fill="#e2bcd4" opacity="0.55"/>
<circle cx="411.5" cy="395.0" r="5.60" fill="#e2bcd4" opacity="0.55"/>
<circle cx="424.2" cy="389.6" r="5.60" fill="#e2bcd4" opacity="0.55"/>
<circle cx="430.3" cy="392.9" r="5.60" fill="#e2bcd4" opacity="0.55"/>
<circle cx="392.6" cy="397.6" r="5.60" fill="#e2bcd4" opacity="0.55"/>
<circle cx="371.7" cy="403.0" r="5.60" fill="#e2bcd4" opacity="0.55"/>
<circle cx="384.5" cy="405.7" r="5.60" fill="#e2bcd4" opacity="0.55"/>
<circle cx="396.6" cy="405.0" r="5.60" fill="#e2bcd4" opacity="0.55"/>
<circle cx="404.7" cy="406.4" r="5.60" fill="#e2bcd4" opacity="0.55"/>
<circle cx="410.8" cy="403.0" r="5.60" fill="#e2bcd4" opacity="0.55"/>
<circle cx="422.2" cy="405.0" r="5.60" fill="#e2bcd4" opacity="0.55"/>
<circle cx="430.3" cy="404.4" r="5.60" fill="#e2bcd4" opacity="0.55"/>
<circle cx="369.7" cy="409.8" r="5.60" fill="#e2bcd4" opacity="0.55"/>
<circle cx="377.8" cy="411.1" r="5.60" fill="#e2bcd4" opacity="0.55"/>
<circle cx="391.9" cy="410.4" r="5.60" fill="#e2bcd4" opacity="0.55"/>
<circle cx="400.7" cy="412.5" r="5.60" fill="#e2bcd4" opacity="0.55"/>
<circle cx="409.4" cy="410.4" r="5.60" fill="#e2bcd4" opacity="0.55"/>
<circle cx="417.5" cy="410.4" r="5.60" fill="#e2bcd4" opacity="0.55"/>
<circle cx="427.6" cy="410.4" r="5.60" fill="#e2bcd4" opacity="0.55"/>
<circle cx="383.2" cy="414.5" r="5.60" fill="#e2bcd4" opacity="0.55"/>
<circle cx="370.4" cy="418.5" r="5.60" fill="#e2bcd4" opacity="0.55"/>
<circle cx="395.3" cy="417.2" r="5.60" fill="#e2bcd4" opacity="0.55"/>
<circle cx="404.7" cy="419.2" r="5.60" fill="#e2bcd4" opacity="0.55"/>
<circle cx="413.5" cy="417.8" r="5.60" fill="#e2bcd4" opacity="0.55"/>
<circle cx="423.6" cy="421.9" r="5.60" fill="#e2bcd4" opacity="0.55"/>
<circle cx="379.2" cy="421.9" r="5.60" fill="#e2bcd4" opacity="0.55"/>
<circle cx="435.0" cy="368.0" r="5.60" fill="#e2bcd4" opacity="0.55"/>
<circle cx="441.1" cy="368.0" r="5.60" fill="#e2bcd4" opacity="0.55"/>
<circle cx="467.3" cy="367.4" r="5.60" fill="#e2bcd4" opacity="0.55"/>
<circle cx="475.4" cy="365.3" r="5.60" fill="#e2bcd4" opacity="0.55"/>
<circle cx="495.6" cy="365.3" r="5.60" fill="#e2bcd4" opacity="0.55"/>
<circle cx="436.4" cy="376.8" r="5.60" fill="#e2bcd4" opacity="0.55"/>
<circle cx="451.2" cy="378.1" r="5.60" fill="#e2bcd4" opacity="0.55"/>
<circle cx="457.9" cy="376.8" r="5.60" fill="#e2bcd4" opacity="0.55"/>
<circle cx="466.7" cy="375.4" r="5.60" fill="#e2bcd4" opacity="0.55"/>
<circle cx="478.1" cy="374.1" r="5.60" fill="#e2bcd4" opacity="0.55"/>
<circle cx="485.5" cy="376.1" r="5.60" fill="#e2bcd4" opacity="0.55"/>
<circle cx="496.9" cy="377.5" r="5.60" fill="#e2bcd4" opacity="0.55"/>
<circle cx="432.3" cy="385.5" r="5.60" fill="#e2bcd4" opacity="0.55"/>
<circle cx="438.4" cy="385.5" r="5.60" fill="#e2bcd4" opacity="0.55"/>
<circle cx="464.6" cy="382.8" r="5.60" fill="#e2bcd4" opacity="0.55"/>
<circle cx="472.7" cy="382.8" r="5.60" fill="#e2bcd4" opacity="0.55"/>
<circle cx="492.9" cy="382.2" r="5.60" fill="#e2bcd4" opacity="0.55"/>
<circle cx="459.3" cy="387.6" r="5.60" fill="#e2bcd4" opacity="0.55"/>
<circle cx="467.3" cy="390.9" r="5.60" fill="#e2bcd4" opacity="0.55"/>
<circle cx="433.0" cy="392.9" r="5.60" fill="#e2bcd4" opacity="0.55"/>
<circle cx="466.7" cy="397.0" r="5.60" fill="#e2bcd4" opacity="0.55"/>
<circle cx="494.3" cy="395.6" r="5.60" fill="#e2bcd4" opacity="0.55"/>
<circle cx="442.4" cy="399.0" r="5.60" fill="#e2bcd4" opacity="0.55"/>
<circle cx="453.2" cy="401.0" r="5.60" fill="#e2bcd4" opacity="0.55"/>
<circle cx="432.3" cy="404.4" r="5.60" fill="#e2bcd4" opacity="0.55"/>
<circle cx="467.3" cy="410.4" r="5.60" fill="#e2bcd4" opacity="0.55"/>
<circle cx="435.0" cy="413.8" r="5.60" fill="#e2bcd4" opacity="0.55"/>
<circle cx="488.9" cy="413.1" r="5.60" fill="#e2bcd4" opacity="0.55"/>
<circle cx="496.9" cy="414.5" r="5.60" fill="#e2bcd4" opacity="0.55"/>
<circle cx="444.5" cy="420.5" r="5.60" fill="#e2bcd4" opacity="0.55"/>
<circle cx="452.5" cy="420.5" r="5.60" fill="#e2bcd4" opacity="0.55"/>
<circle cx="459.9" cy="418.5" r="5.60" fill="#e2bcd4" opacity="0.55"/>
<circle cx="498.3" cy="420.5" r="5.60" fill="#e2bcd4" opacity="0.55"/>
<circle cx="371.1" cy="309.0" r="3.80" fill="#a2648a"/><circle cx="371.1" cy="309.0" r="2.00" fill="#e0c0d4"/>
<circle cx="396.6" cy="308.3" r="3.80" fill="#a2648a"/><circle cx="396.6" cy="308.3" r="2.00" fill="#e0c0d4"/>
<circle cx="410.8" cy="311.0" r="3.80" fill="#a2648a"/><circle cx="410.8" cy="311.0" r="2.00" fill="#e0c0d4"/>
<circle cx="421.5" cy="309.7" r="3.80" fill="#a2648a"/><circle cx="421.5" cy="309.7" r="2.00" fill="#e0c0d4"/>
<circle cx="365.7" cy="315.7" r="3.80" fill="#a2648a"/><circle cx="365.7" cy="315.7" r="2.00" fill="#e0c0d4"/>
<circle cx="421.5" cy="317.8" r="3.80" fill="#a2648a"/><circle cx="421.5" cy="317.8" r="2.00" fill="#e0c0d4"/>
<circle cx="429.6" cy="317.1" r="3.80" fill="#a2648a"/><circle cx="429.6" cy="317.1" r="2.00" fill="#e0c0d4"/>
<circle cx="373.8" cy="321.8" r="2.66" fill="#a2648a"/><circle cx="373.8" cy="321.8" r="1.40" fill="#e0c0d4"/>
<circle cx="389.2" cy="324.5" r="3.80" fill="#a2648a"/><circle cx="389.2" cy="324.5" r="2.00" fill="#e0c0d4"/>
<circle cx="406.7" cy="323.2" r="3.80" fill="#a2648a"/><circle cx="406.7" cy="323.2" r="2.00" fill="#e0c0d4"/>
<circle cx="415.5" cy="325.8" r="3.80" fill="#a2648a"/><circle cx="415.5" cy="325.8" r="2.00" fill="#e0c0d4"/>
<circle cx="424.2" cy="325.8" r="2.66" fill="#a2648a"/><circle cx="424.2" cy="325.8" r="1.40" fill="#e0c0d4"/>
<circle cx="365.0" cy="332.6" r="3.80" fill="#a2648a"/><circle cx="365.0" cy="332.6" r="2.00" fill="#e0c0d4"/>
<circle cx="383.2" cy="331.2" r="3.80" fill="#a2648a"/><circle cx="383.2" cy="331.2" r="2.00" fill="#e0c0d4"/>
<circle cx="401.4" cy="335.3" r="3.80" fill="#a2648a"/><circle cx="401.4" cy="335.3" r="2.00" fill="#e0c0d4"/>
<circle cx="419.5" cy="331.9" r="3.80" fill="#a2648a"/><circle cx="419.5" cy="331.9" r="2.00" fill="#e0c0d4"/>
<circle cx="428.9" cy="329.9" r="2.66" fill="#a2648a"/><circle cx="428.9" cy="329.9" r="1.40" fill="#e0c0d4"/>
<circle cx="379.2" cy="337.3" r="3.80" fill="#a2648a"/><circle cx="379.2" cy="337.3" r="2.00" fill="#e0c0d4"/>
<circle cx="390.6" cy="340.6" r="3.80" fill="#a2648a"/><circle cx="390.6" cy="340.6" r="2.00" fill="#e0c0d4"/>
<circle cx="409.4" cy="338.6" r="3.80" fill="#a2648a"/><circle cx="409.4" cy="338.6" r="2.00" fill="#e0c0d4"/>
<circle cx="421.5" cy="342.7" r="3.80" fill="#a2648a"/><circle cx="421.5" cy="342.7" r="2.00" fill="#e0c0d4"/>
<circle cx="377.8" cy="344.7" r="3.80" fill="#a2648a"/><circle cx="377.8" cy="344.7" r="2.00" fill="#e0c0d4"/>
<circle cx="365.7" cy="349.4" r="3.80" fill="#a2648a"/><circle cx="365.7" cy="349.4" r="2.00" fill="#e0c0d4"/>
<circle cx="370.4" cy="348.0" r="3.80" fill="#a2648a"/><circle cx="370.4" cy="348.0" r="2.00" fill="#e0c0d4"/>
<circle cx="392.6" cy="348.7" r="3.80" fill="#a2648a"/><circle cx="392.6" cy="348.7" r="2.00" fill="#e0c0d4"/>
<circle cx="422.9" cy="353.4" r="3.80" fill="#a2648a"/><circle cx="422.9" cy="353.4" r="2.00" fill="#e0c0d4"/>
<circle cx="429.6" cy="354.8" r="3.80" fill="#a2648a"/><circle cx="429.6" cy="354.8" r="2.00" fill="#e0c0d4"/>
<circle cx="365.7" cy="356.8" r="3.80" fill="#a2648a"/><circle cx="365.7" cy="356.8" r="2.00" fill="#e0c0d4"/>
<circle cx="410.1" cy="358.1" r="3.80" fill="#a2648a"/><circle cx="410.1" cy="358.1" r="2.00" fill="#e0c0d4"/>
<circle cx="418.2" cy="361.5" r="3.80" fill="#a2648a"/><circle cx="418.2" cy="361.5" r="2.00" fill="#e0c0d4"/>
<circle cx="371.1" cy="362.2" r="3.80" fill="#a2648a"/><circle cx="371.1" cy="362.2" r="2.00" fill="#e0c0d4"/>
<circle cx="384.5" cy="362.2" r="3.80" fill="#a2648a"/><circle cx="384.5" cy="362.2" r="2.00" fill="#e0c0d4"/>
<circle cx="402.0" cy="364.2" r="3.80" fill="#a2648a"/><circle cx="402.0" cy="364.2" r="2.00" fill="#e0c0d4"/>
<circle cx="378.5" cy="364.9" r="3.80" fill="#a2648a"/><circle cx="378.5" cy="364.9" r="2.00" fill="#e0c0d4"/>
<circle cx="430.3" cy="362.2" r="3.80" fill="#a2648a"/><circle cx="430.3" cy="362.2" r="2.00" fill="#e0c0d4"/>
<circle cx="441.1" cy="308.3" r="3.80" fill="#a2648a"/><circle cx="441.1" cy="308.3" r="2.00" fill="#e0c0d4"/>
<circle cx="450.5" cy="311.7" r="3.80" fill="#a2648a"/><circle cx="450.5" cy="311.7" r="2.00" fill="#e0c0d4"/>
<circle cx="459.9" cy="310.4" r="3.80" fill="#a2648a"/><circle cx="459.9" cy="310.4" r="2.00" fill="#e0c0d4"/>
<circle cx="472.7" cy="311.0" r="3.80" fill="#a2648a"/><circle cx="472.7" cy="311.0" r="2.00" fill="#e0c0d4"/>
<circle cx="483.5" cy="310.4" r="3.80" fill="#a2648a"/><circle cx="483.5" cy="310.4" r="2.00" fill="#e0c0d4"/>
<circle cx="494.3" cy="313.7" r="3.80" fill="#a2648a"/><circle cx="494.3" cy="313.7" r="2.00" fill="#e0c0d4"/>
<circle cx="432.3" cy="317.1" r="3.80" fill="#a2648a"/><circle cx="432.3" cy="317.1" r="2.00" fill="#e0c0d4"/>
<circle cx="475.4" cy="317.1" r="3.80" fill="#a2648a"/><circle cx="475.4" cy="317.1" r="2.00" fill="#e0c0d4"/>
<circle cx="479.5" cy="315.1" r="3.80" fill="#a2648a"/><circle cx="479.5" cy="315.1" r="2.00" fill="#e0c0d4"/>
<circle cx="488.2" cy="319.1" r="3.80" fill="#a2648a"/><circle cx="488.2" cy="319.1" r="2.00" fill="#e0c0d4"/>
<circle cx="466.7" cy="323.8" r="3.80" fill="#a2648a"/><circle cx="466.7" cy="323.8" r="2.00" fill="#e0c0d4"/>
<circle cx="480.8" cy="323.2" r="3.80" fill="#a2648a"/><circle cx="480.8" cy="323.2" r="2.00" fill="#e0c0d4"/>
<circle cx="488.9" cy="327.9" r="3.80" fill="#a2648a"/><circle cx="488.9" cy="327.9" r="2.00" fill="#e0c0d4"/>
<circle cx="496.3" cy="327.9" r="3.80" fill="#a2648a"/><circle cx="496.3" cy="327.9" r="2.00" fill="#e0c0d4"/>
<circle cx="457.2" cy="331.9" r="3.80" fill="#a2648a"/><circle cx="457.2" cy="331.9" r="2.00" fill="#e0c0d4"/>
<circle cx="462.6" cy="330.6" r="3.80" fill="#a2648a"/><circle cx="462.6" cy="330.6" r="2.00" fill="#e0c0d4"/>
<circle cx="468.7" cy="335.9" r="3.80" fill="#a2648a"/><circle cx="468.7" cy="335.9" r="2.00" fill="#e0c0d4"/>
<circle cx="496.3" cy="333.9" r="3.80" fill="#a2648a"/><circle cx="496.3" cy="333.9" r="2.00" fill="#e0c0d4"/>
<circle cx="479.5" cy="339.3" r="3.80" fill="#a2648a"/><circle cx="479.5" cy="339.3" r="2.00" fill="#e0c0d4"/>
<circle cx="443.1" cy="343.3" r="3.80" fill="#a2648a"/><circle cx="443.1" cy="343.3" r="2.00" fill="#e0c0d4"/>
<circle cx="472.7" cy="346.0" r="3.80" fill="#a2648a"/><circle cx="472.7" cy="346.0" r="2.00" fill="#e0c0d4"/>
<circle cx="487.5" cy="346.0" r="3.80" fill="#a2648a"/><circle cx="487.5" cy="346.0" r="2.00" fill="#e0c0d4"/>
<circle cx="499.0" cy="346.7" r="3.80" fill="#a2648a"/><circle cx="499.0" cy="346.7" r="2.00" fill="#e0c0d4"/>
<circle cx="437.7" cy="352.8" r="3.80" fill="#a2648a"/><circle cx="437.7" cy="352.8" r="2.00" fill="#e0c0d4"/>
<circle cx="445.1" cy="351.4" r="3.80" fill="#a2648a"/><circle cx="445.1" cy="351.4" r="2.00" fill="#e0c0d4"/>
<circle cx="476.1" cy="352.8" r="3.80" fill="#a2648a"/><circle cx="476.1" cy="352.8" r="2.00" fill="#e0c0d4"/>
<circle cx="484.2" cy="352.8" r="3.80" fill="#a2648a"/><circle cx="484.2" cy="352.8" r="2.00" fill="#e0c0d4"/>
<circle cx="492.2" cy="351.4" r="3.80" fill="#a2648a"/><circle cx="492.2" cy="351.4" r="2.00" fill="#e0c0d4"/>
<circle cx="432.3" cy="354.1" r="3.80" fill="#a2648a"/><circle cx="432.3" cy="354.1" r="2.00" fill="#e0c0d4"/>
<circle cx="448.5" cy="360.2" r="3.80" fill="#a2648a"/><circle cx="448.5" cy="360.2" r="2.00" fill="#e0c0d4"/>
<circle cx="459.3" cy="360.8" r="3.80" fill="#a2648a"/><circle cx="459.3" cy="360.8" r="2.00" fill="#e0c0d4"/>
<circle cx="482.8" cy="358.8" r="3.80" fill="#a2648a"/><circle cx="482.8" cy="358.8" r="2.00" fill="#e0c0d4"/>
<circle cx="435.0" cy="360.2" r="3.80" fill="#a2648a"/><circle cx="435.0" cy="360.2" r="2.00" fill="#e0c0d4"/>
<circle cx="474.1" cy="363.5" r="3.80" fill="#a2648a"/><circle cx="474.1" cy="363.5" r="2.00" fill="#e0c0d4"/>
<circle cx="497.6" cy="362.2" r="3.80" fill="#a2648a"/><circle cx="497.6" cy="362.2" r="2.00" fill="#e0c0d4"/>
<circle cx="466.0" cy="366.2" r="3.80" fill="#a2648a"/><circle cx="466.0" cy="366.2" r="2.00" fill="#e0c0d4"/>
<circle cx="366.4" cy="365.3" r="3.80" fill="#a2648a"/><circle cx="366.4" cy="365.3" r="2.00" fill="#e0c0d4"/>
<circle cx="375.8" cy="366.0" r="3.80" fill="#a2648a"/><circle cx="375.8" cy="366.0" r="2.00" fill="#e0c0d4"/>
<circle cx="384.5" cy="365.3" r="3.80" fill="#a2648a"/><circle cx="384.5" cy="365.3" r="2.00" fill="#e0c0d4"/>
<circle cx="402.0" cy="366.0" r="3.80" fill="#a2648a"/><circle cx="402.0" cy="366.0" r="2.00" fill="#e0c0d4"/>
<circle cx="367.0" cy="371.4" r="3.80" fill="#a2648a"/><circle cx="367.0" cy="371.4" r="2.00" fill="#e0c0d4"/>
<circle cx="393.3" cy="368.7" r="3.80" fill="#a2648a"/><circle cx="393.3" cy="368.7" r="2.00" fill="#e0c0d4"/>
<circle cx="416.8" cy="370.7" r="3.80" fill="#a2648a"/><circle cx="416.8" cy="370.7" r="2.00" fill="#e0c0d4"/>
<circle cx="365.0" cy="378.8" r="3.80" fill="#a2648a"/><circle cx="365.0" cy="378.8" r="2.00" fill="#e0c0d4"/>
<circle cx="387.2" cy="376.1" r="3.80" fill="#a2648a"/><circle cx="387.2" cy="376.1" r="2.00" fill="#e0c0d4"/>
<circle cx="401.4" cy="376.1" r="3.80" fill="#a2648a"/><circle cx="401.4" cy="376.1" r="2.00" fill="#e0c0d4"/>
<circle cx="424.9" cy="376.8" r="3.80" fill="#a2648a"/><circle cx="424.9" cy="376.8" r="2.00" fill="#e0c0d4"/>
<circle cx="394.0" cy="380.2" r="3.80" fill="#a2648a"/><circle cx="394.0" cy="380.2" r="2.00" fill="#e0c0d4"/>
<circle cx="407.4" cy="381.5" r="3.80" fill="#a2648a"/><circle cx="407.4" cy="381.5" r="2.00" fill="#e0c0d4"/>
<circle cx="383.2" cy="383.5" r="3.80" fill="#a2648a"/><circle cx="383.2" cy="383.5" r="2.00" fill="#e0c0d4"/>
<circle cx="368.4" cy="387.6" r="3.80" fill="#a2648a"/><circle cx="368.4" cy="387.6" r="2.00" fill="#e0c0d4"/>
<circle cx="413.5" cy="385.5" r="3.80" fill="#a2648a"/><circle cx="413.5" cy="385.5" r="2.00" fill="#e0c0d4"/>
<circle cx="430.3" cy="385.5" r="3.80" fill="#a2648a"/><circle cx="430.3" cy="385.5" r="2.00" fill="#e0c0d4"/>
<circle cx="394.0" cy="388.9" r="3.80" fill="#a2648a"/><circle cx="394.0" cy="388.9" r="2.00" fill="#e0c0d4"/>
<circle cx="387.2" cy="391.6" r="3.80" fill="#a2648a"/><circle cx="387.2" cy="391.6" r="2.00" fill="#e0c0d4"/>
<circle cx="378.5" cy="393.6" r="3.80" fill="#a2648a"/><circle cx="378.5" cy="393.6" r="2.00" fill="#e0c0d4"/>
<circle cx="403.4" cy="395.0" r="3.80" fill="#a2648a"/><circle cx="403.4" cy="395.0" r="2.00" fill="#e0c0d4"/>
<circle cx="411.5" cy="395.0" r="3.80" fill="#a2648a"/><circle cx="411.5" cy="395.0" r="2.00" fill="#e0c0d4"/>
<circle cx="424.2" cy="389.6" r="3.80" fill="#a2648a"/><circle cx="424.2" cy="389.6" r="2.00" fill="#e0c0d4"/>
<circle cx="430.3" cy="392.9" r="3.80" fill="#a2648a"/><circle cx="430.3" cy="392.9" r="2.00" fill="#e0c0d4"/>
<circle cx="392.6" cy="397.6" r="3.80" fill="#a2648a"/><circle cx="392.6" cy="397.6" r="2.00" fill="#e0c0d4"/>
<circle cx="371.7" cy="403.0" r="3.80" fill="#a2648a"/><circle cx="371.7" cy="403.0" r="2.00" fill="#e0c0d4"/>
<circle cx="384.5" cy="405.7" r="3.80" fill="#a2648a"/><circle cx="384.5" cy="405.7" r="2.00" fill="#e0c0d4"/>
<circle cx="396.6" cy="405.0" r="3.80" fill="#a2648a"/><circle cx="396.6" cy="405.0" r="2.00" fill="#e0c0d4"/>
<circle cx="404.7" cy="406.4" r="3.80" fill="#a2648a"/><circle cx="404.7" cy="406.4" r="2.00" fill="#e0c0d4"/>
<circle cx="410.8" cy="403.0" r="3.80" fill="#a2648a"/><circle cx="410.8" cy="403.0" r="2.00" fill="#e0c0d4"/>
<circle cx="422.2" cy="405.0" r="3.80" fill="#a2648a"/><circle cx="422.2" cy="405.0" r="2.00" fill="#e0c0d4"/>
<circle cx="430.3" cy="404.4" r="3.80" fill="#a2648a"/><circle cx="430.3" cy="404.4" r="2.00" fill="#e0c0d4"/>
<circle cx="369.7" cy="409.8" r="3.80" fill="#a2648a"/><circle cx="369.7" cy="409.8" r="2.00" fill="#e0c0d4"/>
<circle cx="377.8" cy="411.1" r="3.80" fill="#a2648a"/><circle cx="377.8" cy="411.1" r="2.00" fill="#e0c0d4"/>
<circle cx="391.9" cy="410.4" r="3.80" fill="#a2648a"/><circle cx="391.9" cy="410.4" r="2.00" fill="#e0c0d4"/>
<circle cx="400.7" cy="412.5" r="3.80" fill="#a2648a"/><circle cx="400.7" cy="412.5" r="2.00" fill="#e0c0d4"/>
<circle cx="409.4" cy="410.4" r="3.80" fill="#a2648a"/><circle cx="409.4" cy="410.4" r="2.00" fill="#e0c0d4"/>
<circle cx="417.5" cy="410.4" r="3.80" fill="#a2648a"/><circle cx="417.5" cy="410.4" r="2.00" fill="#e0c0d4"/>
<circle cx="427.6" cy="410.4" r="3.80" fill="#a2648a"/><circle cx="427.6" cy="410.4" r="2.00" fill="#e0c0d4"/>
<circle cx="383.2" cy="414.5" r="3.80" fill="#a2648a"/><circle cx="383.2" cy="414.5" r="2.00" fill="#e0c0d4"/>
<circle cx="370.4" cy="418.5" r="3.80" fill="#a2648a"/><circle cx="370.4" cy="418.5" r="2.00" fill="#e0c0d4"/>
<circle cx="395.3" cy="417.2" r="3.80" fill="#a2648a"/><circle cx="395.3" cy="417.2" r="2.00" fill="#e0c0d4"/>
<circle cx="404.7" cy="419.2" r="3.80" fill="#a2648a"/><circle cx="404.7" cy="419.2" r="2.00" fill="#e0c0d4"/>
<circle cx="413.5" cy="417.8" r="3.80" fill="#a2648a"/><circle cx="413.5" cy="417.8" r="2.00" fill="#e0c0d4"/>
<circle cx="423.6" cy="421.9" r="3.80" fill="#a2648a"/><circle cx="423.6" cy="421.9" r="2.00" fill="#e0c0d4"/>
<circle cx="379.2" cy="421.9" r="3.80" fill="#a2648a"/><circle cx="379.2" cy="421.9" r="2.00" fill="#e0c0d4"/>
<circle cx="435.0" cy="368.0" r="3.80" fill="#a2648a"/><circle cx="435.0" cy="368.0" r="2.00" fill="#e0c0d4"/>
<circle cx="441.1" cy="368.0" r="3.80" fill="#a2648a"/><circle cx="441.1" cy="368.0" r="2.00" fill="#e0c0d4"/>
<circle cx="467.3" cy="367.4" r="3.80" fill="#a2648a"/><circle cx="467.3" cy="367.4" r="2.00" fill="#e0c0d4"/>
<circle cx="475.4" cy="365.3" r="3.80" fill="#a2648a"/><circle cx="475.4" cy="365.3" r="2.00" fill="#e0c0d4"/>
<circle cx="495.6" cy="365.3" r="3.80" fill="#a2648a"/><circle cx="495.6" cy="365.3" r="2.00" fill="#e0c0d4"/>
<circle cx="436.4" cy="376.8" r="3.80" fill="#a2648a"/><circle cx="436.4" cy="376.8" r="2.00" fill="#e0c0d4"/>
<circle cx="451.2" cy="378.1" r="2.66" fill="#a2648a"/><circle cx="451.2" cy="378.1" r="1.40" fill="#e0c0d4"/>
<circle cx="457.9" cy="376.8" r="3.80" fill="#a2648a"/><circle cx="457.9" cy="376.8" r="2.00" fill="#e0c0d4"/>
<circle cx="466.7" cy="375.4" r="3.80" fill="#a2648a"/><circle cx="466.7" cy="375.4" r="2.00" fill="#e0c0d4"/>
<circle cx="478.1" cy="374.1" r="3.80" fill="#a2648a"/><circle cx="478.1" cy="374.1" r="2.00" fill="#e0c0d4"/>
<circle cx="485.5" cy="376.1" r="2.66" fill="#a2648a"/><circle cx="485.5" cy="376.1" r="1.40" fill="#e0c0d4"/>
<circle cx="496.9" cy="377.5" r="3.80" fill="#a2648a"/><circle cx="496.9" cy="377.5" r="2.00" fill="#e0c0d4"/>
<circle cx="432.3" cy="385.5" r="3.80" fill="#a2648a"/><circle cx="432.3" cy="385.5" r="2.00" fill="#e0c0d4"/>
<circle cx="438.4" cy="385.5" r="3.80" fill="#a2648a"/><circle cx="438.4" cy="385.5" r="2.00" fill="#e0c0d4"/>
<circle cx="464.6" cy="382.8" r="3.80" fill="#a2648a"/><circle cx="464.6" cy="382.8" r="2.00" fill="#e0c0d4"/>
<circle cx="472.7" cy="382.8" r="3.80" fill="#a2648a"/><circle cx="472.7" cy="382.8" r="2.00" fill="#e0c0d4"/>
<circle cx="492.9" cy="382.2" r="3.80" fill="#a2648a"/><circle cx="492.9" cy="382.2" r="2.00" fill="#e0c0d4"/>
<circle cx="459.3" cy="387.6" r="3.80" fill="#a2648a"/><circle cx="459.3" cy="387.6" r="2.00" fill="#e0c0d4"/>
<circle cx="467.3" cy="390.9" r="3.80" fill="#a2648a"/><circle cx="467.3" cy="390.9" r="2.00" fill="#e0c0d4"/>
<circle cx="433.0" cy="392.9" r="3.80" fill="#a2648a"/><circle cx="433.0" cy="392.9" r="2.00" fill="#e0c0d4"/>
<circle cx="466.7" cy="397.0" r="3.80" fill="#a2648a"/><circle cx="466.7" cy="397.0" r="2.00" fill="#e0c0d4"/>
<circle cx="494.3" cy="395.6" r="3.80" fill="#a2648a"/><circle cx="494.3" cy="395.6" r="2.00" fill="#e0c0d4"/>
<circle cx="442.4" cy="399.0" r="2.66" fill="#a2648a"/><circle cx="442.4" cy="399.0" r="1.40" fill="#e0c0d4"/>
<circle cx="453.2" cy="401.0" r="3.80" fill="#a2648a"/><circle cx="453.2" cy="401.0" r="2.00" fill="#e0c0d4"/>
<circle cx="432.3" cy="404.4" r="3.80" fill="#a2648a"/><circle cx="432.3" cy="404.4" r="2.00" fill="#e0c0d4"/>
<circle cx="467.3" cy="410.4" r="3.80" fill="#a2648a"/><circle cx="467.3" cy="410.4" r="2.00" fill="#e0c0d4"/>
<circle cx="435.0" cy="413.8" r="3.80" fill="#a2648a"/><circle cx="435.0" cy="413.8" r="2.00" fill="#e0c0d4"/>
<circle cx="488.9" cy="413.1" r="3.80" fill="#a2648a"/><circle cx="488.9" cy="413.1" r="2.00" fill="#e0c0d4"/>
<circle cx="496.9" cy="414.5" r="3.80" fill="#a2648a"/><circle cx="496.9" cy="414.5" r="2.00" fill="#e0c0d4"/>
<circle cx="444.5" cy="420.5" r="3.80" fill="#a2648a"/><circle cx="444.5" cy="420.5" r="2.00" fill="#e0c0d4"/>
<circle cx="452.5" cy="420.5" r="3.80" fill="#a2648a"/><circle cx="452.5" cy="420.5" r="2.00" fill="#e0c0d4"/>
<circle cx="459.9" cy="418.5" r="3.80" fill="#a2648a"/><circle cx="459.9" cy="418.5" r="2.00" fill="#e0c0d4"/>
<circle cx="498.3" cy="420.5" r="3.80" fill="#a2648a"/><circle cx="498.3" cy="420.5" r="2.00" fill="#e0c0d4"/>
<circle cx="480.8" cy="331.2" r="4.3" fill="#7a5a94"/><circle cx="480.8" cy="331.2" r="1.6" fill="#b7a3cf"/>
</g></svg>
<svg x="219" y="307.5" width="138" height="116" viewBox="219 307.5 138 116" overflow="hidden">
<rect x="219" y="307.5" width="138" height="116" fill="#e6e0ea"/>
<g filter="url(#soft)">
<ellipse cx="227.1" cy="309.0" rx="5.16" ry="5.16" fill="#dcc6dc" opacity="0.6"/>
<ellipse cx="262.1" cy="309.7" rx="5.57" ry="5.57" fill="#dcc6dc" opacity="0.6"/>
<ellipse cx="276.9" cy="309.7" rx="5.16" ry="5.16" fill="#dcc6dc" opacity="0.6"/>
<ellipse cx="230.4" cy="316.4" rx="5.84" ry="5.57" fill="#dcc6dc" opacity="0.6"/>
<ellipse cx="242.6" cy="320.5" rx="5.16" ry="5.16" fill="#dcc6dc" opacity="0.6"/>
<ellipse cx="237.8" cy="325.8" rx="6.51" ry="6.51" fill="#dcc6dc" opacity="0.6"/>
<ellipse cx="221.0" cy="325.2" rx="4.76" ry="4.76" fill="#dcc6dc" opacity="0.6"/>
<ellipse cx="245.2" cy="329.9" rx="4.76" ry="4.76" fill="#dcc6dc" opacity="0.6"/>
<ellipse cx="252.6" cy="327.9" rx="6.51" ry="6.11" fill="#dcc6dc" opacity="0.6"/>
<ellipse cx="264.8" cy="331.2" rx="7.18" ry="5.57" fill="#dcc6dc" opacity="0.6"/>
<ellipse cx="274.2" cy="322.5" rx="5.84" ry="5.84" fill="#dcc6dc" opacity="0.6"/>
<ellipse cx="280.2" cy="323.2" rx="4.49" ry="5.16" fill="#dcc6dc" opacity="0.6"/>
<ellipse cx="284.9" cy="320.5" rx="5.84" ry="5.84" fill="#dcc6dc" opacity="0.6"/>
<ellipse cx="286.3" cy="315.1" rx="4.49" ry="4.49" fill="#dcc6dc" opacity="0.6"/>
<ellipse cx="223.7" cy="335.3" rx="5.57" ry="5.57" fill="#dcc6dc" opacity="0.6"/>
<ellipse cx="235.8" cy="334.6" rx="5.57" ry="5.57" fill="#dcc6dc" opacity="0.6"/>
<ellipse cx="233.8" cy="340.0" rx="7.18" ry="5.16" fill="#dcc6dc" opacity="0.6"/>
<ellipse cx="260.0" cy="338.0" rx="5.57" ry="5.57" fill="#dcc6dc" opacity="0.6"/>
<ellipse cx="270.1" cy="342.0" rx="3.82" ry="3.82" fill="#dcc6dc" opacity="0.6"/>
<ellipse cx="276.9" cy="342.0" rx="6.51" ry="6.51" fill="#dcc6dc" opacity="0.6"/>
<ellipse cx="233.8" cy="348.0" rx="5.84" ry="5.84" fill="#dcc6dc" opacity="0.6"/>
<ellipse cx="237.2" cy="354.8" rx="5.16" ry="5.16" fill="#dcc6dc" opacity="0.6"/>
<ellipse cx="266.8" cy="349.4" rx="6.51" ry="6.51" fill="#dcc6dc" opacity="0.6"/>
<ellipse cx="286.3" cy="354.1" rx="5.16" ry="5.16" fill="#dcc6dc" opacity="0.6"/>
<ellipse cx="243.2" cy="362.9" rx="6.51" ry="6.51" fill="#dcc6dc" opacity="0.6"/>
<ellipse cx="264.8" cy="363.5" rx="5.84" ry="5.84" fill="#dcc6dc" opacity="0.6"/>
<ellipse cx="289.7" cy="312.4" rx="5.16" ry="5.16" fill="#dcc6dc" opacity="0.6"/>
<ellipse cx="299.8" cy="314.4" rx="5.84" ry="5.84" fill="#dcc6dc" opacity="0.6"/>
<ellipse cx="315.3" cy="311.7" rx="5.57" ry="5.57" fill="#dcc6dc" opacity="0.6"/>
<ellipse cx="327.4" cy="310.4" rx="5.84" ry="5.84" fill="#dcc6dc" opacity="0.6"/>
<ellipse cx="337.5" cy="313.7" rx="5.57" ry="5.57" fill="#dcc6dc" opacity="0.6"/>
<ellipse cx="332.8" cy="319.1" rx="5.57" ry="5.57" fill="#dcc6dc" opacity="0.6"/>
<ellipse cx="289.7" cy="321.8" rx="5.16" ry="5.16" fill="#dcc6dc" opacity="0.6"/>
<ellipse cx="319.3" cy="323.2" rx="7.86" ry="7.18" fill="#dcc6dc" opacity="0.6"/>
<ellipse cx="308.5" cy="329.2" rx="6.11" ry="6.11" fill="#dcc6dc" opacity="0.6"/>
<ellipse cx="315.9" cy="334.6" rx="5.84" ry="5.84" fill="#dcc6dc" opacity="0.6"/>
<ellipse cx="344.9" cy="328.5" rx="3.82" ry="3.82" fill="#dcc6dc" opacity="0.6"/>
<ellipse cx="321.3" cy="344.7" rx="6.24" ry="6.24" fill="#dcc6dc" opacity="0.6"/>
<ellipse cx="305.8" cy="346.0" rx="5.57" ry="5.57" fill="#dcc6dc" opacity="0.6"/>
<ellipse cx="334.1" cy="343.3" rx="5.84" ry="5.84" fill="#dcc6dc" opacity="0.6"/>
<ellipse cx="339.5" cy="346.0" rx="5.84" ry="5.84" fill="#dcc6dc" opacity="0.6"/>
<ellipse cx="330.7" cy="350.7" rx="5.84" ry="5.84" fill="#dcc6dc" opacity="0.6"/>
<ellipse cx="290.4" cy="353.4" rx="5.16" ry="5.16" fill="#dcc6dc" opacity="0.6"/>
<ellipse cx="303.2" cy="352.8" rx="5.16" ry="5.16" fill="#dcc6dc" opacity="0.6"/>
<ellipse cx="297.1" cy="357.5" rx="5.57" ry="5.57" fill="#dcc6dc" opacity="0.6"/>
<ellipse cx="314.6" cy="360.8" rx="6.51" ry="6.51" fill="#dcc6dc" opacity="0.6"/>
<ellipse cx="344.9" cy="356.8" rx="5.84" ry="5.84" fill="#dcc6dc" opacity="0.6"/>
<ellipse cx="351.6" cy="354.8" rx="5.57" ry="5.57" fill="#dcc6dc" opacity="0.6"/>
<ellipse cx="291.0" cy="363.5" rx="5.16" ry="5.16" fill="#dcc6dc" opacity="0.6"/>
<ellipse cx="335.5" cy="362.9" rx="5.57" ry="5.57" fill="#dcc6dc" opacity="0.6"/>
<ellipse cx="348.9" cy="363.5" rx="5.16" ry="5.16" fill="#dcc6dc" opacity="0.6"/>
<ellipse cx="242.6" cy="365.3" rx="5.84" ry="5.84" fill="#dcc6dc" opacity="0.6"/>
<ellipse cx="259.4" cy="368.7" rx="5.57" ry="5.57" fill="#dcc6dc" opacity="0.6"/>
<ellipse cx="268.8" cy="370.1" rx="6.51" ry="6.51" fill="#dcc6dc" opacity="0.6"/>
<ellipse cx="287.0" cy="372.1" rx="5.16" ry="5.16" fill="#dcc6dc" opacity="0.6"/>
<ellipse cx="239.9" cy="380.2" rx="5.84" ry="5.84" fill="#dcc6dc" opacity="0.6"/>
<ellipse cx="251.3" cy="380.2" rx="5.84" ry="5.84" fill="#dcc6dc" opacity="0.6"/>
<ellipse cx="274.2" cy="375.4" rx="5.84" ry="5.84" fill="#dcc6dc" opacity="0.6"/>
<ellipse cx="274.2" cy="383.5" rx="5.84" ry="5.84" fill="#dcc6dc" opacity="0.6"/>
<ellipse cx="283.6" cy="380.2" rx="5.16" ry="5.16" fill="#dcc6dc" opacity="0.6"/>
<ellipse cx="266.1" cy="388.9" rx="6.51" ry="6.51" fill="#dcc6dc" opacity="0.6"/>
<ellipse cx="278.2" cy="390.9" rx="5.16" ry="5.16" fill="#dcc6dc" opacity="0.6"/>
<ellipse cx="221.0" cy="396.3" rx="5.16" ry="5.16" fill="#dcc6dc" opacity="0.6"/>
<ellipse cx="229.1" cy="397.6" rx="6.11" ry="5.16" fill="#dcc6dc" opacity="0.6"/>
<ellipse cx="248.6" cy="396.3" rx="6.11" ry="6.11" fill="#dcc6dc" opacity="0.6"/>
<ellipse cx="264.1" cy="396.3" rx="5.84" ry="5.84" fill="#dcc6dc" opacity="0.6"/>
<ellipse cx="283.6" cy="394.3" rx="5.84" ry="5.84" fill="#dcc6dc" opacity="0.6"/>
<ellipse cx="229.8" cy="408.4" rx="6.91" ry="5.84" fill="#dcc6dc" opacity="0.6"/>
<ellipse cx="240.5" cy="409.8" rx="5.84" ry="5.84" fill="#dcc6dc" opacity="0.6"/>
<ellipse cx="251.3" cy="409.8" rx="6.51" ry="6.51" fill="#dcc6dc" opacity="0.6"/>
<ellipse cx="266.1" cy="407.7" rx="4.49" ry="4.49" fill="#dcc6dc" opacity="0.6"/>
<ellipse cx="283.6" cy="410.4" rx="6.51" ry="5.84" fill="#dcc6dc" opacity="0.6"/>
<ellipse cx="259.4" cy="416.5" rx="6.51" ry="6.51" fill="#dcc6dc" opacity="0.6"/>
<ellipse cx="237.8" cy="419.2" rx="5.57" ry="5.57" fill="#dcc6dc" opacity="0.6"/>
<ellipse cx="254.0" cy="416.5" rx="5.84" ry="5.84" fill="#dcc6dc" opacity="0.6"/>
<ellipse cx="292.4" cy="365.3" rx="5.16" ry="5.16" fill="#dcc6dc" opacity="0.6"/>
<ellipse cx="314.6" cy="365.3" rx="5.16" ry="5.16" fill="#dcc6dc" opacity="0.6"/>
<ellipse cx="336.8" cy="368.0" rx="5.84" ry="5.84" fill="#dcc6dc" opacity="0.6"/>
<ellipse cx="348.9" cy="366.0" rx="5.16" ry="5.16" fill="#dcc6dc" opacity="0.6"/>
<ellipse cx="289.7" cy="373.4" rx="5.84" ry="5.84" fill="#dcc6dc" opacity="0.6"/>
<ellipse cx="309.2" cy="371.4" rx="5.16" ry="5.16" fill="#dcc6dc" opacity="0.6"/>
<ellipse cx="326.0" cy="372.1" rx="7.18" ry="5.16" fill="#dcc6dc" opacity="0.6"/>
<ellipse cx="334.1" cy="376.8" rx="5.16" ry="5.16" fill="#dcc6dc" opacity="0.6"/>
<ellipse cx="349.6" cy="378.8" rx="6.51" ry="6.51" fill="#dcc6dc" opacity="0.6"/>
<ellipse cx="291.0" cy="380.2" rx="5.57" ry="5.57" fill="#dcc6dc" opacity="0.6"/>
<ellipse cx="291.0" cy="387.6" rx="5.84" ry="5.84" fill="#dcc6dc" opacity="0.6"/>
<ellipse cx="305.2" cy="382.8" rx="5.84" ry="5.84" fill="#dcc6dc" opacity="0.6"/>
<ellipse cx="299.8" cy="387.6" rx="4.22" ry="4.22" fill="#dcc6dc" opacity="0.6"/>
<ellipse cx="317.3" cy="386.2" rx="6.51" ry="6.51" fill="#dcc6dc" opacity="0.6"/>
<ellipse cx="338.8" cy="384.2" rx="6.51" ry="6.51" fill="#dcc6dc" opacity="0.6"/>
<ellipse cx="324.7" cy="391.6" rx="5.16" ry="5.16" fill="#dcc6dc" opacity="0.6"/>
<ellipse cx="332.8" cy="390.9" rx="5.57" ry="5.57" fill="#dcc6dc" opacity="0.6"/>
<ellipse cx="355.6" cy="390.9" rx="5.16" ry="5.16" fill="#dcc6dc" opacity="0.6"/>
<ellipse cx="311.9" cy="396.3" rx="4.22" ry="4.22" fill="#dcc6dc" opacity="0.6"/>
<ellipse cx="289.7" cy="397.6" rx="5.84" ry="5.84" fill="#dcc6dc" opacity="0.6"/>
<ellipse cx="324.7" cy="399.7" rx="5.57" ry="5.57" fill="#dcc6dc" opacity="0.6"/>
<ellipse cx="335.5" cy="398.3" rx="5.57" ry="5.57" fill="#dcc6dc" opacity="0.6"/>
<ellipse cx="349.6" cy="397.0" rx="5.84" ry="5.84" fill="#dcc6dc" opacity="0.6"/>
<ellipse cx="319.3" cy="407.1" rx="6.24" ry="6.24" fill="#dcc6dc" opacity="0.6"/>
<ellipse cx="308.5" cy="409.8" rx="4.76" ry="4.76" fill="#dcc6dc" opacity="0.6"/>
<ellipse cx="337.5" cy="408.4" rx="5.57" ry="5.57" fill="#dcc6dc" opacity="0.6"/>
<ellipse cx="347.6" cy="408.4" rx="5.57" ry="5.57" fill="#dcc6dc" opacity="0.6"/>
<ellipse cx="310.6" cy="415.8" rx="5.57" ry="5.57" fill="#dcc6dc" opacity="0.6"/>
<ellipse cx="317.3" cy="415.8" rx="5.16" ry="5.16" fill="#dcc6dc" opacity="0.6"/>
<ellipse cx="324.7" cy="418.5" rx="6.51" ry="6.51" fill="#dcc6dc" opacity="0.6"/>
<ellipse cx="342.2" cy="413.8" rx="5.57" ry="5.57" fill="#dcc6dc" opacity="0.6"/>
<ellipse cx="350.3" cy="417.2" rx="5.57" ry="5.57" fill="#dcc6dc" opacity="0.6"/>
<ellipse cx="354.3" cy="408.4" rx="5.57" ry="5.57" fill="#dcc6dc" opacity="0.6"/>
<ellipse cx="295.1" cy="419.2" rx="5.16" ry="5.16" fill="#dcc6dc" opacity="0.6"/>
<ellipse cx="227.1" cy="309.0" rx="3.36" ry="3.36" fill="#895274"/><ellipse cx="227.1" cy="309.0" rx="1.95" ry="1.95" fill="#b3879f"/>
<ellipse cx="262.1" cy="309.7" rx="3.77" ry="3.77" fill="#895274"/><ellipse cx="262.1" cy="309.7" rx="2.19" ry="2.19" fill="#b3879f"/>
<ellipse cx="276.9" cy="309.7" rx="3.36" ry="3.36" fill="#895274"/><ellipse cx="276.9" cy="309.7" rx="1.95" ry="1.95" fill="#b3879f"/>
<ellipse cx="230.4" cy="316.4" rx="4.04" ry="3.77" fill="#895274"/><ellipse cx="230.4" cy="316.4" rx="2.34" ry="2.19" fill="#b3879f"/>
<ellipse cx="242.6" cy="320.5" rx="3.36" ry="3.36" fill="#895274"/><ellipse cx="242.6" cy="320.5" rx="1.95" ry="1.95" fill="#b3879f"/>
<ellipse cx="237.8" cy="325.8" rx="4.71" ry="4.71" fill="#895274"/><ellipse cx="237.8" cy="325.8" rx="2.73" ry="2.73" fill="#b3879f"/>
<ellipse cx="221.0" cy="325.2" rx="2.96" ry="2.96" fill="#895274"/><ellipse cx="221.0" cy="325.2" rx="1.72" ry="1.72" fill="#b3879f"/>
<ellipse cx="245.2" cy="329.9" rx="2.96" ry="2.96" fill="#895274"/><ellipse cx="245.2" cy="329.9" rx="1.72" ry="1.72" fill="#b3879f"/>
<ellipse cx="252.6" cy="327.9" rx="4.71" ry="4.31" fill="#895274"/><ellipse cx="252.6" cy="327.9" rx="2.92" ry="2.67" fill="#dcc4d0"/><ellipse cx="252.6" cy="327.9" rx="1.18" ry="1.08" fill="#a87486"/>
<ellipse cx="264.8" cy="331.2" rx="5.38" ry="3.77" fill="#765896"/><ellipse cx="264.8" cy="331.2" rx="3.23" ry="2.26" fill="#82669e"/>
<ellipse cx="274.2" cy="322.5" rx="4.04" ry="4.04" fill="#895274"/><ellipse cx="274.2" cy="322.5" rx="2.34" ry="2.34" fill="#b3879f"/>
<ellipse cx="280.2" cy="323.2" rx="2.69" ry="3.36" fill="#895274"/><ellipse cx="280.2" cy="323.2" rx="1.56" ry="1.95" fill="#b3879f"/>
<ellipse cx="284.9" cy="320.5" rx="4.04" ry="4.04" fill="#895274"/><ellipse cx="284.9" cy="320.5" rx="2.34" ry="2.34" fill="#b3879f"/>
<ellipse cx="286.3" cy="315.1" rx="2.69" ry="2.69" fill="#895274"/><ellipse cx="286.3" cy="315.1" rx="1.56" ry="1.56" fill="#b3879f"/>
<ellipse cx="223.7" cy="335.3" rx="3.77" ry="3.77" fill="#895274"/><ellipse cx="223.7" cy="335.3" rx="2.19" ry="2.19" fill="#b3879f"/>
<ellipse cx="235.8" cy="334.6" rx="3.77" ry="3.77" fill="#895274"/><ellipse cx="235.8" cy="334.6" rx="2.19" ry="2.19" fill="#b3879f"/>
<ellipse cx="233.8" cy="340.0" rx="5.38" ry="3.36" fill="#765896"/><ellipse cx="233.8" cy="340.0" rx="3.23" ry="2.02" fill="#82669e"/>
<ellipse cx="228.4" cy="339.3" rx="0.97" ry="0.97" fill="#7a5aa8" opacity="0.55"/>
<circle cx="229.0" cy="338.9" r="0.84" fill="#4c2a84"/>
<ellipse cx="260.0" cy="338.0" rx="3.77" ry="3.77" fill="#895274"/><ellipse cx="260.0" cy="338.0" rx="2.19" ry="2.19" fill="#b3879f"/>
<ellipse cx="270.1" cy="342.0" rx="2.02" ry="2.02" fill="#895274"/><ellipse cx="270.1" cy="342.0" rx="1.17" ry="1.17" fill="#b3879f"/>
<ellipse cx="276.9" cy="342.0" rx="4.71" ry="4.71" fill="#765896"/><ellipse cx="276.9" cy="342.0" rx="2.83" ry="2.83" fill="#82669e"/>
<ellipse cx="233.8" cy="348.0" rx="4.04" ry="4.04" fill="#895274"/><ellipse cx="233.8" cy="348.0" rx="2.34" ry="2.34" fill="#b3879f"/>
<ellipse cx="237.2" cy="354.8" rx="3.36" ry="3.36" fill="#895274"/><ellipse cx="237.2" cy="354.8" rx="1.95" ry="1.95" fill="#b3879f"/>
<ellipse cx="266.8" cy="349.4" rx="4.71" ry="4.71" fill="#765896"/><ellipse cx="266.8" cy="349.4" rx="2.83" ry="2.83" fill="#82669e"/>
<ellipse cx="286.3" cy="354.1" rx="3.36" ry="3.36" fill="#895274"/><ellipse cx="286.3" cy="354.1" rx="1.95" ry="1.95" fill="#b3879f"/>
<ellipse cx="282.3" cy="358.1" rx="0.97" ry="0.73" fill="#7a5aa8" opacity="0.55"/>
<circle cx="282.5" cy="358.0" r="0.62" fill="#4c2a84"/>
<ellipse cx="243.2" cy="362.9" rx="4.71" ry="4.71" fill="#895274"/><ellipse cx="243.2" cy="362.9" rx="2.73" ry="2.73" fill="#b3879f"/>
<ellipse cx="264.8" cy="363.5" rx="4.04" ry="4.04" fill="#895274"/><ellipse cx="264.8" cy="363.5" rx="2.34" ry="2.34" fill="#b3879f"/>
<ellipse cx="289.7" cy="312.4" rx="3.36" ry="3.36" fill="#895274"/><ellipse cx="289.7" cy="312.4" rx="1.95" ry="1.95" fill="#b3879f"/>
<ellipse cx="299.8" cy="314.4" rx="4.04" ry="4.04" fill="#895274"/><ellipse cx="299.8" cy="314.4" rx="2.34" ry="2.34" fill="#b3879f"/>
<ellipse cx="315.3" cy="311.7" rx="3.77" ry="3.77" fill="#895274"/><ellipse cx="315.3" cy="311.7" rx="2.19" ry="2.19" fill="#b3879f"/>
<ellipse cx="327.4" cy="310.4" rx="4.04" ry="4.04" fill="#895274"/><ellipse cx="327.4" cy="310.4" rx="2.34" ry="2.34" fill="#b3879f"/>
<ellipse cx="337.5" cy="313.7" rx="3.77" ry="3.77" fill="#895274"/><ellipse cx="337.5" cy="313.7" rx="2.19" ry="2.19" fill="#b3879f"/>
<ellipse cx="332.8" cy="319.1" rx="3.77" ry="3.77" fill="#895274"/><ellipse cx="332.8" cy="319.1" rx="2.19" ry="2.19" fill="#b3879f"/>
<ellipse cx="344.9" cy="311.7" rx="3.36" ry="3.36" fill="#2a1d5e"/>
<ellipse cx="289.7" cy="321.8" rx="3.36" ry="3.36" fill="#895274"/><ellipse cx="289.7" cy="321.8" rx="1.95" ry="1.95" fill="#b3879f"/>
<ellipse cx="319.3" cy="323.2" rx="6.06" ry="5.38" fill="#895274"/><ellipse cx="319.3" cy="323.2" rx="3.51" ry="3.12" fill="#b3879f"/>
<ellipse cx="308.5" cy="329.2" rx="4.31" ry="4.31" fill="#895274"/><ellipse cx="308.5" cy="329.2" rx="2.50" ry="2.50" fill="#b3879f"/>
<ellipse cx="315.9" cy="334.6" rx="4.04" ry="4.04" fill="#895274"/><ellipse cx="315.9" cy="334.6" rx="2.34" ry="2.34" fill="#b3879f"/>
<ellipse cx="344.9" cy="328.5" rx="2.02" ry="2.02" fill="#895274"/><ellipse cx="344.9" cy="328.5" rx="1.17" ry="1.17" fill="#b3879f"/>
<ellipse cx="304.5" cy="339.3" rx="3.63" ry="1.82" fill="#7a5aa8" opacity="0.55"/>
<circle cx="301.9" cy="338.2" r="0.84" fill="#4c2a84"/>
<circle cx="304.1" cy="339.7" r="0.88" fill="#4c2a84"/>
<circle cx="307.3" cy="339.7" r="0.82" fill="#4c2a84"/>
<circle cx="304.0" cy="339.5" r="0.71" fill="#4c2a84"/>
<circle cx="306.8" cy="338.2" r="0.84" fill="#4c2a84"/>
<circle cx="306.7" cy="340.4" r="0.93" fill="#4c2a84"/>
<circle cx="303.3" cy="337.8" r="0.72" fill="#4c2a84"/>
<circle cx="306.5" cy="338.2" r="1.04" fill="#4c2a84"/>
<circle cx="307.2" cy="340.2" r="0.72" fill="#4c2a84"/>
<circle cx="302.4" cy="339.5" r="0.93" fill="#4c2a84"/>
<circle cx="301.4" cy="338.0" r="0.63" fill="#4c2a84"/>
<ellipse cx="338.1" cy="335.9" rx="3.63" ry="2.42" fill="#7a5aa8" opacity="0.55"/>
<circle cx="337.5" cy="334.0" r="0.93" fill="#4c2a84"/>
<circle cx="337.9" cy="337.0" r="0.94" fill="#4c2a84"/>
<circle cx="341.0" cy="335.7" r="1.04" fill="#4c2a84"/>
<circle cx="335.7" cy="334.4" r="0.63" fill="#4c2a84"/>
<circle cx="339.8" cy="336.6" r="1.03" fill="#4c2a84"/>
<circle cx="336.6" cy="335.9" r="0.96" fill="#4c2a84"/>
<circle cx="341.3" cy="335.4" r="0.97" fill="#4c2a84"/>
<circle cx="336.6" cy="335.4" r="0.89" fill="#4c2a84"/>
<circle cx="337.0" cy="334.2" r="0.96" fill="#4c2a84"/>
<circle cx="339.5" cy="335.8" r="1.04" fill="#4c2a84"/>
<circle cx="336.6" cy="337.0" r="0.67" fill="#4c2a84"/>
<circle cx="341.2" cy="337.5" r="0.91" fill="#4c2a84"/>
<circle cx="335.0" cy="337.9" r="0.69" fill="#4c2a84"/>
<circle cx="337.0" cy="337.0" r="0.96" fill="#4c2a84"/>
<circle cx="340.3" cy="336.4" r="0.66" fill="#4c2a84"/>
<ellipse cx="321.3" cy="344.7" rx="4.44" ry="4.44" fill="#895274"/><ellipse cx="321.3" cy="344.7" rx="2.75" ry="2.75" fill="#dcc4d0"/><ellipse cx="321.3" cy="344.7" rx="1.11" ry="1.11" fill="#a87486"/>
<ellipse cx="305.8" cy="346.0" rx="3.77" ry="3.77" fill="#895274"/><ellipse cx="305.8" cy="346.0" rx="2.19" ry="2.19" fill="#b3879f"/>
<ellipse cx="334.1" cy="343.3" rx="4.04" ry="4.04" fill="#895274"/><ellipse cx="334.1" cy="343.3" rx="2.34" ry="2.34" fill="#b3879f"/>
<ellipse cx="339.5" cy="346.0" rx="4.04" ry="4.04" fill="#895274"/><ellipse cx="339.5" cy="346.0" rx="2.34" ry="2.34" fill="#b3879f"/>
<ellipse cx="330.7" cy="350.7" rx="4.04" ry="4.04" fill="#765896"/><ellipse cx="330.7" cy="350.7" rx="2.42" ry="2.42" fill="#82669e"/>
<ellipse cx="290.4" cy="353.4" rx="3.36" ry="3.36" fill="#895274"/><ellipse cx="290.4" cy="353.4" rx="1.95" ry="1.95" fill="#b3879f"/>
<ellipse cx="303.2" cy="352.8" rx="3.36" ry="3.36" fill="#895274"/><ellipse cx="303.2" cy="352.8" rx="1.95" ry="1.95" fill="#b3879f"/>
<ellipse cx="297.1" cy="357.5" rx="3.77" ry="3.77" fill="#895274"/><ellipse cx="297.1" cy="357.5" rx="2.19" ry="2.19" fill="#b3879f"/>
<ellipse cx="314.6" cy="360.8" rx="4.71" ry="4.71" fill="#765896"/><ellipse cx="314.6" cy="360.8" rx="2.83" ry="2.83" fill="#82669e"/>
<ellipse cx="344.9" cy="356.8" rx="4.04" ry="4.04" fill="#895274"/><ellipse cx="344.9" cy="356.8" rx="2.34" ry="2.34" fill="#b3879f"/>
<ellipse cx="351.6" cy="354.8" rx="3.77" ry="3.77" fill="#895274"/><ellipse cx="351.6" cy="354.8" rx="2.19" ry="2.19" fill="#b3879f"/>
<ellipse cx="291.0" cy="363.5" rx="3.36" ry="3.36" fill="#895274"/><ellipse cx="291.0" cy="363.5" rx="1.95" ry="1.95" fill="#b3879f"/>
<ellipse cx="335.5" cy="362.9" rx="3.77" ry="3.77" fill="#895274"/><ellipse cx="335.5" cy="362.9" rx="2.19" ry="2.19" fill="#b3879f"/>
<ellipse cx="348.9" cy="363.5" rx="3.36" ry="3.36" fill="#895274"/><ellipse cx="348.9" cy="363.5" rx="1.95" ry="1.95" fill="#b3879f"/>
<ellipse cx="292.4" cy="340.6" rx="0.73" ry="0.73" fill="#7a5aa8" opacity="0.55"/>
<circle cx="292.6" cy="340.2" r="0.61" fill="#4c2a84"/>
<ellipse cx="242.6" cy="365.3" rx="4.04" ry="4.04" fill="#895274"/><ellipse cx="242.6" cy="365.3" rx="2.34" ry="2.34" fill="#b3879f"/>
<ellipse cx="259.4" cy="368.7" rx="3.77" ry="3.77" fill="#895274"/><ellipse cx="259.4" cy="368.7" rx="2.19" ry="2.19" fill="#b3879f"/>
<ellipse cx="268.8" cy="370.1" rx="4.71" ry="4.71" fill="#895274"/><ellipse cx="268.8" cy="370.1" rx="2.73" ry="2.73" fill="#b3879f"/>
<ellipse cx="253.3" cy="371.4" rx="1.82" ry="1.82" fill="#7a5aa8" opacity="0.55"/>
<circle cx="254.0" cy="371.0" r="0.64" fill="#4c2a84"/>
<circle cx="252.7" cy="371.6" r="0.82" fill="#4c2a84"/>
<circle cx="254.8" cy="372.9" r="0.97" fill="#4c2a84"/>
<circle cx="253.0" cy="371.2" r="0.88" fill="#4c2a84"/>
<circle cx="253.3" cy="370.9" r="0.79" fill="#4c2a84"/>
<ellipse cx="287.0" cy="372.1" rx="3.36" ry="3.36" fill="#765896"/><ellipse cx="287.0" cy="372.1" rx="2.02" ry="2.02" fill="#82669e"/>
<ellipse cx="239.9" cy="380.2" rx="4.04" ry="4.04" fill="#895274"/><ellipse cx="239.9" cy="380.2" rx="2.34" ry="2.34" fill="#b3879f"/>
<ellipse cx="251.3" cy="380.2" rx="4.04" ry="4.04" fill="#895274"/><ellipse cx="251.3" cy="380.2" rx="2.34" ry="2.34" fill="#b3879f"/>
<ellipse cx="274.2" cy="375.4" rx="4.04" ry="4.04" fill="#895274"/><ellipse cx="274.2" cy="375.4" rx="2.34" ry="2.34" fill="#b3879f"/>
<ellipse cx="274.2" cy="383.5" rx="4.04" ry="4.04" fill="#895274"/><ellipse cx="274.2" cy="383.5" rx="2.34" ry="2.34" fill="#b3879f"/>
<ellipse cx="283.6" cy="380.2" rx="3.36" ry="3.36" fill="#895274"/><ellipse cx="283.6" cy="380.2" rx="1.95" ry="1.95" fill="#b3879f"/>
<ellipse cx="266.8" cy="378.8" rx="0.97" ry="0.97" fill="#7a5aa8" opacity="0.55"/>
<circle cx="266.0" cy="379.5" r="0.92" fill="#4c2a84"/>
<ellipse cx="266.1" cy="388.9" rx="4.71" ry="4.71" fill="#b58fb0"/>
<ellipse cx="278.2" cy="390.9" rx="3.36" ry="3.36" fill="#895274"/><ellipse cx="278.2" cy="390.9" rx="1.95" ry="1.95" fill="#b3879f"/>
<ellipse cx="221.0" cy="396.3" rx="3.36" ry="3.36" fill="#895274"/><ellipse cx="221.0" cy="396.3" rx="1.95" ry="1.95" fill="#b3879f"/>
<ellipse cx="229.1" cy="397.6" rx="4.31" ry="3.36" fill="#895274"/><ellipse cx="229.1" cy="397.6" rx="2.50" ry="1.95" fill="#b3879f"/>
<ellipse cx="236.5" cy="396.3" rx="0.97" ry="0.97" fill="#7a5aa8" opacity="0.55"/>
<circle cx="235.9" cy="395.9" r="1.00" fill="#4c2a84"/>
<ellipse cx="248.6" cy="396.3" rx="4.31" ry="4.31" fill="#765896"/><ellipse cx="248.6" cy="396.3" rx="2.58" ry="2.58" fill="#82669e"/>
<ellipse cx="264.1" cy="396.3" rx="4.04" ry="4.04" fill="#895274"/><ellipse cx="264.1" cy="396.3" rx="2.34" ry="2.34" fill="#b3879f"/>
<ellipse cx="283.6" cy="394.3" rx="4.04" ry="4.04" fill="#895274"/><ellipse cx="283.6" cy="394.3" rx="2.34" ry="2.34" fill="#b3879f"/>
<ellipse cx="260.7" cy="388.9" rx="0.97" ry="0.97" fill="#7a5aa8" opacity="0.55"/>
<circle cx="261.5" cy="388.2" r="0.74" fill="#4c2a84"/>
<ellipse cx="229.8" cy="408.4" rx="5.11" ry="4.04" fill="#765896"/><ellipse cx="229.8" cy="408.4" rx="3.07" ry="2.42" fill="#82669e"/>
<ellipse cx="240.5" cy="409.8" rx="4.04" ry="4.04" fill="#765896"/><ellipse cx="240.5" cy="409.8" rx="2.42" ry="2.42" fill="#82669e"/>
<ellipse cx="251.3" cy="409.8" rx="4.71" ry="4.71" fill="#765896"/><ellipse cx="251.3" cy="409.8" rx="2.83" ry="2.83" fill="#82669e"/>
<ellipse cx="266.1" cy="407.7" rx="2.69" ry="2.69" fill="#895274"/><ellipse cx="266.1" cy="407.7" rx="1.56" ry="1.56" fill="#b3879f"/>
<ellipse cx="283.6" cy="410.4" rx="4.71" ry="4.04" fill="#b58fb0"/>
<ellipse cx="259.4" cy="416.5" rx="4.71" ry="4.71" fill="#895274"/><ellipse cx="259.4" cy="416.5" rx="2.73" ry="2.73" fill="#b3879f"/>
<ellipse cx="237.8" cy="419.2" rx="3.77" ry="3.77" fill="#895274"/><ellipse cx="237.8" cy="419.2" rx="2.19" ry="2.19" fill="#b3879f"/>
<ellipse cx="254.0" cy="416.5" rx="4.04" ry="4.04" fill="#895274"/><ellipse cx="254.0" cy="416.5" rx="2.34" ry="2.34" fill="#b3879f"/>
<ellipse cx="220.3" cy="388.9" rx="0.73" ry="0.73" fill="#7a5aa8" opacity="0.55"/>
<circle cx="220.9" cy="388.7" r="0.64" fill="#4c2a84"/>
<ellipse cx="292.4" cy="365.3" rx="3.36" ry="3.36" fill="#895274"/><ellipse cx="292.4" cy="365.3" rx="1.95" ry="1.95" fill="#b3879f"/>
<ellipse cx="314.6" cy="365.3" rx="3.36" ry="3.36" fill="#765896"/><ellipse cx="314.6" cy="365.3" rx="2.02" ry="2.02" fill="#82669e"/>
<ellipse cx="336.8" cy="368.0" rx="4.04" ry="4.04" fill="#895274"/><ellipse cx="336.8" cy="368.0" rx="2.34" ry="2.34" fill="#b3879f"/>
<ellipse cx="348.9" cy="366.0" rx="3.36" ry="3.36" fill="#895274"/><ellipse cx="348.9" cy="366.0" rx="1.95" ry="1.95" fill="#b3879f"/>
<ellipse cx="289.7" cy="373.4" rx="4.04" ry="4.04" fill="#765896"/><ellipse cx="289.7" cy="373.4" rx="2.42" ry="2.42" fill="#82669e"/>
<ellipse cx="309.2" cy="371.4" rx="3.36" ry="3.36" fill="#895274"/><ellipse cx="309.2" cy="371.4" rx="1.95" ry="1.95" fill="#b3879f"/>
<ellipse cx="311.2" cy="373.4" rx="0.97" ry="0.97" fill="#7a5aa8" opacity="0.55"/>
<circle cx="310.4" cy="373.1" r="0.69" fill="#4c2a84"/>
<ellipse cx="326.0" cy="372.1" rx="5.38" ry="3.36" fill="#895274"/><ellipse cx="326.0" cy="372.1" rx="3.12" ry="1.95" fill="#b3879f"/>
<ellipse cx="334.1" cy="376.8" rx="3.36" ry="3.36" fill="#895274"/><ellipse cx="334.1" cy="376.8" rx="1.95" ry="1.95" fill="#b3879f"/>
<ellipse cx="349.6" cy="378.8" rx="4.71" ry="4.71" fill="#895274"/><ellipse cx="349.6" cy="378.8" rx="2.73" ry="2.73" fill="#b3879f"/>
<ellipse cx="291.0" cy="380.2" rx="3.77" ry="3.77" fill="#895274"/><ellipse cx="291.0" cy="380.2" rx="2.19" ry="2.19" fill="#b3879f"/>
<ellipse cx="291.0" cy="387.6" rx="4.04" ry="4.04" fill="#895274"/><ellipse cx="291.0" cy="387.6" rx="2.34" ry="2.34" fill="#b3879f"/>
<ellipse cx="305.2" cy="382.8" rx="4.04" ry="4.04" fill="#895274"/><ellipse cx="305.2" cy="382.8" rx="2.34" ry="2.34" fill="#b3879f"/>
<ellipse cx="299.8" cy="387.6" rx="2.42" ry="2.42" fill="#895274"/><ellipse cx="299.8" cy="387.6" rx="1.41" ry="1.41" fill="#b3879f"/>
<ellipse cx="317.3" cy="386.2" rx="4.71" ry="4.71" fill="#765896"/><ellipse cx="317.3" cy="386.2" rx="2.83" ry="2.83" fill="#82669e"/>
<ellipse cx="328.7" cy="385.5" rx="1.21" ry="0.97" fill="#7a5aa8" opacity="0.55"/>
<circle cx="327.9" cy="385.1" r="1.02" fill="#4c2a84"/>
<circle cx="328.4" cy="385.8" r="0.73" fill="#4c2a84"/>
<ellipse cx="338.8" cy="384.2" rx="4.71" ry="4.71" fill="#895274"/><ellipse cx="338.8" cy="384.2" rx="2.73" ry="2.73" fill="#b3879f"/>
<ellipse cx="324.7" cy="391.6" rx="3.36" ry="3.36" fill="#895274"/><ellipse cx="324.7" cy="391.6" rx="1.95" ry="1.95" fill="#b3879f"/>
<ellipse cx="332.8" cy="390.9" rx="3.77" ry="3.77" fill="#895274"/><ellipse cx="332.8" cy="390.9" rx="2.19" ry="2.19" fill="#b3879f"/>
<ellipse cx="355.6" cy="390.9" rx="3.36" ry="3.36" fill="#895274"/><ellipse cx="355.6" cy="390.9" rx="1.95" ry="1.95" fill="#b3879f"/>
<ellipse cx="311.9" cy="396.3" rx="2.42" ry="2.42" fill="#895274"/><ellipse cx="311.9" cy="396.3" rx="1.41" ry="1.41" fill="#b3879f"/>
<ellipse cx="289.7" cy="397.6" rx="4.04" ry="4.04" fill="#895274"/><ellipse cx="289.7" cy="397.6" rx="2.34" ry="2.34" fill="#b3879f"/>
<ellipse cx="324.7" cy="399.7" rx="3.77" ry="3.77" fill="#895274"/><ellipse cx="324.7" cy="399.7" rx="2.19" ry="2.19" fill="#b3879f"/>
<ellipse cx="335.5" cy="398.3" rx="3.77" ry="3.77" fill="#895274"/><ellipse cx="335.5" cy="398.3" rx="2.19" ry="2.19" fill="#b3879f"/>
<ellipse cx="349.6" cy="397.0" rx="4.04" ry="4.04" fill="#895274"/><ellipse cx="349.6" cy="397.0" rx="2.34" ry="2.34" fill="#b3879f"/>
<ellipse cx="319.3" cy="407.1" rx="4.44" ry="4.44" fill="#765896"/><ellipse cx="319.3" cy="407.1" rx="2.66" ry="2.66" fill="#82669e"/>
<ellipse cx="308.5" cy="409.8" rx="2.96" ry="2.96" fill="#895274"/><ellipse cx="308.5" cy="409.8" rx="1.84" ry="1.84" fill="#dcc4d0"/><ellipse cx="308.5" cy="409.8" rx="0.74" ry="0.74" fill="#a87486"/>
<ellipse cx="337.5" cy="408.4" rx="3.77" ry="3.77" fill="#895274"/><ellipse cx="337.5" cy="408.4" rx="2.34" ry="2.34" fill="#dcc4d0"/><ellipse cx="337.5" cy="408.4" rx="0.94" ry="0.94" fill="#a87486"/>
<ellipse cx="347.6" cy="408.4" rx="3.77" ry="3.77" fill="#895274"/><ellipse cx="347.6" cy="408.4" rx="2.34" ry="2.34" fill="#dcc4d0"/><ellipse cx="347.6" cy="408.4" rx="0.94" ry="0.94" fill="#a87486"/>
<ellipse cx="310.6" cy="415.8" rx="3.77" ry="3.77" fill="#895274"/><ellipse cx="310.6" cy="415.8" rx="2.19" ry="2.19" fill="#b3879f"/>
<ellipse cx="317.3" cy="415.8" rx="3.36" ry="3.36" fill="#895274"/><ellipse cx="317.3" cy="415.8" rx="1.95" ry="1.95" fill="#b3879f"/>
<ellipse cx="324.7" cy="418.5" rx="4.71" ry="4.71" fill="#895274"/><ellipse cx="324.7" cy="418.5" rx="2.73" ry="2.73" fill="#b3879f"/>
<ellipse cx="342.2" cy="413.8" rx="3.77" ry="3.77" fill="#895274"/><ellipse cx="342.2" cy="413.8" rx="2.34" ry="2.34" fill="#dcc4d0"/><ellipse cx="342.2" cy="413.8" rx="0.94" ry="0.94" fill="#a87486"/>
<ellipse cx="350.3" cy="417.2" rx="3.77" ry="3.77" fill="#895274"/><ellipse cx="350.3" cy="417.2" rx="2.19" ry="2.19" fill="#b3879f"/>
<ellipse cx="354.3" cy="408.4" rx="3.77" ry="3.77" fill="#895274"/><ellipse cx="354.3" cy="408.4" rx="2.19" ry="2.19" fill="#b3879f"/>
<ellipse cx="295.1" cy="419.2" rx="3.36" ry="3.36" fill="#895274"/><ellipse cx="295.1" cy="419.2" rx="1.95" ry="1.95" fill="#b3879f"/>
</g></svg>
<line x1="341.00" y1="285.30" x2="353.00" y2="285.30" stroke="#111" stroke-width="1.5" />
<line x1="486.90" y1="285.30" x2="498.30" y2="285.30" stroke="#111" stroke-width="1.5" />
<line x1="342.20" y1="421.60" x2="355.00" y2="421.60" stroke="#111" stroke-width="1.5" />
<line x1="485.50" y1="421.60" x2="497.60" y2="421.60" stroke="#111" stroke-width="1.5" />
<text x="219.6" y="166.3" font-size="8.2" font-style="italic" fill="#231f20">Hbb<tspan font-size="6.0" dy="-3.3" dx="0.3">+/+</tspan><tspan dy="3.3" dx="1.1">miR</tspan><tspan font-size="6.0" dy="-3.3">+/+</tspan></text>
<text x="363.8" y="166.3" font-size="8.2" font-style="italic" fill="#231f20">Hbb<tspan font-size="6.0" dy="-3.3" dx="0.3">+/+</tspan><tspan dy="3.3" dx="1.1">miR</tspan><tspan font-size="6.0" dy="-3.3">&#8211;/&#8211;</tspan></text>
<text x="219.6" y="302.3" font-size="8.2" font-style="italic" fill="#231f20">Hbb<tspan font-size="6.0" dy="-3.3" dx="0.3">th3/+</tspan><tspan dy="3.3" dx="1.1">miR</tspan><tspan font-size="6.0" dy="-3.3">+/+</tspan></text>
<text x="363.8" y="302.3" font-size="8.2" font-style="italic" fill="#231f20">Hbb<tspan font-size="6.0" dy="-3.3" dx="0.3">th3/+</tspan><tspan dy="3.3" dx="1.1">miR</tspan><tspan font-size="6.0" dy="-3.3">&#8211;/&#8211;</tspan></text>
<rect x="132.7" y="463" width="107.3" height="81.6" fill="#25438f"/>
<filter id="sps" x="-10%" y="-10%" width="120%" height="120%"><feGaussianBlur stdDeviation="0.5"/></filter>
<g filter="url(#sps)">
<defs><radialGradient id="spg1" cx="0.55" cy="0.45" r="0.6"><stop offset="0" stop-color="#721e18"/><stop offset="0.7" stop-color="#5a1511"/><stop offset="1" stop-color="#3a0a0a"/></radialGradient><radialGradient id="spg3" cx="0.45" cy="0.35" r="0.65"><stop offset="0" stop-color="#4a0f0e"/><stop offset="0.7" stop-color="#360909"/><stop offset="1" stop-color="#250606"/></radialGradient></defs>
<path d="M141.00 489.60C141.95 489.60 143.35 489.32 144.40 490.60C145.45 491.88 146.65 494.90 147.30 497.30C147.95 499.70 148.38 502.12 148.30 505.00C148.22 507.88 147.60 511.72 146.80 514.60C146.00 517.48 144.70 520.22 143.50 522.30C142.30 524.38 140.88 526.22 139.60 527.10C138.32 527.98 136.52 528.57 135.80 527.60C135.08 526.63 135.22 523.95 135.30 521.30C135.38 518.65 136.13 515.05 136.30 511.70C136.47 508.35 136.23 504.23 136.30 501.20C136.37 498.17 136.30 495.27 136.70 493.50C137.10 491.73 137.98 491.25 138.70 490.60C139.42 489.95 140.05 489.60 141.00 489.60Z" fill="url(#spg1)" stroke="#2c0707" stroke-width="0.9" stroke-opacity="0.6"/>
<path d="M165.10 493.00C166.23 492.83 167.53 492.88 168.50 494.40C169.47 495.92 170.35 499.22 170.90 502.10C171.45 504.98 171.73 508.65 171.80 511.70C171.87 514.75 171.85 517.98 171.30 520.40C170.75 522.82 169.62 524.92 168.50 526.20C167.38 527.48 165.65 527.95 164.60 528.10C163.55 528.25 162.68 528.38 162.20 527.10C161.72 525.82 161.70 523.12 161.70 520.40C161.70 517.68 162.27 514.00 162.20 510.80C162.13 507.60 161.38 503.77 161.30 501.20C161.22 498.63 161.07 496.77 161.70 495.40C162.33 494.03 163.97 493.17 165.10 493.00Z" fill="url(#spg1)" stroke="#2c0707" stroke-width="0.9" stroke-opacity="0.6"/>
<path d="M193.10 471.20C194.92 471.05 197.32 470.18 199.40 472.60C201.48 475.02 204.00 480.97 205.60 485.70C207.20 490.43 208.65 496.15 209.00 501.00C209.35 505.85 208.62 510.65 207.70 514.80C206.78 518.95 205.35 522.67 203.50 525.90C201.65 529.13 198.45 532.37 196.60 534.20C194.75 536.03 193.78 536.45 192.40 536.90C191.02 537.35 189.33 537.82 188.30 536.90C187.27 535.98 186.32 534.17 186.20 531.40C186.08 528.63 187.25 524.45 187.60 520.30C187.95 516.15 188.53 511.10 188.30 506.50C188.07 501.90 186.67 497.08 186.20 492.70C185.73 488.32 185.12 483.40 185.50 480.20C185.88 477.00 187.23 475.00 188.50 473.50C189.77 472.00 191.28 471.35 193.10 471.20Z" fill="url(#spg3)" stroke="#2c0707" stroke-width="0.9" stroke-opacity="0.6"/>
<path d="M224.30 482.30C225.85 482.33 228.08 481.52 229.80 483.70C231.52 485.88 233.45 491.60 234.60 495.40C235.75 499.20 236.58 502.58 236.70 506.50C236.82 510.42 236.22 515.22 235.30 518.90C234.38 522.58 232.70 526.28 231.20 528.60C229.70 530.92 227.57 532.10 226.30 532.80C225.03 533.50 224.52 533.73 223.60 532.80C222.68 531.87 221.03 530.43 220.80 527.20C220.57 523.97 222.08 517.77 222.20 513.40C222.32 509.03 222.08 505.15 221.50 501.00C220.92 496.85 218.87 491.42 218.70 488.50C218.53 485.58 219.57 484.53 220.50 483.50C221.43 482.47 222.75 482.27 224.30 482.30Z" fill="url(#spg1)" stroke="#2c0707" stroke-width="0.9" stroke-opacity="0.6"/>
<circle cx="141.2" cy="510.9" r="0.63" fill="#e0a898" opacity="0.8"/>
<circle cx="146.4" cy="496.8" r="0.71" fill="#e0a898" opacity="0.8"/>
<circle cx="139.2" cy="493.0" r="0.70" fill="#a8443a" opacity="0.8"/>
<circle cx="140.5" cy="506.8" r="0.71" fill="#c87868" opacity="0.8"/>
<circle cx="135.8" cy="523.0" r="0.79" fill="#a8443a" opacity="0.8"/>
<circle cx="139.5" cy="512.1" r="0.66" fill="#c87868" opacity="0.8"/>
<circle cx="143.6" cy="508.6" r="0.63" fill="#a8443a" opacity="0.8"/>
<circle cx="144.5" cy="501.6" r="0.66" fill="#c87868" opacity="0.8"/>
<circle cx="136.7" cy="493.7" r="0.59" fill="#8a2a24" opacity="0.8"/>
<circle cx="147.1" cy="507.5" r="0.61" fill="#e0a898" opacity="0.8"/>
<circle cx="142.7" cy="497.1" r="0.57" fill="#8a2a24" opacity="0.8"/>
<circle cx="140.6" cy="524.7" r="0.52" fill="#c87868" opacity="0.8"/>
<circle cx="145.7" cy="496.4" r="0.62" fill="#c87868" opacity="0.8"/>
<circle cx="137.8" cy="517.4" r="0.61" fill="#c87868" opacity="0.8"/>
<circle cx="165.3" cy="506.9" r="0.40" fill="#c87868" opacity="0.8"/>
<circle cx="161.5" cy="499.6" r="0.42" fill="#a8443a" opacity="0.8"/>
<circle cx="162.8" cy="508.5" r="0.79" fill="#a8443a" opacity="0.8"/>
<circle cx="164.8" cy="503.4" r="0.44" fill="#a8443a" opacity="0.8"/>
<circle cx="163.5" cy="515.3" r="0.70" fill="#a8443a" opacity="0.8"/>
<circle cx="165.2" cy="508.9" r="0.82" fill="#e0a898" opacity="0.8"/>
<circle cx="162.7" cy="506.6" r="0.56" fill="#c87868" opacity="0.8"/>
<circle cx="163.7" cy="514.4" r="0.48" fill="#c87868" opacity="0.8"/>
<circle cx="167.9" cy="512.4" r="0.84" fill="#e0a898" opacity="0.8"/>
<circle cx="167.6" cy="507.8" r="0.45" fill="#a8443a" opacity="0.8"/>
<circle cx="166.7" cy="502.0" r="0.53" fill="#e0a898" opacity="0.8"/>
<circle cx="169.9" cy="513.9" r="0.66" fill="#8a2a24" opacity="0.8"/>
<circle cx="188.5" cy="502.7" r="0.54" fill="#a8443a" opacity="0.8"/>
<circle cx="196.0" cy="475.2" r="0.54" fill="#c87868" opacity="0.8"/>
<circle cx="187.7" cy="480.3" r="0.89" fill="#e0a898" opacity="0.8"/>
<circle cx="200.9" cy="516.6" r="0.69" fill="#c87868" opacity="0.8"/>
<circle cx="207.2" cy="502.4" r="0.75" fill="#8a2a24" opacity="0.8"/>
<circle cx="200.5" cy="502.9" r="0.56" fill="#8a2a24" opacity="0.8"/>
<circle cx="198.3" cy="519.6" r="0.80" fill="#c87868" opacity="0.8"/>
<circle cx="207.0" cy="494.3" r="0.85" fill="#e0a898" opacity="0.8"/>
<circle cx="206.0" cy="498.6" r="0.83" fill="#a8443a" opacity="0.8"/>
<circle cx="199.0" cy="512.3" r="0.59" fill="#e0a898" opacity="0.8"/>
<circle cx="187.6" cy="478.8" r="0.84" fill="#8a2a24" opacity="0.8"/>
<circle cx="202.6" cy="496.7" r="0.62" fill="#e0a898" opacity="0.8"/>
<circle cx="199.6" cy="502.8" r="0.88" fill="#c87868" opacity="0.8"/>
<circle cx="188.2" cy="522.4" r="0.53" fill="#e0a898" opacity="0.8"/>
<circle cx="201.4" cy="484.5" r="0.78" fill="#c87868" opacity="0.8"/>
<circle cx="193.5" cy="532.3" r="0.85" fill="#e0a898" opacity="0.8"/>
<circle cx="193.2" cy="514.9" r="0.72" fill="#c87868" opacity="0.8"/>
<circle cx="204.4" cy="520.8" r="0.84" fill="#c87868" opacity="0.8"/>
<circle cx="225.6" cy="511.7" r="0.50" fill="#8a2a24" opacity="0.8"/>
<circle cx="227.2" cy="529.0" r="0.59" fill="#e0a898" opacity="0.8"/>
<circle cx="228.1" cy="516.2" r="0.56" fill="#e0a898" opacity="0.8"/>
<circle cx="233.6" cy="496.3" r="0.74" fill="#a8443a" opacity="0.8"/>
<circle cx="223.8" cy="500.2" r="0.72" fill="#a8443a" opacity="0.8"/>
<circle cx="226.0" cy="491.9" r="0.52" fill="#8a2a24" opacity="0.8"/>
<circle cx="221.2" cy="484.7" r="0.62" fill="#a8443a" opacity="0.8"/>
<circle cx="230.0" cy="515.4" r="0.88" fill="#8a2a24" opacity="0.8"/>
<circle cx="231.0" cy="492.4" r="0.53" fill="#e0a898" opacity="0.8"/>
<circle cx="231.6" cy="520.4" r="0.49" fill="#a8443a" opacity="0.8"/>
<circle cx="223.6" cy="499.8" r="0.60" fill="#c87868" opacity="0.8"/>
<circle cx="231.7" cy="488.9" r="0.50" fill="#e0a898" opacity="0.8"/>
<circle cx="228.6" cy="515.3" r="0.63" fill="#8a2a24" opacity="0.8"/>
<circle cx="230.4" cy="492.6" r="0.51" fill="#a8443a" opacity="0.8"/>
<circle cx="236.3" cy="509.4" r="0.53" fill="#8a2a24" opacity="0.8"/>
<circle cx="227.8" cy="484.2" r="0.68" fill="#8a2a24" opacity="0.8"/>
</g>
<line x1="220.10" y1="540.80" x2="236.00" y2="540.80" stroke="#111" stroke-width="1.5" />
<text x="112.70" y="555.50" font-size="8.6" text-anchor="start" font-style="italic" fill="#231f20" >Hbb</text>
<text x="112.70" y="568.10" font-size="8.6" text-anchor="start" font-style="italic" fill="#231f20" >miR</text>
<text x="140.50" y="555.50" font-size="8.6" text-anchor="middle" font-style="italic" fill="#231f20" >+/+</text>
<text x="140.50" y="568.10" font-size="8.6" text-anchor="middle" font-style="italic" fill="#231f20" >+/+</text>
<text x="165.60" y="555.50" font-size="8.6" text-anchor="middle" font-style="italic" fill="#231f20" >+/+</text>
<text x="165.60" y="568.10" font-size="8.6" text-anchor="middle" font-style="italic" fill="#231f20" >&#8211;/&#8211;</text>
<text x="195.20" y="555.50" font-size="8.6" text-anchor="middle" font-style="italic" fill="#231f20" >th3/+</text>
<text x="195.20" y="568.10" font-size="8.6" text-anchor="middle" font-style="italic" fill="#231f20" >+/+</text>
<text x="226.20" y="555.50" font-size="8.6" text-anchor="middle" font-style="italic" fill="#231f20" >th3/+</text>
<text x="226.20" y="568.10" font-size="8.6" text-anchor="middle" font-style="italic" fill="#231f20" >&#8211;/&#8211;</text>
<rect x="0.5" y="0.5" width="519" height="577" fill="none" stroke="#5a5a5a" stroke-width="1"/>
</svg></body></html>
